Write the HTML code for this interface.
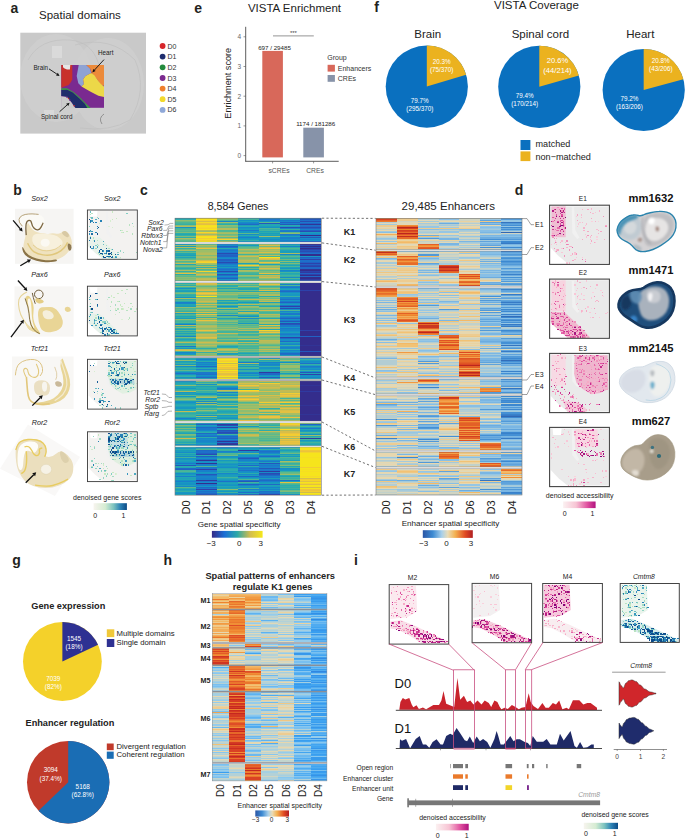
<!DOCTYPE html>
<html><head><meta charset="utf-8"><title>Figure</title>
<style>html,body{margin:0;padding:0;background:#fff;} svg{display:block;} text{font-family:"Liberation Sans",sans-serif;}</style>
</head><body>
<svg width="685" height="838" viewBox="0 0 685 838" font-family="Liberation Sans, sans-serif">
<defs><filter id="mb" x="-0.05" y="-0.05" width="1.1" height="1.1"><feGaussianBlur stdDeviation="0.3"/></filter></defs>
<rect width="685" height="838" fill="#fff"/>
<text x="10.5" y="12.8" font-size="14" font-weight="bold" fill="#231f20">a</text>
<text x="194.3" y="12.6" font-size="14" font-weight="bold" fill="#231f20">e</text>
<text x="374.3" y="12" font-size="14" font-weight="bold" fill="#231f20">f</text>
<text x="13.3" y="195.3" font-size="14" font-weight="bold" fill="#231f20">b</text>
<text x="39.5" y="201.0" font-size="7.2" font-style="italic" fill="#222" text-anchor="middle">Sox2</text>
<text x="112.2" y="201.0" font-size="7.2" font-style="italic" fill="#222" text-anchor="middle">Sox2</text>
<text x="39.5" y="277.2" font-size="7.2" font-style="italic" fill="#222" text-anchor="middle">Pax6</text>
<text x="112.2" y="277.2" font-size="7.2" font-style="italic" fill="#222" text-anchor="middle">Pax6</text>
<text x="39.5" y="351.0" font-size="7.2" font-style="italic" fill="#222" text-anchor="middle">Tcf21</text>
<text x="112.2" y="351.0" font-size="7.2" font-style="italic" fill="#222" text-anchor="middle">Tcf21</text>
<text x="39.5" y="425.09999999999997" font-size="7.2" font-style="italic" fill="#222" text-anchor="middle">Ror2</text>
<text x="112.2" y="425.09999999999997" font-size="7.2" font-style="italic" fill="#222" text-anchor="middle">Ror2</text>
<defs><filter id="ib" x="-0.1" y="-0.1" width="1.2" height="1.2"><feGaussianBlur stdDeviation="0.35"/></filter></defs>
<rect x="15" y="208.8" width="58.6" height="55" fill="#f6f5f3"/>
<rect x="14.5" y="286.4" width="59.1" height="50.2" fill="#f7f6f4"/>
<rect x="12" y="356.5" width="61.6" height="52.6" fill="#f8f7f5"/>
<polygon points="28.0,424.6 80.0,457.0 54.9,496.0 0.0,468.7" fill="#f9f8f7"/>
<g filter="url(#ib)"><path d="M18.8,219.2 Q19.4,217.0 22.1,215.5 Q24.9,214.1 28.5,213.7 Q32.1,213.3 35.3,213.7 Q38.4,214.1 41.1,215.5 Q43.9,217.0 44.5,221.0 Q45.2,225.1 43.2,227.9 Q41.1,230.7 38.4,231.2 Q35.7,231.6 33.5,230.4 Q31.2,229.2 28.9,228.7 Q26.7,228.3 24.4,227.6 Q22.1,226.9 20.1,224.2 Q18.1,221.5 18.8,219.2 Z" fill="#fbfaf6"/>
<path d="M26.4,230.5 Q26.2,233.2 25.2,237.3 Q24.1,241.4 23.6,244.6 Q23.0,247.7 24.4,250.9 Q25.8,254.1 28.9,256.3 Q32.1,258.6 36.6,260.0 Q41.1,261.5 45.7,261.6 Q50.2,261.7 54.7,260.3 Q59.2,258.9 62.9,256.7 Q66.5,254.4 68.8,251.2 Q71.2,247.9 71.7,244.6 Q72.3,241.4 70.9,237.8 Q69.6,234.1 67.2,232.2 Q64.9,230.2 63.0,231.4 Q61.1,232.7 59.2,233.4 Q57.4,234.1 55.2,233.6 Q52.9,233.1 50.7,233.6 Q48.4,234.1 45.7,233.7 Q43.0,233.2 40.2,232.9 Q37.5,232.5 35.0,231.2 Q32.6,229.8 31.2,227.7 Q29.8,225.6 28.7,223.7 Q27.6,221.9 27.0,224.9 Q26.5,227.8 26.4,230.5 Z" fill="#efe2bf"/>
<path d="M32.3,237.8 Q33.0,234.1 37.1,233.7 Q41.1,233.2 45.7,233.7 Q50.2,234.1 53.8,235.1 Q57.4,236.0 60.4,238.7 Q63.3,241.4 62.4,244.1 Q61.5,246.8 57.7,248.2 Q53.8,249.5 48.8,249.9 Q43.9,250.3 39.8,248.8 Q35.7,247.3 33.7,244.3 Q31.6,241.4 32.3,237.8 Z" fill="#f7f0dc"/>
<path d="M22.3,247.4 Q22.6,245.9 24.0,249.3 Q25.3,252.7 28.7,255.0 Q32.1,257.2 36.6,258.6 Q41.1,259.9 45.7,260.2 Q50.2,260.4 53.6,259.7 Q57.0,259.0 57.1,260.2 Q57.3,261.3 53.7,261.8 Q50.2,262.4 45.7,262.2 Q41.1,262.0 36.4,260.8 Q31.6,259.5 28.0,257.2 Q24.4,255.0 23.2,251.9 Q22.0,248.8 22.3,247.4 Z" fill="#8a7346"/>
<path d="M67.7,246.6 Q67.2,242.7 69.6,243.7 Q71.9,244.6 71.6,247.7 Q71.2,250.9 69.7,250.7 Q68.1,250.4 67.7,246.6 Z" fill="#8f7a52"/>
<path d="M26.2,235.1 Q25.6,227.8 26.1,224.2 Q26.7,220.6 28.9,220.3 Q31.2,220.1 31.6,223.1 Q32.1,226.0 33.9,228.0 Q35.7,230.1 37.8,229.9 Q39.8,229.6 40.9,227.4 Q42.1,225.1 42.6,224.0 L43.1,222.8" fill="none" stroke="#7d6842" stroke-width="1.3"/>
<path d="M22.3,226.2 Q18.3,221.9 19.0,219.4 Q19.6,216.8 22.3,215.5 Q25.0,214.2 28.6,214.0 Q32.1,213.7 35.4,214.1 L38.6,214.4" fill="none" stroke="#a58d5c" stroke-width="0.8"/>
<path d="M27.6,243.2 Q30.7,249.5 34.1,251.8 Q37.5,254.1 43.0,254.9 Q48.4,255.7 52.9,254.5 Q57.4,253.3 61.1,250.6 Q64.7,247.9 66.1,245.1 L67.6,242.3" fill="none" stroke="#e0c77c" stroke-width="1.4"/>
<path d="M33.0,245.0 Q37.5,249.5 42.1,250.4 Q46.6,251.3 51.1,250.4 Q55.6,249.5 58.3,247.3 L61.1,245.0" fill="none" stroke="#e6d092" stroke-width="1"/>
<ellipse cx="45.2" cy="242.7" rx="4.5" ry="4" fill="#fbf9f2"/>
<path d="M62.9,234.4 Q61.1,232.8 63.0,231.6 Q64.9,230.3 67.2,232.2 Q69.6,234.1 68.9,236.0 Q68.3,237.8 66.5,236.9 Q64.7,236.0 62.9,234.4 Z" fill="#d8c9a4"/>
<path d="M26.9,291.9 Q19.9,295.4 18.9,299.6 Q17.9,303.8 19.2,309.3 Q20.4,314.7 22.6,318.2 Q24.9,321.7 27.4,325.7 L29.8,329.6" fill="none" stroke="#e6d49a" stroke-width="1.1"/>
<path d="M25.9,324.7 Q24.9,321.7 27.9,324.7 Q30.8,327.7 34.3,329.6 Q37.8,331.6 35.3,331.9 Q32.8,332.1 29.8,329.9 Q26.9,327.7 25.9,324.7 Z" fill="#ecdca8"/>
<path d="M25.6,300.3 Q24.9,296.9 26.9,295.9 Q28.9,294.9 30.6,297.9 Q32.3,300.8 33.2,304.3 Q34.0,307.8 33.5,311.8 Q33.0,315.7 33.5,319.2 Q34.0,322.7 35.9,326.2 Q37.8,329.6 39.5,331.9 Q41.3,334.1 39.0,333.9 Q36.8,333.6 34.3,331.6 Q31.8,329.6 30.6,325.7 Q29.4,321.7 29.1,315.7 Q28.9,309.8 27.6,306.8 Q26.4,303.8 25.6,300.3 Z" fill="#e8d38c"/>
<path d="M27.6,301.3 Q27.4,298.9 28.6,298.4 Q29.8,297.9 30.6,300.8 Q31.3,303.8 31.5,308.8 Q31.6,313.7 32.0,317.7 Q32.3,321.7 33.6,325.2 Q34.8,328.6 33.8,328.1 Q32.8,327.7 31.6,324.2 Q30.3,320.7 29.8,315.2 Q29.4,309.8 28.6,306.8 Q27.9,303.8 27.6,301.3 Z" fill="#faf7ee"/>
<path d="M25.1,298.4 Q28.7,307.8 29.0,313.7 Q29.3,319.7 31.0,324.7 Q32.8,329.6 36.3,331.7 L39.8,333.8" fill="none" stroke="#7d6a44" stroke-width="0.9"/>
<path d="M38.0,315.2 Q37.8,307.8 41.8,307.3 Q45.7,306.8 50.2,306.9 Q54.7,307.0 58.1,311.4 Q61.6,315.7 62.6,320.2 Q63.6,324.7 60.6,328.1 Q57.7,331.6 50.2,332.2 Q42.8,332.8 40.5,327.8 Q38.3,322.7 38.0,315.2 Z" fill="#e9d596"/>
<path d="M42.8,314.7 Q41.8,310.8 45.7,310.3 Q49.7,309.8 52.2,312.8 Q54.7,315.7 53.2,317.7 Q51.7,319.7 47.7,319.2 Q43.7,318.7 42.8,314.7 Z" fill="#f5efdc"/>
<path d="M64.7,308.9 Q64.6,307.0 67.1,306.8 Q69.6,306.6 70.6,308.7 Q71.6,310.8 69.6,311.5 Q67.6,312.3 66.2,311.5 Q64.8,310.8 64.7,308.9 Z" fill="#e8d494"/>
<circle cx="38.8" cy="294.4" r="4.3" fill="none" stroke="#6e5c3a" stroke-width="1"/>
<path d="M32.3,292.9 Q33.3,297.9 34.3,300.8 L35.3,303.8" fill="none" stroke="#6e5c3a" stroke-width="1"/>
<path d="M35.3,300.3 Q34.8,297.9 37.8,298.4 Q40.8,298.9 42.8,300.3 Q44.7,301.8 42.8,302.8 Q40.8,303.8 38.3,303.3 Q35.8,302.8 35.3,300.3 Z" fill="#e4cd86"/>
<path d="M60.9,361.2 Q62.1,356.5 63.4,360.2 Q64.6,363.9 66.6,368.9 Q68.6,373.8 69.7,379.3 Q70.8,384.8 69.3,389.8 Q67.8,394.9 64.3,397.9 Q60.8,400.9 55.3,403.0 Q49.7,405.1 43.7,405.4 Q37.8,405.6 34.3,404.1 Q30.8,402.6 34.3,402.6 Q37.8,402.6 43.7,401.7 Q49.7,400.7 53.7,398.2 Q57.7,395.7 60.6,391.2 Q63.6,386.8 63.4,380.8 Q63.1,374.8 61.4,370.4 Q59.6,365.9 60.9,361.2 Z" fill="#e8d596"/>
<path d="M60.6,359.9 Q65.6,373.8 66.6,379.3 Q67.6,384.8 65.6,389.7 Q63.6,394.7 59.1,397.7 L54.7,400.7" fill="none" stroke="#f3ead0" stroke-width="1.2"/>
<path d="M15.4,375.3 Q16.1,366.9 19.0,364.0 Q21.9,361.1 26.4,360.1 Q30.8,359.1 34.3,359.6 Q37.8,360.1 39.9,362.5 Q42.0,364.9 42.5,368.4 Q43.0,371.9 41.5,373.9 L40.0,376.0" fill="none" stroke="#dcc384" stroke-width="1"/>
<path d="M25.9,376.8 Q22.9,370.9 23.9,369.4 Q24.9,367.9 26.4,368.6 Q27.9,369.4 28.1,372.1 Q28.4,374.8 31.1,376.4 Q33.8,378.0 36.1,376.9 Q38.3,375.8 38.6,372.9 Q39.0,369.9 37.6,366.9 L36.3,363.9" fill="none" stroke="#e2c97e" stroke-width="1.1"/>
<path d="M26.4,376.8 Q27.1,386.8 27.6,391.7 Q28.1,396.7 29.5,399.3 Q31.0,401.9 34.4,403.2 Q37.8,404.6 43.7,404.2 L49.7,403.8" fill="none" stroke="#e2c77a" stroke-width="1.6"/>
<path d="M34.0,386.0 Q34.0,380.3 41.9,380.3 Q49.7,380.3 50.0,388.0 Q50.2,395.7 44.0,395.7 Q37.8,395.7 35.9,393.7 Q34.0,391.7 34.0,386.0 Z" fill="#eadfc2"/>
<path d="M42.0,386.8 Q41.8,381.8 44.5,381.8 Q47.2,381.8 47.1,386.8 Q46.9,391.7 44.6,391.7 Q42.3,391.7 42.0,386.8 Z" fill="#f7f5ef"/>
<path d="M55.2,383.8 Q54.7,380.8 58.1,381.3 Q61.6,381.8 61.9,384.3 Q62.1,386.8 58.9,386.8 Q55.7,386.8 55.2,383.8 Z" fill="#c9b99a"/>
<path d="M54.7,366.9 Q57.7,373.8 56.7,376.8 L55.7,379.8" fill="none" stroke="#dccaa0" stroke-width="0.9"/>
<path d="M15.8,458.2 Q15.2,450.0 16.4,446.5 Q17.5,443.0 20.4,441.3 Q23.4,439.5 28.0,439.2 Q32.7,438.9 36.8,439.8 Q40.9,440.7 43.3,443.0 Q45.8,445.4 46.4,449.0 Q46.9,452.6 46.0,454.8 Q45.0,457.0 48.8,457.0 Q52.6,457.0 56.4,453.5 Q60.1,450.0 64.2,452.4 Q68.3,454.7 71.1,459.4 Q73.8,464.0 73.2,469.9 Q72.6,475.7 69.1,479.3 Q65.6,483.0 59.1,485.5 Q52.6,488.0 45.5,488.0 Q38.5,488.0 33.3,485.9 Q28.0,483.9 24.5,480.4 Q21.0,476.9 18.7,471.6 Q16.4,466.4 15.8,458.2 Z" fill="#ebdfbe"/>
<path d="M17.5,458.8 Q17.5,448.9 20.4,445.5 Q23.4,442.1 29.2,441.5 Q35.0,440.9 37.1,443.4 Q39.1,445.9 37.1,449.9 Q35.0,453.8 32.8,452.6 Q30.6,451.4 28.3,450.8 Q25.9,450.3 24.8,453.2 Q23.6,456.1 23.2,463.6 Q22.8,471.1 20.1,469.9 Q17.5,468.7 17.5,458.8 Z" fill="#fdfcf8"/>
<path d="M15.8,450.0 Q17.5,443.6 20.4,441.7 Q23.4,439.8 28.0,439.5 Q32.7,439.2 36.8,440.0 Q40.9,440.9 43.2,443.3 Q45.5,445.6 46.0,449.1 Q46.5,452.6 45.5,454.7 L44.6,456.8" fill="none" stroke="#e8cc60" stroke-width="1.3"/>
<path d="M24.5,446.8 Q28.3,445.6 30.0,447.9 Q31.8,450.3 32.9,452.6 Q34.1,454.9 35.9,455.5 Q37.6,456.1 38.8,454.4 Q39.9,452.6 39.4,450.8 Q38.8,449.1 40.5,448.5 L42.3,447.9" fill="none" stroke="#e8cc60" stroke-width="1.4"/>
<path d="M26.3,451.2 Q27.1,460.5 26.1,465.8 Q25.1,471.1 23.2,472.3 L21.3,473.6" fill="none" stroke="#e8cc60" stroke-width="1.4"/>
<path d="M35.0,485.1 Q46.7,486.9 52.6,485.5 Q58.4,484.1 63.2,481.7 L68.0,479.2" fill="none" stroke="#e8cc60" stroke-width="1.4"/>
<ellipse cx="46.1" cy="469.3" rx="5.5" ry="5" fill="#f6f2e6" stroke="#d8ccaa" stroke-width="0.4"/>
<path d="M60.1,454.7 Q59.6,450.0 62.5,451.8 Q65.4,453.5 67.7,457.0 Q70.1,460.5 67.7,462.3 Q65.4,464.0 63.1,461.7 Q60.7,459.4 60.1,454.7 Z" fill="#ddd0ac"/></g>
<line x1="13.1" y1="220.3" x2="20.3" y2="228.8" stroke="#111" stroke-width="1.3"/><polygon points="22.6,231.6 18.8,230.1 21.8,227.6" fill="#111"/>
<line x1="20.3" y1="265.8" x2="27.9" y2="261.3" stroke="#111" stroke-width="1.3"/><polygon points="31,259.5 28.9,263.0 26.9,259.6" fill="#111"/>
<line x1="17.9" y1="280.5" x2="25.0" y2="288.2" stroke="#111" stroke-width="1.3"/><polygon points="27.4,290.9 23.5,289.6 26.4,286.9" fill="#111"/>
<line x1="11" y1="337.1" x2="21.8" y2="322.6" stroke="#111" stroke-width="1.3"/><polygon points="23.9,319.7 23.4,323.8 20.1,321.4" fill="#111"/>
<line x1="32.3" y1="405.6" x2="40.2" y2="397.7" stroke="#111" stroke-width="1.3"/><polygon points="42.8,395.2 41.6,399.2 38.8,396.3" fill="#111"/>
<line x1="25.7" y1="482.7" x2="33.7" y2="474.7" stroke="#111" stroke-width="1.3"/><polygon points="36.2,472.2 35.1,476.2 32.2,473.3" fill="#111"/>
<rect x="87.4" y="210" width="49.9" height="49.3" fill="#fff"/>
<polygon points="88.4,211.0 136.3,211.0 136.3,258.3 102.4,258.3 94.9,252.4 88.4,245.5" fill="#f3f2f0"/>
<polygon points="89.9,211.0 97.4,211.0 96.9,216.4 90.4,216.4" fill="#fff"/>
<polygon points="105.9,211.5 107.9,211.5 108.9,230.7 112.4,237.1 110.4,238.1 106.4,233.2" fill="#f1f1f1"/>
<polygon points="88.4,237.1 99.9,237.6 109.9,247.0 117.3,254.4 121.3,258.8 102.4,258.8 94.9,252.4 88.4,246.5" fill="#e8f2ea"/>
<g filter="url(#mb)"><path d="M95.2 222.4h1.3m0 22h1.3m7.8 1.4h1.3m13-15.6h1.3m14.3 22h1.3" stroke="#a6dcc2" stroke-width="1.3" shape-rendering="crispEdges"/>
<path d="M99.1 223.6h1.3m7.8 30h1.3m3.9 3.8h1.3m6.5-27.2h1.3m-1.3 2.6h1.3m10.4-6.6h1.3" stroke="#cfecc9" stroke-width="1.3" shape-rendering="crispEdges"/>
<path d="M92.6 240.6h1.3m15.6-19.6h1.3m0 36.4h1.3m0-29.8h1.3" stroke="#d6eecf" stroke-width="1.3" shape-rendering="crispEdges"/>
<path d="M88.7 226.2h1.3m0-9h1.3m3.9 28.6h1.3m1.3 6.4h1.3m0 2.6h1.3m26-41.6h1.3" stroke="#81cec4" stroke-width="1.3" shape-rendering="crispEdges"/>
<path d="M100.4 254.8h1.3m0 0h1.3m2.6 0h1.3m5.2-42.8h1.3m-1.3 7.8h1.3m-1.3 35h1.3m2.6-36.4h1.3m2.6 39h1.3m5.2-26h1.3" stroke="#c8e9c2" stroke-width="1.3" shape-rendering="crispEdges"/>
<path d="M108.2 226.2h1.3" stroke="#ddf1d6" stroke-width="1.3" shape-rendering="crispEdges"/>
<path d="M90 214.6h1.3m-1.3 22h1.3m0-23.4h1.3m0 24.8h1.3m2.6 2.6h1.3m0 5.2h1.3m-1.3 7.8h1.3m2.6 2.6h1.3m5.2-7.8h1.3m-1.3 2.6h1.3m-1.3 6.4h1.3m1.3-7.8h1.3m10.4-16.8h1.3m5.2-7.8h1.3m1.3 9h1.3" stroke="#b9e3c1" stroke-width="1.3" shape-rendering="crispEdges"/>
<path d="M90 217.2h1.3m0 16.8h1.3m2.6 14.4h1.3m0-31.2h1.3m7.8 36.4h1.3m1.3 3.8h1.3m2.6-1.2h1.3m1.3 1.2h1.3m1.3-5.2h1.3m1.3-1.2h1.3m1.3 1.2h1.3m7.8-28.6h1.3" stroke="#93d5c3" stroke-width="1.3" shape-rendering="crispEdges"/>
<path d="M90 222.4h1.3m2.6 19.4h1.3m0-19.4h1.3m-1.3 10.4h1.3m0-6.6h1.3m-1.3 2.6h1.3m1.3 22.2h1.3m0-30h1.3m0 32.6h1.3m-1.3 1.2h1.3m3.9-3.8h1.3m0 3.8h1.3m2.6 2.6h1.3m2.6 0h1.3" stroke="#2782b6" stroke-width="1.3" shape-rendering="crispEdges"/>
<path d="M95.2 219.8h1.3m0 27.2h1.3m0-28.6h1.3m3.9 23.4h1.3m7.8 7.8h1.3m1.3 6.6h1.3m1.3-1.4h1.3" stroke="#50aac1" stroke-width="1.3" shape-rendering="crispEdges"/>
<path d="M88.7 219.8h1.3m-1.3 14.2h1.3m0 13h1.3m0-28.6h1.3m7.8 31.2h1.3m1.3 1.4h1.3m1.3-2.6h1.3m1.3 2.6h1.3m1.3 3.8h1.3m-1.3 2.6h1.3m0-1.2h1.3m1.3-1.4h1.3m-1.3 2.6h1.3" stroke="#155c98" stroke-width="1.3" shape-rendering="crispEdges"/>
<path d="M90 212h1.3m-1.3 19.4h1.3m0-14.2h1.3m-1.3 1.2h1.3m6.5 32.6h1.3m2.6-6.6h1.3m6.5 9.2h1.3m3.9 2.6h1.3" stroke="#6abec3" stroke-width="1.3" shape-rendering="crispEdges"/>
<path d="M88.7 234h1.3m0-3.8h1.3m0-9.2h1.3m-1.3 10.4h1.3m-1.3 17h1.3m0-1.4h1.3m-1.3 1.4h1.3m0-7.8h1.3m6.5 10.4h1.3m0 0h1.3m-1.3 5.2h1.3m0-2.6h1.3m-1.3 0h1.3m0-1.4h1.3m-1.3 4h1.3m3.9-1.4h1.3m2.6 2.6h1.3m0 0h1.3" stroke="#3896bf" stroke-width="1.3" shape-rendering="crispEdges"/>
<path d="M88.7 240.6h1.3m0-19.6h1.3m-1.3 17h1.3m0-4h1.3m0-11.6h1.3m5.2 29.8h1.3m1.3-1.2h1.3m-1.3 2.6h1.3m0 3.8h1.3m1.3-6.4h1.3m-1.3 2.6h1.3m0 2.6h1.3m0-1.4h1.3m-1.3 1.4h1.3m-1.3 0h1.3m0 0h1.3m1.3 0h1.3m-1.3 0h1.3m-1.3 1.2h1.3" stroke="#1e70a7" stroke-width="1.3" shape-rendering="crispEdges"/>
<path d="M88.7 219.8h1.3m-1.3 11.6h1.3m6.5 2.6h1.3m0-6.4h1.3m0 23.4h1.3m0 2.6h1.3m1.3 2.6h1.3m0 1.2h1.3m2.6-3.8h1.3m0 0h1.3m-1.3 2.6h1.3m0-4h1.3m-1.3 2.6h1.3" stroke="#0c4a89" stroke-width="1.3" shape-rendering="crispEdges"/></g>
<rect x="87.4" y="210" width="49.9" height="49.3" fill="none" stroke="#3a3a3a" stroke-width="0.9"/>
<rect x="87.4" y="286.2" width="49.9" height="49.7" fill="#fff"/>
<polygon points="88.4,287.2 136.3,287.2 136.3,334.9 102.4,334.9 94.9,328.9 88.4,322.0" fill="#f3f2f0"/>
<polygon points="89.9,287.2 97.4,287.2 96.9,292.7 90.4,292.7" fill="#fff"/>
<polygon points="105.9,287.7 107.9,287.7 108.9,307.1 112.4,313.5 110.4,314.5 106.4,309.6" fill="#f1f1f1"/>
<polygon points="88.4,313.5 99.9,314.0 109.9,323.5 117.3,330.9 121.3,335.4 102.4,335.4 94.9,328.9 88.4,323.0" fill="#e6f1ea"/>
<g filter="url(#mb)"><path d="M96.5 323.2h1.3m5.2-5.2h1.3m9.1-20.8h1.3m2.6-3.9h1.3m-1.3 7.9h1.3m1.3 3.8h1.3m0-14.3h1.3m-1.3 18.3h1.3m-1.3 0h1.3m1.3-5.3h1.3m2.6 3.9h1.3m-1.3 11.7h1.3m2.6-13h1.3" stroke="#c8e9c2" stroke-width="1.3" shape-rendering="crispEdges"/>
<path d="M88.7 318h1.3m2.6 5.2h1.3m1.3 1.3h1.3m10.4-24.7h1.3m-1.3 28.6h1.3m2.6-32.4h1.3m2.6 13h1.3m-1.3 5.2h1.3m5.2-7.9h1.3m13 2.7h1.3" stroke="#cfecc9" stroke-width="1.3" shape-rendering="crispEdges"/>
<path d="M95.2 315.4h1.3m26-6.4h1.3" stroke="#d6eecf" stroke-width="1.3" shape-rendering="crispEdges"/>
<path d="M90 299.8h1.3m3.9 18.2h1.3m1.3-3.8h1.3m0 3.8h1.3m-1.3 10.4h1.3m5.2-7.8h1.3m-1.3 2.6h1.3m-1.3 7.8h1.3m0-6.5h1.3m0-1.3h1.3m0-16.9h1.3m0-5.1h1.3m-1.3 1.2h1.3m2.6 7.8h1.3m0 20.8h1.3m0-22h1.3m0 3.8h1.3m5.2-19.5h1.3m0-3.9h1.3m-1.3 20.8h1.3m1.3 7.8h1.3m0-14.3h1.3m2.6 7.8h1.3" stroke="#b9e3c1" stroke-width="1.3" shape-rendering="crispEdges"/>
<path d="M90 309h1.3m9.1 23.3h1.3m0-10.3h1.3m-1.3 0h1.3m5.2-24.8h1.3m0 13h1.3m3.9-5.2h1.3m2.6-3.8h1.3m10.4 7.8h1.3" stroke="#a6dcc2" stroke-width="1.3" shape-rendering="crispEdges"/>
<path d="M108.2 325.8h1.3m11.7-6.5h1.3" stroke="#ddf1d6" stroke-width="1.3" shape-rendering="crispEdges"/>
<path d="M88.7 306.3h1.3m0-2.6h1.3m-1.3 9.1h1.3m-1.3 2.6h1.3m6.5 3.9h1.3m3.9 2.7h1.3m2.6 0h1.3m7.8-11.8h1.3" stroke="#93d5c3" stroke-width="1.3" shape-rendering="crispEdges"/>
<path d="M88.7 297.2h1.3m0 18.2h1.3m0-2.6h1.3m1.3 9.2h1.3m0-22.2h1.3m-1.3 20.8h1.3m0-27.3h1.3m-1.3 20.9h1.3m3.9 15.5h1.3m2.6-2.5h1.3m1.3 2.5h1.3m3.9 1.3h1.3m0-1.3h1.3m0 2.6h1.3" stroke="#6abec3" stroke-width="1.3" shape-rendering="crispEdges"/>
<path d="M88.7 320.6h1.3m0-24.6h1.3m-1.3 10.3h1.3m0 2.7h1.3m2.6-15.7h1.3m2.6 28.7h1.3m1.3 6.4h1.3m-1.3 1.3h1.3m-1.3 3.9h1.3m1.3-5.2h1.3m1.3 1.3h1.3m-1.3 5.3h1.3m0-7.8h1.3m-1.3 3.8h1.3m1.3 0h1.3m1.3 1.3h1.3m1.3 0h1.3" stroke="#0c4a89" stroke-width="1.3" shape-rendering="crispEdges"/>
<path d="M88.7 299.8h1.3m3.9 19.5h1.3m-1.3 3.9h1.3m0 2.6h1.3m2.6 1.4h1.3m1.3 2.5h1.3m3.9 3.9h1.3m0-2.6h1.3m3.9 2.6h1.3m1.3-1.3h1.3m-1.3 1.3h1.3" stroke="#50aac1" stroke-width="1.3" shape-rendering="crispEdges"/>
<path d="M96.5 299.8h1.3m-1.3 6.5h1.3m0 10.4h1.3m-1.3 1.3h1.3m1.3 0h1.3m0 13h1.3m0 0h1.3m3.9 4h1.3m0-7.8h1.3m-1.3 5.1h1.3m0-2.6h1.3m-1.3 1.3h1.3m-1.3 2.6h1.3m3.9 0h1.3" stroke="#1e70a7" stroke-width="1.3" shape-rendering="crispEdges"/>
<path d="M96.5 305h1.3m2.6 20.8h1.3m-1.3 2.6h1.3m0 1.3h1.3m0 1.3h1.3m-1.3 2.6h1.3m0-5.2h1.3m1.3 5.2h1.3m1.3-3.9h1.3m0 0h1.3m0 1.3h1.3m0-1.3h1.3" stroke="#155c98" stroke-width="1.3" shape-rendering="crispEdges"/>
<path d="M88.7 316.7h1.3m0-2.5h1.3m0 11.6h1.3m1.3-5.2h1.3m-1.3 2.6h1.3m1.3-16.9h1.3m2.6 14.3h1.3m0 6.6h1.3m-1.3 5.1h1.3m1.3-9.1h1.3m0 4h1.3m-1.3 1.2h1.3m0 6.6h1.3m2.6-6.6h1.3" stroke="#3896bf" stroke-width="1.3" shape-rendering="crispEdges"/>
<path d="M99.1 319.3h1.3m1.3 5.2h1.3m0-6.5h1.3m0 4h1.3m2.6 13h1.3m0-7.8h1.3" stroke="#81cec4" stroke-width="1.3" shape-rendering="crispEdges"/>
<path d="M96.5 323.2h1.3m0-6.5h1.3m0 10.5h1.3m0-2.7h1.3m-1.3 3.9h1.3m0 0h1.3m1.3 1.3h1.3m-1.3 5.3h1.3m2.6-7.8h1.3m0 1.2h1.3m1.3 5.2h1.3m1.3 0h1.3m1.3 0h1.3" stroke="#2782b6" stroke-width="1.3" shape-rendering="crispEdges"/></g>
<rect x="87.4" y="286.2" width="49.9" height="49.7" fill="none" stroke="#3a3a3a" stroke-width="0.9"/>
<rect x="87.5" y="359.3" width="49.8" height="49.8" fill="#fff"/>
<polygon points="88.5,360.3 136.3,360.3 136.3,408.1 102.4,408.1 95.0,402.1 88.5,395.2" fill="#f3f2f0"/>
<polygon points="90.0,360.3 97.5,360.3 97.0,365.8 90.5,365.8" fill="#fff"/>
<polygon points="105.9,360.8 107.9,360.8 108.9,380.2 112.4,386.7 110.4,387.7 106.4,382.7" fill="#f1f1f1"/>
<polygon points="108.4,360.8 135.8,360.8 136.3,389.2 129.8,392.7 122.4,393.7 114.9,389.2 109.9,384.2 107.9,376.7" fill="#e2f0e2"/>
<polygon points="108.9,378.7 133.8,378.7 134.8,384.2 112.4,384.2" fill="#b6d6dc"/>
<g filter="url(#mb)"><path d="M109.6 376.8h1.3m2.6-14.2h1.3m-1.3 7.7h1.3m0 13h1.3m6.5 5.3h1.3m6.5-10.4h1.3m2.6-17h1.3m-1.3 26h1.3" stroke="#c8e9c2" stroke-width="1.3" shape-rendering="crispEdges"/>
<path d="M112.2 367.8h1.3m1.3 20.8h1.3m9.1-22.2h1.3" stroke="#ddf1d6" stroke-width="1.3" shape-rendering="crispEdges"/>
<path d="M100.5 395h1.3m-1.3 9.2h1.3m5.2-28.6h1.3m2.6-7.8h1.3m-1.3 2.5h1.3m2.6 7.9h1.3m-1.3 7.8h1.3m-1.3 2.6h1.3m0-23.4h1.3m-1.3 9h1.3m2.6 33.8h1.3m0-31.2h1.3m1.3-15.6h1.3m-1.3 14.4h1.3m0-14.4h1.3m-1.3 2.6h1.3m3.9 24.8h1.3m0-24.8h1.3m0 20.8h1.3" stroke="#93d5c3" stroke-width="1.3" shape-rendering="crispEdges"/>
<path d="M92.7 391.2h1.3m14.3-15.6h1.3m-1.3 1.2h1.3m1.3 6.5h1.3m1.3 1.3h1.3m1.3-14.3h1.3m-1.3 19.5h1.3m0-5.2h1.3m1.3 5.2h1.3m0-10.4h1.3m0-11.6h1.3m-1.3 0h1.3m-1.3 1.2h1.3m-1.3 1.3h1.3m0 0h1.3m-1.3 2.7h1.3m0-4h1.3m0 22.2h1.3m0-1.4h1.3m1.3-13h1.3m2.6-5.2h1.3" stroke="#b9e3c1" stroke-width="1.3" shape-rendering="crispEdges"/>
<path d="M95.3 388.6h1.3m0 2.6h1.3m1.3 14.2h1.3m1.3-15.6h1.3m-1.3 4h1.3m0 0h1.3m-1.3 9h1.3m-1.3 2.6h1.3m0-7.8h1.3m1.3 7.8h1.3m-1.3 1.4h1.3m0-33.8h1.3m3.9-10.4h1.3m-1.3 6.4h1.3m0 39h1.3m0-32.4h1.3m0-5.3h1.3m0 10.5h1.3m-1.3 6.4h1.3m0-26h1.3m-1.3 4h1.3m-1.3 1.2h1.3m0 19.6h1.3m1.3-11.8h1.3m-1.3 11.8h1.3m1.3-17h1.3m2.6 13h1.3m-1.3 5.2h1.3m2.6-13h1.3" stroke="#6abec3" stroke-width="1.3" shape-rendering="crispEdges"/>
<path d="M96.6 393.8h1.3m10.4-23.5h1.3m0 11.7h1.3m2.6-1.2h1.3m6.5-7.8h1.3" stroke="#cfecc9" stroke-width="1.3" shape-rendering="crispEdges"/>
<path d="M94 371.6h1.3m5.2 20.8h1.3m10.4-20.8h1.3m2.6 14.4h1.3m6.5-17h1.3m7.8 0h1.3m0 18.2h1.3m0-3.9h1.3" stroke="#d6eecf" stroke-width="1.3" shape-rendering="crispEdges"/>
<path d="M94 363.8h1.3m3.9 35.2h1.3m-1.3 6.4h1.3m0-1.2h1.3m0-9.2h1.3m5.2-33.8h1.3m1.3 17h1.3m-1.3 6.4h1.3m0-22h1.3m3.9 13h1.3m-1.3 1.2h1.3m1.3 2.6h1.3m0-10.4h1.3m-1.3 4h1.3m2.6 7.8h1.3m3.9-13h1.3m-1.3 15.5h1.3m0-18.1h1.3" stroke="#a6dcc2" stroke-width="1.3" shape-rendering="crispEdges"/>
<path d="M101.8 408h1.3m5.2-35h1.3m0 2.6h1.3m0-4h1.3m0-7.8h1.3m0 7.8h1.3m0-1.3h1.3m-1.3 13h1.3m0-15.5h1.3m0 15.5h1.3m-1.3 5.3h1.3m0-14.4h1.3m0-7.8h1.3m1.3-5.2h1.3m0 6.6h1.3m0 20.8h1.3m1.3 2.6h1.3m1.3-4h1.3m0-22h1.3" stroke="#81cec4" stroke-width="1.3" shape-rendering="crispEdges"/>
<path d="M97.9 401.6h1.3m3.9-1.4h1.3m0 1.4h1.3m2.6-36.4h1.3m-1.3 1.2h1.3m-1.3 7.8h1.3m0-11.6h1.3m0 7.7h1.3m-1.3 35.1h1.3m0-26h1.3m1.3-3.8h1.3m-1.3 5.2h1.3m0-7.8h1.3m1.3 0h1.3m1.3-4h1.3m0-1.2h1.3m-1.3 1.2h1.3m0-5.2h1.3m-1.3 6.5h1.3m-1.3 3.9h1.3m0 4h1.3m0-7.9h1.3m5.2 16.9h1.3" stroke="#50aac1" stroke-width="1.3" shape-rendering="crispEdges"/>
<path d="M94 399h1.3m2.6-10.4h1.3m0 11.6h1.3m0 0h1.3m0-2.6h1.3m6.5-31.2h1.3m0 1.4h1.3m-1.3 5.2h1.3m0-10.4h1.3m-1.3 10.4h1.3m0 11.6h1.3m0-5.2h1.3m0-7.8h1.3m1.3-7.8h1.3m-1.3 15.6h1.3m1.3-11.6h1.3m-1.3 1.2h1.3m5.2 5.2h1.3m2.6 5.2h1.3" stroke="#3896bf" stroke-width="1.3" shape-rendering="crispEdges"/>
<path d="M92.7 365.2h1.3m9.1 36.4h1.3m6.5-19.6h1.3m0 1.3h1.3m1.3-1.3h1.3m-1.3 1.3h1.3m0-2.5h1.3m-1.3 2.5h1.3m0-22.1h1.3m-1.3 23.4h1.3m0-15.6h1.3m-1.3 10.4h1.3m1.3 0h1.3m-1.3 0h1.3m3.9 1.4h1.3m0-1.4h1.3m1.3 1.4h1.3m0-6.6h1.3m0 5.2h1.3" stroke="#2782b6" stroke-width="1.3" shape-rendering="crispEdges"/>
<path d="M88.8 371.6h1.3m2.6-6.4h1.3m0 27.2h1.3m6.5 7.8h1.3m5.2-36.4h1.3m-1.3 37.8h1.3m0-22.2h1.3m1.3 0h1.3m-1.3 1.4h1.3m1.3 0h1.3m-1.3 1.2h1.3m0-6.4h1.3m0 6.4h1.3m-1.3 1.3h1.3m5.2-2.5h1.3m-1.3 1.2h1.3m-1.3 2.6h1.3m0-6.4h1.3m0 1.2h1.3m-1.3 2.6h1.3m-1.3 1.3h1.3m1.3 0h1.3" stroke="#1e70a7" stroke-width="1.3" shape-rendering="crispEdges"/>
<path d="M99.2 402.8h1.3m1.3 1.4h1.3m2.6 2.6h1.3m0-2.6h1.3m7.8-41.6h1.3m0 1.2h1.3m-1.3 19.5h1.3m1.3-1.3h1.3m1.3-19.4h1.3m0 1.2h1.3m0-1.2h1.3m-1.3 0h1.3m-1.3 16.8h1.3m-1.3 5.2h1.3m1.3-5.2h1.3m-1.3 2.6h1.3m0 0h1.3m0-1.2h1.3m1.3-1.4h1.3" stroke="#0c4a89" stroke-width="1.3" shape-rendering="crispEdges"/>
<path d="M90.1 365.2h1.3m5.2 16.8h1.3m1.3 19.6h1.3m9.1-31.3h1.3m0 5.3h1.3m1.3-6.6h1.3m-1.3 13h1.3m0-20.8h1.3m0 2.6h1.3m0 10.4h1.3m-1.3 1.4h1.3m1.3 3.8h1.3m2.6-11.6h1.3m0 15.5h1.3m-1.3 0h1.3" stroke="#155c98" stroke-width="1.3" shape-rendering="crispEdges"/></g>
<rect x="87.5" y="359.3" width="49.8" height="49.8" fill="none" stroke="#3a3a3a" stroke-width="0.9"/>
<rect x="87.5" y="431.8" width="49.8" height="49.8" fill="#fff"/>
<polygon points="88.5,432.8 136.3,432.8 136.3,480.6 102.4,480.6 95.0,474.6 88.5,467.7" fill="#f3f2f0"/>
<polygon points="90.0,432.8 97.5,432.8 97.0,438.3 90.5,438.3" fill="#fff"/>
<polygon points="105.9,433.3 107.9,433.3 108.9,452.7 112.4,459.2 110.4,460.2 106.4,455.2" fill="#f1f1f1"/>
<polygon points="108.4,433.3 135.8,433.3 136.3,461.7 129.8,465.2 122.4,466.2 114.9,461.7 109.9,456.7 107.9,449.2" fill="#e0efe0"/>
<polygon points="108.4,433.3 127.3,433.3 128.3,447.7 108.9,448.7" fill="#c4dfe2"/>
<polygon points="108.9,451.2 133.8,451.2 134.8,456.7 112.4,456.7" fill="#b0d2dc"/>
<g filter="url(#mb)"><path d="M110.9 455.8h1.3m2.6 18.2h1.3m0-27.2h1.3m1.3-6.6h1.3m-1.3 7.8h1.3m2.6-11.6h1.3m-1.3 19.4h1.3m1.3-18.2h1.3m9.1 10.4h1.3" stroke="#d6eecf" stroke-width="1.3" shape-rendering="crispEdges"/>
<path d="M114.8 441.6h1.3" stroke="#e4f4dd" stroke-width="1.3" shape-rendering="crispEdges"/>
<path d="M91.4 466.2h1.3m1.3-19.4h1.3m2.6 16.8h1.3m3.9 0h1.3m5.2-26h1.3m1.3 17h1.3m1.3 5.2h1.3m1.3-4h1.3m2.6 5.2h1.3m0-27.2h1.3m3.9 20.8h1.3m0-9.2h1.3m0-3.8h1.3m0 19.4h1.3m2.6-9h1.3" stroke="#b9e3c1" stroke-width="1.3" shape-rendering="crispEdges"/>
<path d="M97.9 471.4h1.3m9.1-35h1.3m-1.3 6.4h1.3m0-6.4h1.3m0 5.2h1.3m0 6.4h1.3m0-10.4h1.3m0-3.8h1.3m-1.3 11.6h1.3m0-7.8h1.3m-1.3 1.4h1.3m-1.3 9h1.3m-1.3 7.8h1.3m0-22h1.3m-1.3 11.6h1.3m-1.3 5.2h1.3m0-10.4h1.3m-1.3 18.2h1.3m0-19.4h1.3m-1.3 6.4h1.3m-1.3 11.8h1.3m0-17h1.3m-1.3 1.4h1.3m-1.3 1.2h1.3m0-3.8h1.3m0 0h1.3m-1.3 16.8h1.3m0 5.2h1.3m0-26h1.3m-1.3 13h1.3m-1.3 26h1.3m0-9h1.3" stroke="#3896bf" stroke-width="1.3" shape-rendering="crispEdges"/>
<path d="M91.4 467.6h1.3m11.7 2.6h1.3m5.2-30h1.3m-1.3 0h1.3m-1.3 4h1.3m-1.3 29.8h1.3m2.6-32.4h1.3m-1.3 5.2h1.3m-1.3 6.4h1.3m0-11.6h1.3m0 10.4h1.3m1.3 5.2h1.3m0-20.8h1.3m0-2.6h1.3m-1.3 9h1.3m0-1.2h1.3m3.9 10.4h1.3m0-18.2h1.3m-1.3 10.4h1.3m0-2.6h1.3m1.3-4h1.3m-1.3 7.8h1.3" stroke="#6abec3" stroke-width="1.3" shape-rendering="crispEdges"/>
<path d="M100.5 470.2h1.3m3.9 6.4h1.3m1.3-27.2h1.3m0 2.6h1.3m0 22h1.3m0-26h1.3m0-10.4h1.3m-1.3 4h1.3m0-5.2h1.3m1.3 11.6h1.3m-1.3 1.4h1.3m2.6-4h1.3m-1.3 5.2h1.3m1.3 9.2h1.3m2.6-22.2h1.3m2.6 13h1.3m0-11.6h1.3m1.3 7.8h1.3" stroke="#81cec4" stroke-width="1.3" shape-rendering="crispEdges"/>
<path d="M91.4 449.4h1.3m5.2 20.8h1.3m3.9-5.2h1.3m5.2 10.4h1.3m9.1-24.8h1.3m5.2-14.2h1.3m-1.3 15.6h1.3m-1.3 3.8h1.3m1.3 2.6h1.3m1.3-6.4h1.3m1.3-5.2h1.3m-1.3 0h1.3" stroke="#cfecc9" stroke-width="1.3" shape-rendering="crispEdges"/>
<path d="M90.1 446.8h1.3m0 14.2h1.3m0-24.6h1.3m0 11.6h1.3m-1.3 10.4h1.3m0 10.4h1.3m0-2.6h1.3m-1.3 0h1.3m1.3 13h1.3m0-7.8h1.3m1.3 6.6h1.3m1.3-11.8h1.3m1.3-28.6h1.3m0 7.8h1.3m1.3 14.4h1.3m-1.3 20.8h1.3m1.3-26h1.3m-1.3 1.2h1.3m1.3-10.4h1.3m0-7.8h1.3m2.6 0h1.3m-1.3 10.4h1.3m0-11.6h1.3m-1.3 18.2h1.3m-1.3 9h1.3m0-14.2h1.3m1.3-11.8h1.3m1.3-1.2h1.3m1.3 16.8h1.3m-1.3 7.8h1.3m0-26h1.3" stroke="#93d5c3" stroke-width="1.3" shape-rendering="crispEdges"/>
<path d="M92.7 465h1.3m3.9-23.4h1.3m10.4-1.4h1.3m-1.3 11.8h1.3m-1.3 0h1.3m2.6-11.8h1.3m-1.3 5.2h1.3m-1.3 7.8h1.3m2.6-15.6h1.3m-1.3 4h1.3m-1.3 10.4h1.3m1.3-17h1.3m-1.3 1.4h1.3m0-1.4h1.3m-1.3 1.4h1.3m0 3.8h1.3m-1.3 13h1.3m-1.3 11.8h1.3m0-31.2h1.3m-1.3 2.6h1.3m-1.3 7.8h1.3m-1.3 10.4h1.3m0-20.8h1.3m6.5 22h1.3" stroke="#2782b6" stroke-width="1.3" shape-rendering="crispEdges"/>
<path d="M95.3 463.6h1.3m2.6-24.6h1.3m0 24.6h1.3m2.6 7.8h1.3m0 4h1.3m0-1.4h1.3m0-27.2h1.3m1.3 33.8h1.3m0-4h1.3m0-42.8h1.3m1.3 3.8h1.3m-1.3 1.4h1.3m-1.3 2.6h1.3m-1.3 5.2h1.3m2.6-7.8h1.3m0 2.6h1.3m-1.3 6.4h1.3m0 10.4h1.3m1.3-23.4h1.3m1.3 18.2h1.3m0-9h1.3m0 31.2h1.3m1.3-31.2h1.3m0 0h1.3" stroke="#a6dcc2" stroke-width="1.3" shape-rendering="crispEdges"/>
<path d="M99.2 468.8h1.3m7.8-24.6h1.3m0 2.6h1.3m-1.3 9h1.3m0-22h1.3m-1.3 11.6h1.3m3.9-6.4h1.3m-1.3 7.8h1.3m0-1.4h1.3m0 2.6h1.3m-1.3 7.8h1.3m0-9h1.3m-1.3 15.6h1.3m5.2-22.2h1.3m-1.3 2.6h1.3m6.5 15.6h1.3m-1.3 2.6h1.3m-1.3 13h1.3" stroke="#50aac1" stroke-width="1.3" shape-rendering="crispEdges"/>
<path d="M108.3 441.6h1.3m1.3 7.8h1.3m-1.3 1.2h1.3m-1.3 2.6h1.3m1.3-1.2h1.3m0-14.4h1.3m-1.3 14.4h1.3m-1.3 1.2h1.3m0 1.4h1.3m0-13h1.3m-1.3 3.8h1.3m0 9.2h1.3m0-10.4h1.3m-1.3 7.8h1.3m-1.3 1.2h1.3m0 2.6h1.3m-1.3 0h1.3m1.3-9h1.3m-1.3 6.4h1.3m0-16.8h1.3m-1.3 28.6h1.3m1.3-19.6h1.3m-1.3 6.6h1.3m1.3 0h1.3m1.3 2.6h1.3m-1.3 2.6h1.3" stroke="#155c98" stroke-width="1.3" shape-rendering="crispEdges"/>
<path d="M97.9 435h1.3m3.9 33.8h1.3m0 5.2h1.3m0-3.8h1.3m0-1.4h1.3m2.6-23.4h1.3m0 27.4h1.3m0-13h1.3m6.5 3.8h1.3m-1.3 1.4h1.3m3.9-24.8h1.3m2.6 35.2h1.3m0-26h1.3m1.3 10.4h1.3" stroke="#c8e9c2" stroke-width="1.3" shape-rendering="crispEdges"/>
<path d="M114.8 436.4h1.3m0 37.6h1.3m1.3-20.8h1.3m3.9-19.4h1.3" stroke="#ddf1d6" stroke-width="1.3" shape-rendering="crispEdges"/>
<path d="M108.3 437.6h1.3m0-2.6h1.3m-1.3 5.2h1.3m0-5.2h1.3m0 5.2h1.3m0 1.4h1.3m-1.3 10.4h1.3m0-13h1.3m-1.3 13h1.3m0-17h1.3m0 1.4h1.3m0 10.4h1.3m0-5.2h1.3m0-4h1.3m0 18.2h1.3m1.3-3.8h1.3m2.6 1.2h1.3m-1.3 2.6h1.3m2.6-3.8h1.3" stroke="#1e70a7" stroke-width="1.3" shape-rendering="crispEdges"/>
<path d="M108.3 433.8h1.3m-1.3 5.2h1.3m-1.3 1.2h1.3m-1.3 0h1.3m-1.3 4h1.3m0-4h1.3m-1.3 11.8h1.3m0-10.4h1.3m0 6.4h1.3m-1.3 0h1.3m-1.3 4h1.3m-1.3 3.8h1.3m0-9h1.3m-1.3 6.4h1.3m0-1.2h1.3m-1.3 1.2h1.3m0-1.2h1.3m0-13h1.3m0-2.6h1.3m-1.3 1.2h1.3m2.6 9.2h1.3m-1.3 5.2h1.3m-1.3 0h1.3m-1.3 5.2h1.3m0-23.4h1.3m-1.3 9h1.3m2.6 10.4h1.3m2.6 2.6h1.3m-1.3 0h1.3m0-3.8h1.3" stroke="#0c4a89" stroke-width="1.3" shape-rendering="crispEdges"/></g>
<rect x="87.5" y="431.8" width="49.8" height="49.8" fill="none" stroke="#3a3a3a" stroke-width="0.9"/>
<text x="73" y="500.3" font-size="7" fill="#222">denoised gene scores</text>
<defs><linearGradient id="gGnBu" x1="0" x2="1" y1="0" y2="0"><stop offset="0" stop-color="#f7f4ee"/><stop offset="0.35" stop-color="#d5ecd2"/><stop offset="0.6" stop-color="#7cc3bf"/><stop offset="0.8" stop-color="#2d83b6"/><stop offset="1" stop-color="#0b4a86"/></linearGradient><linearGradient id="gRdPu" x1="0" x2="1" y1="0" y2="0"><stop offset="0" stop-color="#fbf1f1"/><stop offset="0.4" stop-color="#f7c4d4"/><stop offset="0.75" stop-color="#e0509f"/><stop offset="1" stop-color="#b0127e"/></linearGradient></defs>
<rect x="93.6" y="503.2" width="33.3" height="6.8" fill="url(#gGnBu)"/>
<text x="95.2" y="518" font-size="7" fill="#222" text-anchor="middle">0</text>
<text x="123.5" y="518" font-size="7" fill="#222" text-anchor="middle">1</text>
<rect x="20.3" y="32.7" width="125.7" height="100.9" fill="#c9c9c9"/>
<ellipse cx="56" cy="78" rx="36" ry="44" fill="#d0d0d0" opacity="0.8"/>
<ellipse cx="108" cy="84" rx="36" ry="46" fill="#cfcfcf" opacity="0.8"/>
<path d="M28,60 Q40,38 70,40 Q95,42 100,70" fill="none" stroke="#bdbdbd" stroke-width="0.6"/>
<path d="M75,45 Q110,35 135,60 Q148,90 130,120 Q110,132 80,128" fill="none" stroke="#bebebe" stroke-width="0.6"/>
<path d="M102,124 Q98,118 104,114" fill="none" stroke="#555" stroke-width="0.5"/>
<rect x="52" y="46" width="10" height="12" fill="#dadada"/>
<rect x="44" y="110" width="10" height="8" fill="#d9d9d9"/>
<rect x="61.3" y="65" width="42.7" height="42.8" fill="#7a2a90"/>
<polygon points="61.3,65.0 72.3,65.0 72.3,79.3 71.1,81.7 68.7,84.9 64.6,86.5 61.3,87.7" fill="#c8312b"/>
<polygon points="63.0,65.0 70.3,65.0 69.9,69.6 67.0,69.5 64.6,68.4 63.0,67.2" fill="#e6e6e6"/>
<polygon points="78.7,65.0 86.3,65.0 90.3,68.8 91.1,72.9 85.5,76.1 83.1,79.3 83.9,84.1 81.5,86.5 78.3,83.3 76.7,76.1 77.9,69.6" fill="#8fa3d4"/>
<polygon points="86.3,65.0 104.0,65.0 104.0,85.7 100.8,84.9 97.6,80.1 94.4,76.1 91.9,73.7 90.3,68.8" fill="#ec8a3a"/>
<polygon points="91.1,72.9 94.4,75.3 97.6,80.1 100.8,84.1 104.0,86.5 104.0,96.9 98.4,95.7 91.1,92.1 87.1,89.7 81.5,86.5 83.9,84.1 83.1,79.3 85.5,76.1" fill="#ecd848"/>
<polygon points="61.3,88.3 67.0,88.3 73.6,92.0 80.1,97.6 85.7,103.2 90.7,107.9 87.1,107.9 84.7,103.8 79.1,98.2 72.7,92.5 67.0,89.9 61.3,90.0" fill="#3a9a45"/>
<polygon points="61.3,89.9 67.0,89.7 72.7,92.5 79.1,98.2 84.7,103.8 87.3,107.9 75.5,107.9 71.1,101.8 67.0,96.9 61.3,96.1" fill="#1f2d6b"/>
<polygon points="61.1,96.3 67.0,97.1 71.1,101.9 75.3,108.0 61.1,108.0" fill="#cbcbcb"/>
<rect x="67.9" y="97.8" width="1.3" height="1.3" fill="#c8312b"/>
<rect x="69.1" y="99.4" width="1.3" height="1.3" fill="#7a2a90"/>
<rect x="73.5" y="105.0" width="1.3" height="1.3" fill="#c8312b"/>
<rect x="66.2" y="96.5" width="1.3" height="1.3" fill="#7a2a90"/>
<line x1="49" y1="68.9" x2="56.9" y2="74.1" stroke="#111" stroke-width="0.9"/><polygon points="59.6,75.9 56.0,75.5 57.8,72.8" fill="#111"/>
<line x1="104" y1="59.6" x2="94.5" y2="70.0" stroke="#111" stroke-width="0.9"/><polygon points="92.3,72.4 93.3,69.0 95.6,71.1" fill="#111"/>
<line x1="59.6" y1="111.7" x2="67.2" y2="104.9" stroke="#111" stroke-width="0.9"/><polygon points="69.6,102.8 68.3,106.1 66.1,103.7" fill="#111"/>
<text x="33.4" y="69.5" font-size="6.3" fill="#222">Brain</text>
<text x="98" y="54.8" font-size="6.3" fill="#222">Heart</text>
<text x="40.9" y="119" font-size="6.3" fill="#222">Spinal cord</text>
<text x="39" y="19.3" font-size="11.5" fill="#222">Spatial domains</text>
<circle cx="162.6" cy="46.0" r="2.9" fill="#d7262b"/>
<text x="167.5" y="48.5" font-size="7" fill="#333">D0</text>
<circle cx="162.6" cy="56.6" r="2.9" fill="#1f2d6e"/>
<text x="167.5" y="59.1" font-size="7" fill="#333">D1</text>
<circle cx="162.6" cy="67.3" r="2.9" fill="#238b3d"/>
<text x="167.5" y="69.8" font-size="7" fill="#333">D2</text>
<circle cx="162.6" cy="78.0" r="2.9" fill="#7b2a8f"/>
<text x="167.5" y="80.5" font-size="7" fill="#333">D3</text>
<circle cx="162.6" cy="88.6" r="2.9" fill="#ef7f2d"/>
<text x="167.5" y="91.1" font-size="7" fill="#333">D4</text>
<circle cx="162.6" cy="99.2" r="2.9" fill="#f2d92c"/>
<text x="167.5" y="101.8" font-size="7" fill="#333">D5</text>
<circle cx="162.6" cy="109.9" r="2.9" fill="#8fa8d8"/>
<text x="167.5" y="112.4" font-size="7" fill="#333">D6</text>
<text x="247.9" y="12.4" font-size="11.5" fill="#222">VISTA Enrichment</text>
<text transform="translate(231.3,83.3) rotate(-90)" text-anchor="middle" font-size="9.1" fill="#222">Enrichment score</text>
<line x1="245.7" y1="26.8" x2="245.7" y2="161.5" stroke="#333" stroke-width="0.8"/>
<line x1="245.3" y1="161.3" x2="338.7" y2="161.3" stroke="#333" stroke-width="0.8"/>
<line x1="243.5" y1="155.6" x2="245.7" y2="155.6" stroke="#555" stroke-width="0.6"/>
<text x="241" y="157.9" font-size="6.5" fill="#666" text-anchor="end">0</text>
<line x1="243.5" y1="125.9" x2="245.7" y2="125.9" stroke="#555" stroke-width="0.6"/>
<text x="241" y="128.2" font-size="6.5" fill="#666" text-anchor="end">1</text>
<line x1="243.5" y1="96.2" x2="245.7" y2="96.2" stroke="#555" stroke-width="0.6"/>
<text x="241" y="98.5" font-size="6.5" fill="#666" text-anchor="end">2</text>
<line x1="243.5" y1="66.5" x2="245.7" y2="66.5" stroke="#555" stroke-width="0.6"/>
<text x="241" y="68.8" font-size="6.5" fill="#666" text-anchor="end">3</text>
<line x1="243.5" y1="36.8" x2="245.7" y2="36.8" stroke="#555" stroke-width="0.6"/>
<text x="241" y="39.1" font-size="6.5" fill="#666" text-anchor="end">4</text>
<line x1="272.6" y1="161.3" x2="272.6" y2="163.4" stroke="#555" stroke-width="0.6"/>
<line x1="313.6" y1="161.3" x2="313.6" y2="163.4" stroke="#555" stroke-width="0.6"/>
<rect x="262.3" y="50.9" width="20.6" height="106.5" fill="#d8685a"/>
<rect x="303.3" y="127.7" width="20.6" height="29.7" fill="#8793a9"/>
<line x1="273" y1="35.9" x2="313.8" y2="35.9" stroke="#888" stroke-width="0.9"/>
<text x="293.4" y="35" font-size="6" fill="#444" text-anchor="middle">***</text>
<text x="274.5" y="49.6" font-size="6.2" fill="#222" text-anchor="middle">697 / 29485</text>
<text x="315.7" y="125.8" font-size="6.2" fill="#222" text-anchor="middle">1174 / 181286</text>
<text x="279" y="172.5" font-size="6.8" fill="#555" text-anchor="middle">sCREs</text>
<text x="315" y="172.5" font-size="6.8" fill="#555" text-anchor="middle">CREs</text>
<text x="327.3" y="60.2" font-size="7" fill="#333">Group</text>
<rect x="327.6" y="64.8" width="7.3" height="6.8" fill="#d8685a"/>
<rect x="327.6" y="75" width="7.3" height="6.8" fill="#8793a9"/>
<text x="337.8" y="70.7" font-size="7" fill="#333">Enhancers</text>
<text x="337.8" y="81" font-size="7" fill="#333">CREs</text>
<text x="494" y="9" font-size="11.5" fill="#222">VISTA Coverage</text>
<circle cx="426.8" cy="86.6" r="41.1" fill="#0a70bf"/><path d="M426.8,86.6 L426.80,45.50 A41.1,41.1 0 0 1 466.12,74.64 Z" fill="#ebb21f"/>
<text x="427.7" y="37.9" font-size="11.5" fill="#222" text-anchor="middle">Brain</text>
<text x="441.7" y="64.1" font-size="6.3" fill="#fff" text-anchor="middle">20.3%</text>
<text x="441.7" y="71.8" font-size="6.3" fill="#fff" text-anchor="middle">(75/370)</text>
<text x="419.8" y="103.3" font-size="6.3" fill="#fff" text-anchor="middle">79.7%</text>
<text x="419.8" y="111.10000000000001" font-size="6.3" fill="#fff" text-anchor="middle">(295/370)</text>
<circle cx="539.3" cy="86.8" r="41.1" fill="#0a70bf"/><path d="M539.3,86.8 L539.30,45.70 A41.1,41.1 0 0 1 578.84,75.58 Z" fill="#ebb21f"/>
<text x="540.4" y="37.9" font-size="11.5" fill="#222" text-anchor="middle">Spinal cord</text>
<text x="557.5" y="63.400000000000006" font-size="7.6" fill="#fff" text-anchor="middle">20.6%</text>
<text x="557.5" y="72.8" font-size="7.6" fill="#fff" text-anchor="middle">(44/214)</text>
<text x="524.7" y="98.4" font-size="6.3" fill="#fff" text-anchor="middle">79.4%</text>
<text x="524.7" y="106.10000000000001" font-size="6.3" fill="#fff" text-anchor="middle">(170/214)</text>
<circle cx="643.7" cy="90" r="41.1" fill="#0a70bf"/><path d="M643.7,90 L643.70,48.90 A41.1,41.1 0 0 1 683.38,79.28 Z" fill="#ebb21f"/>
<text x="640.3" y="37.9" font-size="11.5" fill="#222" text-anchor="middle">Heart</text>
<text x="660.8" y="62.800000000000004" font-size="6.3" fill="#fff" text-anchor="middle">20.8%</text>
<text x="660.8" y="71.4" font-size="6.3" fill="#fff" text-anchor="middle">(43/206)</text>
<text x="629.5" y="101.0" font-size="6.3" fill="#fff" text-anchor="middle">79.2%</text>
<text x="629.5" y="109.2" font-size="6.3" fill="#fff" text-anchor="middle">(163/206)</text>
<rect x="520.5" y="140" width="9.9" height="10" fill="#0a70bf"/>
<rect x="520.5" y="151.4" width="9.9" height="9.7" fill="#ebb21f"/>
<text x="535.5" y="147" font-size="9.1" fill="#222">matched</text>
<text x="535.5" y="159.8" font-size="9.1" fill="#222">non−matched</text>
<text x="140" y="195.3" font-size="14" font-weight="bold" fill="#231f20">c</text>
<text x="207.7" y="209.6" font-size="10.6" fill="#222">8,584 Genes</text>
<text x="401.6" y="209.6" font-size="11.5" fill="#222">29,485 Enhancers</text>
<path d="M175 218.5h21m-21 39h21m-21 33h21m-21 15h21m-21 18h21m-21 6h21m-21 4h21m-21 6h21m-21 20h21m-21 23h21m-21 11h21m-21 13h21m-21 4h21m-21 7h21m-21 7h21m-21 9h21m-21 14h21m-21 13h21m-21 15h21m-21 3h21m-21 7h21m-21 9h21m0-116h21m-21 8h21m-21 13h21m-21 32h21m0-143h21m-21 12h21m-21 3h21m-21 15h21m-21 28h21m-21 8h21m-21 43h21m-21 4h21m-21 1h21m-21 9h21m-21 18h21m-21 42h21m-21 12h21m-21 5h21m0-267h21m-21 4h21m-21 38h21m-21 90h21m-21 21h21m-21 75h21m-21 29h21m-21 5h21m-21 7h21m-21 3h21m0-262h21m-21 33h21m-21 38h21m-21 67h21m-21 2h21m-21 7h21m-21 84h21m-21 23h21m0-266h20m-20 17h20m-20 14h20m-20 15h20m-20 2h20m-20 12h20m-20 10h20m-20 53h20m-20 118h20m-20 16h20m-20 5h20m0-116h21m-21 8h21m-21 56h21" stroke="#1fa2b8" stroke-width="1" shape-rendering="crispEdges"/>
<path d="M196 218.5h21m-21 4h21m-21 5h21m-21 5h21m0 126h21m-21 6h21m-21 2h21m0 24h21m21 39h20m0 47h21" stroke="#f6da27" stroke-width="1" shape-rendering="crispEdges"/>
<path d="M175 238.5h21m-21 12h21m-21 10h21m-21 10h21m-21 28h21m0-53h21m-21 2h21m-21 5h21m-21 4h21m-21 7h21m-21 3h21m-21 9h21m-21 23h21m-21 1h21m-21 1h21m-21 2h21m-21 8h21m-21 11h21m-21 4h21m-21 2h21m-21 4h21m-21 12h21m-21 12h21m-21 42h21m0-179h21m-21 15h21m-21 75h21m-21 42h21m0-97h21m-21 9h21m-21 8h21m-21 58h21m-21 35h21m-21 18h21m-21 1h21m-21 10h21m-21 12h21m-21 8h21m-21 1h21m-21 18h21m-21 5h21m-21 7h21m0-177h21m-21 10h21m-21 18h21m-21 28h21m-21 1h21m-21 12h21m-21 24h21m-21 37h21m-21 2h21m-21 1h21m-21 1h21m-21 20h21m-21 24h21m0-191h20m-20 107h20m-20 10h20m-20 12h20m-20 2h20m-20 13h20m-20 2h20m-20 14h20m-20 1h20m-20 6h20m-20 25h20m-20 16h20" stroke="#a9bd62" stroke-width="1" shape-rendering="crispEdges"/>
<path d="M175 234.5h21m-21 19h21m-21 1h21m-21 10h21m-21 40h21m-21 12h21m-21 15h21m-21 27h21m-21 4h21m-21 7h21m-21 2h21m-21 7h21m-21 5h21m-21 3h21m-21 1h21m-21 17h21m-21 38h21m-21 13h21m-21 12h21m-21 10h21m-21 2h21m-21 11h21m0-101h21m-21 17h21m-21 7h21m0-111h21m-21 7h21m-21 97h21m-21 6h21m-21 4h21m-21 45h21m-21 7h21m-21 10h21m-21 8h21m-21 4h21m0-272h21m-21 70h21m-21 1h21m-21 2h21m-21 6h21m-21 14h21m-21 4h21m-21 63h21m-21 69h21m-21 7h21m-21 8h21m0-238h21m-21 1h21m-21 9h21m-21 72h21m-21 12h21m-21 11h21m-21 31h21m-21 94h21m0-181h20m-20 42h20m-20 62h20m-20 89h20m0-30h21m-21 5h21m-21 3h21m-21 1h21" stroke="#23a7b2" stroke-width="1" shape-rendering="crispEdges"/>
<path d="M175 303.5h21m-21 33h21m-21 16h21m-21 134h21m0-122h21m-21 5h21m-21 7h21m-21 54h21m-21 8h21m-21 2h21m-21 1h21m-21 6h21m-21 10h21m-21 8h21m-21 11h21m-21 1h21m-21 13h21m0-269h21m-21 28h21m-21 2h21m-21 6h21m-21 58h21m-21 74h21m-21 50h21m-21 34h21m-21 21h21m0-31h21m-21 4h21m-21 2h21m-21 16h21m0-267h21m-21 146h21m-21 84h21m-21 7h21m-21 9h21m-21 3h21m-21 9h21m-21 11h21m-21 2h21m0-268h20m-20 14h20m-20 6h20m-20 13h20m-20 16h20m-20 16h20m-20 11h20m-20 1h20m-20 9h20m-20 4h20m-20 18h20m-20 1h20m-20 3h20m-20 11h20m-20 4h20m-20 2h20m-20 2h20m0-118h21m-21 2h21m-21 122h21m-21 9h21" stroke="#1885c9" stroke-width="1" shape-rendering="crispEdges"/>
<path d="M175 244.5h21m-21 104h21m-21 16h21m-21 24h21m-21 4h21m-21 4h21m-21 5h21m-21 6h21m-21 1h21m-21 11h21m-21 29h21m-21 11h21m-21 5h21m-21 10h21m-21 8h21m-21 10h21m0-134h21m-21 2h21m-21 5h21m-21 2h21m-21 26h21m-21 1h21m-21 25h21m-21 4h21m-21 49h21m-21 14h21m0-213h21m-21 109h21m-21 33h21m-21 8h21m-21 25h21m-21 9h21m-21 3h21m-21 6h21m-21 8h21m-21 10h21m-21 7h21m0-263h21m-21 3h21m-21 1h21m-21 4h21m-21 2h21m-21 7h21m-21 57h21m-21 21h21m-21 43h21m-21 60h21m-21 22h21m-21 7h21m-21 1h21m-21 8h21m-21 27h21m0-251h21m-21 207h21m-21 35h21m-21 6h21m0-270h20m-20 50h20m-20 20h20m-20 6h20m-20 1h20m-20 32h20m-20 24h20m-20 105h20m-20 14h20m0-214h21m-21 112h21m-21 57h21m-21 15h21" stroke="#1798c2" stroke-width="1" shape-rendering="crispEdges"/>
<path d="M175 469.5h21m0-45h21m-21 29h21m-21 3h21m0-210h21m-21 9h21m-21 1h21m-21 3h21m-21 1h21m-21 18h21m-21 153h21m-21 7h21m0 46h21m-21 10h21m0-117h21m0-155h20m-20 80h20m-20 16h20m0-100h21m-21 5h21m-21 5h21m-21 2h21m-21 11h21m-21 11h21m-21 5h21m-21 5h21m-21 2h21m-21 9h21m-21 63h21m-21 88h21" stroke="#2161c4" stroke-width="1" shape-rendering="crispEdges"/>
<path d="M175 219.5h21m-21 14h21m-21 4h21m-21 31h21m-21 6h21m-21 9h21m-21 2h21m-21 10h21m-21 6h21m-21 16h21m-21 18h21m-21 5h21m-21 7h21m-21 20h21m-21 8h21m-21 9h21m-21 5h21m-21 16h21m-21 4h21m-21 4h21m-21 14h21m-21 5h21m-21 13h21m-21 4h21m-21 4h21m-21 13h21m-21 6h21m-21 16h21m0-140h21m-21 13h21m-21 7h21m-21 2h21m-21 12h21m-21 5h21m-21 1h21m-21 19h21m-21 5h21m-21 20h21m-21 5h21m-21 11h21m-21 7h21m0-231h21m-21 24h21m-21 37h21m-21 1h21m-21 5h21m-21 22h21m-21 34h21m-21 57h21m-21 3h21m-21 3h21m-21 48h21m-21 4h21m-21 7h21m-21 1h21m-21 2h21m0-246h21m-21 9h21m-21 32h21m-21 2h21m-21 36h21m-21 36h21m-21 20h21m-21 105h21m-21 7h21m0-241h21m-21 59h21m-21 5h21m-21 28h21m-21 46h21m-21 38h21m-21 17h21m-21 2h21m-21 3h21m-21 29h21m0-234h20m-20 20h20m-20 2h20m-20 11h20m-20 2h20m-20 2h20m-20 12h20m-20 75h20m-20 100h20m-20 2h20m-20 4h20m-20 20h20m-20 10h20m-20 2h20m-20 2h20m0-46h21" stroke="#2bacac" stroke-width="1" shape-rendering="crispEdges"/>
<path d="M196 219.5h21m-21 7h21m-21 3h21m-21 8h21m-21 4h21m-21 55h21m0 63h21m-21 3h21m-21 8h21m-21 6h21m-21 2h21m21-121h21m20 190h21m-21 1h21m-21 1h21m-21 4h21m-21 1h21m-21 1h21m-21 1h21m-21 2h21m-21 1h21m-21 1h21m-21 1h21m-21 1h21m-21 1h21m-21 1h21m-21 1h21m-21 1h21m-21 2h21m-21 2h21m-21 2h21m-21 1h21m-21 1h21m-21 1h21m-21 2h21m-21 5h21m-21 3h21m-21 1h21m-21 2h21m-21 5h21m-21 1h21" stroke="#f6e41c" stroke-width="1" shape-rendering="crispEdges"/>
<path d="M175 232.5h21m-21 4h21m-21 3h21m-21 27h21m-21 6h21m-21 6h21m-21 15h21m-21 44h21m-21 18h21m-21 10h21m-21 55h21m-21 5h21m-21 3h21m-21 2h21m-21 4h21m0-188h21m-21 3h21m-21 6h21m-21 17h21m-21 5h21m-21 38h21m-21 4h21m-21 20h21m-21 1h21m-21 14h21m-21 42h21m0-177h21m-21 7h21m-21 9h21m-21 58h21m-21 11h21m-21 6h21m-21 10h21m-21 3h21m-21 13h21m-21 3h21m-21 5h21m-21 11h21m-21 36h21m0-140h21m-21 13h21m-21 12h21m-21 3h21m-21 5h21m-21 9h21m-21 1h21m-21 39h21m-21 3h21m-21 1h21m-21 12h21m-21 2h21m-21 67h21m-21 7h21m-21 5h21m-21 9h21m-21 1h21m-21 1h21m-21 1h21m0-177h21m-21 6h21m-21 1h21m-21 21h21m-21 10h21m-21 18h21m-21 12h21m-21 3h21m-21 2h21m-21 1h21m-21 15h21m-21 72h21m-21 2h21m-21 1h21m-21 3h21m-21 3h21m-21 8h21m0-180h20m-20 106h20m-20 35h20m-20 2h20m-20 9h20m-20 1h20m-20 49h20m-20 26h20m0-68h21" stroke="#7dbc7a" stroke-width="1" shape-rendering="crispEdges"/>
<path d="M175 223.5h21m-21 5h21m-21 28h21m-21 2h21m-21 9h21m-21 48h21m-21 6h21m-21 11h21m-21 2h21m-21 9h21m-21 47h21m-21 7h21m-21 15h21m-21 3h21m-21 1h21m-21 21h21m-21 3h21m-21 3h21m-21 14h21m-21 13h21m0-75h21m-21 10h21m-21 13h21m0-195h21m-21 60h21m-21 36h21m-21 5h21m-21 7h21m-21 1h21m-21 6h21m-21 3h21m-21 4h21m-21 38h21m-21 51h21m-21 15h21m-21 28h21m-21 15h21m0-273h21m-21 27h21m-21 8h21m-21 19h21m-21 4h21m-21 8h21m-21 2h21m-21 8h21m-21 8h21m-21 17h21m-21 2h21m-21 10h21m-21 3h21m-21 3h21m-21 2h21m-21 3h21m-21 3h21m-21 2h21m-21 6h21m-21 4h21m-21 1h21m-21 6h21m-21 2h21m-21 1h21m-21 77h21m-21 37h21m0-252h21m-21 26h21m-21 18h21m-21 31h21m-21 7h21m-21 40h21m-21 72h21m-21 16h21m0-168h20m-20 3h20m-20 8h20m-20 78h20m-20 13h20m-20 24h20m-20 54h20m-20 12h20m-20 13h20m-20 7h20m-20 4h20m-20 5h20m0-67h21m-21 11h21m-21 2h21m-21 3h21" stroke="#43b39c" stroke-width="1" shape-rendering="crispEdges"/>
<path d="M175 346.5h21m-21 117h21m0-91h21m-21 1h21m-21 55h21m-21 1h21m-21 38h21m-21 1h21m-21 13h21m-21 3h21m-21 4h21m-21 4h21m0-245h21m-21 3h21m-21 2h21m-21 20h21m-21 5h21m-21 111h21m-21 59h21m0-217h21m-21 132h21m-21 106h21m0-249h21m-21 233h21m-21 9h21m-21 4h21m-21 4h21m-21 1h21m-21 7h21m-21 2h21m-21 13h21m0-272h20m-20 11h20m-20 3h20m-20 53h20m-20 3h20m-20 11h20m-20 12h20m-20 1h20m-20 3h20m-20 3h20m-20 5h20m-20 1h20m-20 2h20m-20 6h20m0-112h21m-21 144h21m-21 62h21" stroke="#1b78cb" stroke-width="1" shape-rendering="crispEdges"/>
<path d="M175 465.5h21m0 9h21m-21 20h21m0-220h21m-21 156h21m-21 3h21m0 25h21m-21 23h21m0-258h21m-21 240h21m-21 5h21m-21 6h21m0-250h20m-20 97h20m-20 3h20m0-105h21m-21 18h21m-21 13h21m-21 101h21m-21 21h21" stroke="#2457bc" stroke-width="1" shape-rendering="crispEdges"/>
<path d="M175 220.5h21m-21 5h21m-21 52h21m-21 2h21m-21 7h21m-21 21h21m-21 12h21m-21 8h21m-21 33h21m-21 25h21m-21 14h21m0-141h21m-21 1h21m-21 26h21m-21 2h21m-21 20h21m-21 15h21m-21 1h21m-21 5h21m-21 5h21m-21 11h21m-21 2h21m-21 7h21m-21 28h21m-21 21h21m-21 8h21m0-185h21m-21 59h21m-21 8h21m-21 6h21m-21 23h21m-21 6h21m-21 21h21m-21 60h21m-21 12h21m-21 69h21m0-239h21m-21 7h21m-21 1h21m-21 8h21m-21 41h21m-21 37h21m-21 50h21m-21 11h21m-21 3h21m-21 2h21m-21 1h21m-21 17h21m0-184h21m-21 9h21m-21 14h21m-21 11h21m-21 7h21m-21 12h21m-21 3h21m-21 4h21m-21 3h21m-21 1h21m-21 7h21m-21 31h21m-21 4h21m-21 40h21m-21 2h21m-21 2h21m-21 9h21m-21 39h21m0-209h20m-20 28h20m-20 102h20m-20 12h20m-20 1h20m-20 2h20m-20 10h20m-20 1h20m-20 38h20" stroke="#8dbd71" stroke-width="1" shape-rendering="crispEdges"/>
<path d="M196 220.5h21m-21 8h21m-21 34h21m-21 9h21m0-32h21m-21 121h21m-21 12h21m21-42h21m20 122h21m-21 28h21m-21 3h21" stroke="#f5d42c" stroke-width="1" shape-rendering="crispEdges"/>
<path d="M175 222.5h21m-21 7h21m-21 2h21m-21 10h21m-21 20h21m-21 8h21m-21 31h21m-21 8h21m-21 2h21m-21 4h21m-21 6h21m-21 2h21m-21 23h21m-21 6h21m-21 49h21m-21 26h21m-21 5h21m-21 8h21m-21 32h21m0-206h21m-21 4h21m-21 39h21m-21 5h21m-21 72h21m-21 15h21m-21 11h21m-21 3h21m-21 35h21m-21 17h21m0-246h21m-21 10h21m-21 1h21m-21 70h21m-21 21h21m-21 18h21m-21 58h21m-21 11h21m-21 44h21m-21 1h21m-21 5h21m0-187h21m-21 28h21m-21 14h21m-21 5h21m-21 6h21m-21 20h21m-21 2h21m-21 13h21m-21 42h21m-21 12h21m-21 10h21m-21 3h21m-21 5h21m-21 12h21m-21 35h21m-21 9h21m0-260h21m-21 85h21m-21 21h21m-21 11h21m-21 8h21m-21 61h21m-21 24h21m-21 7h21m0-197h20m-20 18h20m-20 12h20m-20 7h20m-20 25h20m-20 61h20m-20 32h20m-20 54h20m-20 10h20m-20 12h20m0-47h21" stroke="#4fb694" stroke-width="1" shape-rendering="crispEdges"/>
<path d="M175 227.5h21m-21 61h21m-21 9h21m-21 56h21m-21 21h21m-21 3h21m-21 25h21m-21 42h21m-21 14h21m-21 4h21m-21 18h21m-21 3h21m-21 1h21m-21 9h21m0-130h21m-21 12h21m-21 9h21m-21 31h21m-21 11h21m-21 32h21m-21 4h21m-21 11h21m0-228h21m-21 20h21m-21 11h21m-21 3h21m-21 27h21m-21 89h21m-21 23h21m-21 8h21m-21 2h21m-21 28h21m-21 8h21m-21 16h21m-21 5h21m-21 8h21m0-273h21m-21 21h21m-21 75h21m-21 53h21m-21 6h21m-21 2h21m-21 74h21m-21 10h21m-21 11h21m-21 5h21m-21 10h21m0-266h21m-21 6h21m-21 131h21m-21 5h21m-21 4h21m-21 1h21m-21 7h21m0-131h20m-20 27h20m-20 29h20m-20 22h20m-20 9h20m-20 5h20m-20 7h20m-20 3h20m-20 123h20m-20 25h20m0-261h21m-21 7h21m-21 122h21m-21 9h21m-21 4h21m-21 1h21m-21 54h21m-21 4h21" stroke="#1692c5" stroke-width="1" shape-rendering="crispEdges"/>
<path d="M175 302.5h21m-21 22h21m-21 94h21m-21 58h21m-21 5h21m0-122h21m-21 3h21m-21 73h21m-21 10h21m-21 19h21m-21 6h21m-21 1h21m-21 7h21m-21 1h21m-21 6h21m0-241h21m-21 20h21m-21 2h21m-21 2h21m-21 2h21m-21 122h21m-21 53h21m-21 6h21m0-228h21m-21 14h21m-21 136h21m-21 86h21m-21 1h21m-21 29h21m0-269h21m-21 142h21m-21 88h21m-21 16h21m-21 15h21m0-258h20m-20 5h20m-20 2h20m-20 7h20m-20 1h20m-20 2h20m-20 6h20m-20 38h20m-20 63h20m0-118h21m-21 10h21m-21 138h21" stroke="#197fcb" stroke-width="1" shape-rendering="crispEdges"/>
<path d="M175 373.5h21m0 1h21m-21 62h21m-21 15h21m-21 1h21m-21 7h21m-21 16h21m-21 16h21m0-230h21m-21 8h21m-21 6h21m-21 5h21m-21 157h21m-21 5h21m-21 39h21m0-24h21m-21 13h21m-21 10h21m-21 12h21m0-41h21m-21 40h21m-21 2h21m0-194h20m-20 6h20m-20 49h20m-20 126h20m0-260h21m-21 5h21m-21 28h21m-21 5h21m-21 2h21m-21 1h21m-21 102h21" stroke="#1d70c9" stroke-width="1" shape-rendering="crispEdges"/>
<path d="M175 221.5h21m-21 28h21m-21 13h21m-21 3h21m-21 10h21m-21 123h21m-21 37h21m0-165h21m-21 21h21m-21 6h21m-21 8h21m-21 6h21m-21 13h21m-21 23h21m-21 2h21m0-122h21m-21 7h21m-21 61h21m-21 19h21m-21 11h21m-21 1h21m-21 2h21m-21 2h21m-21 4h21m-21 3h21m-21 59h21m-21 4h21m-21 14h21m-21 41h21m0-207h21m-21 20h21m-21 22h21m-21 27h21m-21 7h21m-21 2h21m-21 3h21m-21 74h21m-21 16h21m-21 14h21m-21 4h21m-21 1h21m-21 15h21m0-207h21m-21 15h21m-21 18h21m-21 19h21m-21 46h21m-21 4h21m-21 7h21m-21 27h21m-21 27h21m-21 10h21m-21 14h21m-21 4h21m-21 4h21m0-182h20m-20 99h20m-20 10h20m-20 50h20m-20 35h20m-20 9h20m-20 11h20m-20 17h20" stroke="#6dba82" stroke-width="1" shape-rendering="crispEdges"/>
<path d="M175 350.5h21m0-129h21m-21 12h21m-21 2h21m-21 48h21m-21 7h21m-21 2h21m-21 2h21m-21 18h21m0 57h21m-21 8h21m0 6h21m-21 15h21m0-153h21m-21 7h21m-21 16h21m-21 22h21m-21 101h21m-21 4h21m-21 9h21m-21 6h21m-21 3h21m0-19h20m-20 16h20m-20 15h20m-20 6h20m-20 1h20m0 46h21m-21 9h21" stroke="#d8be48" stroke-width="1" shape-rendering="crispEdges"/>
<path d="M196 454.5h21m0-201h21m-21 9h21m-21 9h21m-21 154h21m-21 7h21m21 41h21m0-246h20m-20 81h20m-20 15h20m0-102h21m-21 6h21m-21 4h21m-21 14h21m-21 2h21m-21 4h21m-21 14h21m-21 15h21" stroke="#284cb3" stroke-width="1" shape-rendering="crispEdges"/>
<path d="M175 245.5h21m0-14h21m-21 3h21m-21 16h21m-21 1h21m-21 13h21m-21 9h21m-21 15h21m-21 7h21m-21 14h21m-21 7h21m-21 13h21m-21 12h21m-21 9h21m-21 54h21m-21 12h21m0-194h21m-21 10h21m-21 9h21m-21 53h21m-21 5h21m-21 30h21m-21 14h21m-21 9h21m-21 32h21m-21 15h21m-21 6h21m0-150h21m-21 4h21m-21 12h21m-21 4h21m-21 5h21m-21 6h21m-21 6h21m-21 14h21m-21 4h21m-21 3h21m-21 74h21m-21 6h21m-21 4h21m-21 4h21m-21 5h21m-21 1h21m-21 8h21m-21 8h21m0-187h21m-21 13h21m-21 2h21m-21 12h21m-21 6h21m-21 14h21m-21 5h21m-21 4h21m-21 24h21m-21 4h21m-21 23h21m-21 4h21m-21 42h21m-21 4h21m-21 13h21m0-41h20m-20 1h20m-20 1h20m-20 61h20m-20 10h20m-20 36h20m0-39h21" stroke="#9cbe69" stroke-width="1" shape-rendering="crispEdges"/>
<path d="M175 366.5h21m-21 6h21m-21 9h21m-21 71h21m-21 4h21m-21 17h21m0-72h21m-21 2h21m-21 31h21m-21 5h21m-21 3h21m-21 2h21m-21 17h21m-21 21h21m0-224h21m-21 129h21m-21 48h21m-21 17h21m-21 15h21m0-245h21m-21 5h21m-21 7h21m-21 84h21m-21 54h21m-21 80h21m-21 19h21m-21 3h21m0-235h21m-21 126h21m-21 88h21m-21 7h21m-21 12h21m0-233h20m-20 38h20m-20 15h20m-20 11h20m-20 6h20m-20 7h20m-20 3h20m-20 16h20m-20 4h20m-20 1h20m-20 22h20m-20 106h20m0-230h21m-21 123h21m-21 8h21" stroke="#178cc7" stroke-width="1" shape-rendering="crispEdges"/>
<path d="M175 230.5h21m-21 10h21m-21 12h21m-21 7h21m-21 17h21m-21 4h21m-21 4h21m-21 8h21m-21 17h21m-21 21h21m-21 11h21m-21 29h21m-21 25h21m-21 28h21m-21 64h21m0-243h21m-21 32h21m-21 10h21m-21 17h21m-21 29h21m-21 51h21m-21 7h21m-21 18h21m-21 12h21m0-183h21m-21 3h21m-21 47h21m-21 2h21m-21 1h21m-21 6h21m-21 1h21m-21 14h21m-21 1h21m-21 4h21m-21 1h21m-21 18h21m-21 16h21m-21 34h21m-21 18h21m0-170h21m-21 14h21m-21 31h21m-21 18h21m-21 2h21m-21 10h21m-21 1h21m-21 18h21m-21 23h21m0-128h21m-21 32h21m-21 6h21m-21 10h21m-21 17h21m-21 2h21m-21 20h21m-21 2h21m-21 6h21m-21 9h21m-21 11h21m-21 75h21m-21 11h21m-21 11h21m-21 2h21m-21 3h21m0-207h20m-20 24h20m-20 103h20m-20 5h20m-20 8h20m-20 28h20m-20 19h20m-20 29h20m-20 24h20m-20 11h20" stroke="#5db98c" stroke-width="1" shape-rendering="crispEdges"/>
<path d="M196 223.5h21m-21 25h21m-21 72h21m-21 10h21m0 37h21m0 24h21m-21 29h21m0-172h21m-21 14h21m-21 70h21m-21 84h21m-21 1h21m0-22h20m-20 10h20m-20 12h20m-20 16h20m-20 6h20m-20 2h20m-20 2h20m0 8h21m-21 39h21" stroke="#ebc33d" stroke-width="1" shape-rendering="crispEdges"/>
<path d="M175 224.5h21m-21 11h21m-21 13h21m-21 3h21m-21 20h21m-21 16h21m-21 2h21m-21 5h21m-21 2h21m-21 3h21m-21 12h21m-21 15h21m-21 2h21m-21 10h21m-21 6h21m-21 19h21m-21 5h21m-21 8h21m-21 38h21m-21 15h21m-21 7h21m-21 5h21m-21 50h21m0-224h21m-21 50h21m-21 35h21m-21 19h21m-21 20h21m-21 1h21m-21 17h21m0-104h21m-21 2h21m-21 74h21m-21 12h21m-21 20h21m-21 6h21m-21 31h21m0-210h21m-21 4h21m-21 30h21m-21 9h21m-21 18h21m-21 20h21m-21 10h21m-21 3h21m-21 18h21m-21 3h21m-21 15h21m-21 1h21m-21 5h21m-21 13h21m0-160h21m-21 57h21m-21 75h21m-21 5h21m-21 83h21m-21 9h21m0-229h20m-20 20h20m-20 6h20m-20 2h20m-20 7h20m-20 5h20m-20 7h20m-20 4h20m-20 16h20m-20 49h20m-20 113h20m-20 1h20m-20 4h20m-20 8h20m-20 7h20m-20 8h20m-20 6h20m0-133h21m-21 5h21m-21 6h21m-21 63h21" stroke="#37afa4" stroke-width="1" shape-rendering="crispEdges"/>
<path d="M175 273.5h21m0-49h21m-21 90h21m-21 23h21m0 36h21m-21 1h21m21-116h21m-21 15h21m-21 11h21m-21 41h21m0 60h20m-20 11h20m-20 12h20m-20 3h20m-20 1h20m-20 30h20m-20 40h20m0-1h21m-21 3h21" stroke="#e2c142" stroke-width="1" shape-rendering="crispEdges"/>
<path d="M175 468.5h21m0-102h21m-21 11h21m-21 50h21m-21 6h21m-21 17h21m-21 37h21m-21 6h21m0-239h21m-21 9h21m-21 173h21m-21 4h21m0-216h21m-21 241h21m-21 11h21m0-103h21m-21 1h21m-21 82h21m-21 19h21m-21 5h21m-21 4h21m0-193h20m-20 47h20m-20 3h20m-20 12h20m0-127h21m-21 41h21m-21 1h21m-21 8h21" stroke="#1f69c6" stroke-width="1" shape-rendering="crispEdges"/>
<path d="M196 460.5h21m-21 3h21m0-22h21m-21 3h21m62-220h21m-21 45h21m-21 76h21m-21 40h21m-21 20h21m-21 9h21" stroke="#313496" stroke-width="1" shape-rendering="crispEdges"/>
<path d="M196 225.5h21m-21 11h21m-21 3h21m63 184h20m0 34h21m-21 12h21m-21 2h21" stroke="#f6de22" stroke-width="1" shape-rendering="crispEdges"/>
<path d="M175 226.5h21m-21 21h21m-21 65h21m-21 13h21m-21 17h21m-21 7h21m-21 42h21m0-161h21m-21 23h21m-21 1h21m-21 3h21m-21 11h21m-21 10h21m-21 28h21m-21 12h21m-21 8h21m-21 9h21m-21 1h21m-21 9h21m0-117h21m-21 1h21m-21 7h21m-21 2h21m0 11h21m-21 12h21m-21 43h21m-21 8h21m-21 18h21m-21 12h21m-21 42h21m-21 4h21m-21 28h21m0-166h21m-21 30h21m-21 15h21m-21 19h21m-21 5h21m-21 8h21m-21 1h21m-21 3h21m-21 10h21m-21 1h21m-21 9h21m-21 35h21m-21 15h21m-21 4h21m-21 10h21m-21 3h21m0-31h20m-20 5h20m-20 9h20m-20 8h20m-20 17h20m-20 4h20" stroke="#b6bc5a" stroke-width="1" shape-rendering="crispEdges"/>
<path d="M175 246.5h21m-21 9h21m-21 36h21m-21 15h21m-21 7h21m-21 5h21m-21 36h21m-21 7h21m-21 33h21m-21 9h21m-21 47h21m-21 1h21m-21 3h21m-21 7h21m-21 28h21m0-91h21m-21 19h21m-21 8h21m-21 18h21m0-176h21m-21 86h21m-21 33h21m-21 8h21m-21 23h21m-21 46h21m-21 2h21m-21 10h21m-21 1h21m-21 3h21m-21 3h21m-21 5h21m0-258h21m-21 10h21m-21 125h21m-21 111h21m-21 11h21m0-260h21m-21 7h21m-21 2h21m-21 2h21m-21 1h21m-21 3h21m-21 135h21m-21 81h21m-21 21h21m-21 5h21m-21 3h21m-21 4h21m0-264h20m-20 25h20m-20 1h20m-20 41h20m-20 11h20m-20 8h20m-20 20h20m-20 23h20m-20 18h20m-20 74h20m-20 3h20m-20 4h20m0-222h21m-21 128h21m-21 18h21m-21 49h21m-21 4h21" stroke="#1b9dbc" stroke-width="1" shape-rendering="crispEdges"/>
<path d="M196 483.5h21m83-248h21m-21 9h21m-21 2h21m-21 2h21m-21 6h21m-21 1h21m-21 15h21m-21 5h21m-21 2h21m-21 1h21m-21 5h21m-21 1h21m-21 1h21m-21 1h21m-21 1h21m-21 1h21m-21 1h21m-21 2h21m-21 1h21m-21 1h21m-21 1h21m-21 1h21m-21 1h21m-21 1h21m-21 1h21m-21 1h21m-21 1h21m-21 1h21m-21 1h21m-21 1h21m-21 1h21m-21 1h21m-21 1h21m-21 1h21m-21 1h21m-21 1h21m-21 1h21m-21 1h21m-21 1h21m-21 1h21m-21 1h21m-21 1h21m-21 1h21m-21 1h21m-21 1h21m-21 1h21m-21 1h21m-21 1h21m-21 1h21m-21 1h21m-21 1h21m-21 1h21m-21 1h21m-21 1h21m-21 1h21m-21 1h21m-21 2h21m-21 1h21m-21 1h21m-21 1h21m-21 1h21m-21 2h21m-21 1h21m-21 1h21m-21 1h21m-21 1h21m-21 1h21m-21 1h21m-21 1h21m-21 2h21m-21 1h21m-21 1h21m-21 1h21m-21 1h21m-21 2h21m-21 1h21m-21 1h21m-21 1h21m-21 26h21m-21 1h21m-21 1h21m-21 1h21m-21 2h21m-21 1h21m-21 1h21m-21 1h21m-21 1h21m-21 2h21m-21 1h21m-21 1h21m-21 1h21m-21 1h21m-21 1h21m-21 1h21m-21 1h21m-21 1h21m-21 1h21m-21 1h21m-21 1h21m-21 1h21m-21 2h21m-21 1h21m-21 1h21m-21 1h21m-21 1h21m-21 1h21m-21 1h21m-21 1h21m-21 2h21m-21 1h21m-21 1h21m-21 1h21m-21 1h21m-21 1h21" stroke="#342d8c" stroke-width="1" shape-rendering="crispEdges"/>
<path d="M196 238.5h21m-21 2h21m-21 21h21m0 100h21m0-96h21m-21 134h21m0-16h21m-21 19h21m0-9h20m-20 9h20m-20 22h20m-20 10h20m-20 1h20m0 32h21m-21 12h21m-21 12h21" stroke="#f3cd32" stroke-width="1" shape-rendering="crispEdges"/>
<path d="M175 438.5h21m0-178h21m-21 14h21m-21 10h21m-21 17h21m-21 3h21m-21 34h21m-21 4h21m0 0h21m-21 7h21m0-93h21m-21 130h21m-21 14h21m-21 17h21m-21 18h21m0-188h21m-21 12h21m-21 18h21m-21 33h21m-21 71h21m-21 6h21m0-1h20m-20 54h20m-20 4h20m0 48h21" stroke="#cfbc4d" stroke-width="1" shape-rendering="crispEdges"/>
<path d="M196 469.5h21m-21 20h21m0-62h21m21 67h21m0-188h20m-20 31h20m0-88h21m-21 10h21m-21 4h21m-21 3h21m-21 5h21m-21 3h21m-21 16h21m-21 40h21m-21 44h21" stroke="#2c42ab" stroke-width="1" shape-rendering="crispEdges"/>
<path d="M175 263.5h21m-21 148h21m0-132h21m-21 1h21m-21 9h21m-21 45h21m-21 17h21m0-18h21m-21 30h21m-21 27h21m0-138h21m-21 8h21m-21 39h21m-21 40h21m-21 56h21m-21 14h21m-21 20h21m-21 5h21m0-179h21m-21 20h21m-21 24h21m-21 2h21m-21 39h21m-21 9h21m-21 35h21m-21 1h21m-21 3h21m-21 9h21m-21 10h21m-21 4h21m-21 20h21m0-50h20m-20 2h20m-20 7h20m-20 1h20m-20 16h20m-20 29h20" stroke="#c3bb53" stroke-width="1" shape-rendering="crispEdges"/>
<path d="M196 480.5h21m0-56h21m-21 19h21m0 7h21m0-78h21m-21 99h21m20-199h21m-21 7h21m-21 112h21m-21 47h21" stroke="#2f3aa1" stroke-width="1" shape-rendering="crispEdges"/>
<path d="M196 293.5h21m0 72h21m-21 3h21m-21 3h21m-21 4h21m0 10h21m-21 11h21m21 41h20m0 13h21m-21 39h21" stroke="#f1c737" stroke-width="1" shape-rendering="crispEdges"/>
<rect x="175" y="242.4" width="146.4" height="1.2" fill="#f2f2f2"/>
<line x1="175" y1="242.2" x2="321.4" y2="242.2" stroke="#8a8a8a" stroke-width="0.4"/>
<line x1="175" y1="243.8" x2="321.4" y2="243.8" stroke="#8a8a8a" stroke-width="0.4"/>
<rect x="175" y="281.1" width="146.4" height="1.2" fill="#f2f2f2"/>
<line x1="175" y1="280.9" x2="321.4" y2="280.9" stroke="#8a8a8a" stroke-width="0.4"/>
<line x1="175" y1="282.5" x2="321.4" y2="282.5" stroke="#8a8a8a" stroke-width="0.4"/>
<rect x="175" y="356.5" width="146.4" height="1.2" fill="#9a9a9a"/>
<line x1="175" y1="356.3" x2="321.4" y2="356.3" stroke="#8a8a8a" stroke-width="0.4"/>
<line x1="175" y1="357.9" x2="321.4" y2="357.9" stroke="#8a8a8a" stroke-width="0.4"/>
<rect x="175" y="379.5" width="146.4" height="1.2" fill="#9a9a9a"/>
<line x1="175" y1="379.3" x2="321.4" y2="379.3" stroke="#8a8a8a" stroke-width="0.4"/>
<line x1="175" y1="380.9" x2="321.4" y2="380.9" stroke="#8a8a8a" stroke-width="0.4"/>
<rect x="175" y="421.5" width="146.4" height="1.2" fill="#f2f2f2"/>
<line x1="175" y1="421.3" x2="321.4" y2="421.3" stroke="#8a8a8a" stroke-width="0.4"/>
<line x1="175" y1="422.9" x2="321.4" y2="422.9" stroke="#8a8a8a" stroke-width="0.4"/>
<rect x="175" y="445.8" width="146.4" height="1.2" fill="#f2f2f2"/>
<line x1="175" y1="445.6" x2="321.4" y2="445.6" stroke="#8a8a8a" stroke-width="0.4"/>
<line x1="175" y1="447.2" x2="321.4" y2="447.2" stroke="#8a8a8a" stroke-width="0.4"/>
<rect x="175" y="218.2" width="146.4" height="277" fill="none" stroke="#777" stroke-width="0.6"/>
<path d="M376 218.5h21m-21 73h21m-21 2h21m0-67h21m-21 6h21m-21 5h21m-21 1h21m-21 25h21m-21 1h21m-21 55h21m-21 2h21m0 3h21m-21 9h21m0-61h20m-20 131h20m-20 3h20m-20 46h20m-20 2h20m-20 3h20m0-176h21m-21 79h21m-21 1h21m-21 8h21m-21 2h21m-21 46h21m-21 2h21m-21 3h21m0 24h21m-21 1h21m0 23h21" stroke="#e76c29" stroke-width="1" shape-rendering="crispEdges"/>
<path d="M376 257.5h21m-21 15h21m-21 8h21m-21 49h21m-21 17h21m-21 26h21m-21 51h21m-21 9h21m-21 37h21m-21 12h21m-21 6h21m0-269h21m-21 21h21m-21 7h21m-21 8h21m-21 16h21m-21 2h21m-21 3h21m-21 14h21m-21 2h21m-21 2h21m-21 44h21m-21 21h21m-21 63h21m-21 35h21m-21 3h21m-21 13h21m0-169h21m-21 33h21m-21 46h21m-21 91h21m0-245h20m-20 63h20m-20 137h20m-20 42h20m0-218h21m-21 8h21m-21 38h21m-21 5h21m-21 33h21m-21 56h21m-21 60h21m-21 1h21m-21 23h21m-21 3h21m0-258h21m-21 165h21" stroke="#efc783" stroke-width="1" shape-rendering="crispEdges"/>
<path d="M376 229.5h21m-21 8h21m-21 11h21m-21 29h21m-21 20h21m-21 2h21m-21 15h21m-21 2h21m-21 21h21m-21 8h21m-21 6h21m-21 5h21m-21 20h21m-21 5h21m-21 11h21m-21 1h21m-21 5h21m-21 13h21m-21 7h21m-21 16h21m-21 18h21m-21 6h21m-21 3h21m-21 31h21m-21 2h21m0-218h21m-21 60h21m-21 2h21m-21 51h21m-21 7h21m-21 5h21m-21 16h21m-21 36h21m-21 21h21m-21 8h21m-21 4h21m-21 1h21m-21 6h21m0-275h21m-21 6h21m-21 1h21m-21 5h21m-21 3h21m-21 8h21m-21 12h21m-21 8h21m-21 22h21m-21 8h21m-21 3h21m-21 7h21m-21 5h21m-21 8h21m-21 1h21m-21 23h21m-21 8h21m-21 1h21m-21 5h21m-21 12h21m-21 5h21m-21 2h21m-21 18h21m-21 11h21m-21 10h21m-21 3h21m-21 21h21m-21 3h21m-21 7h21m-21 16h21m-21 18h21m-21 10h21m-21 2h21m0-260h20m-20 6h20m-20 5h20m-20 13h20m-20 4h20m-20 3h20m-20 1h20m-20 11h20m-20 17h20m-20 9h20m-20 1h20m-20 11h20m-20 3h20m-20 1h20m-20 7h20m-20 4h20m-20 31h20m-20 6h20m-20 1h20m-20 4h20m-20 17h20m-20 4h20m-20 3h20m-20 27h20m-20 5h20m-20 9h20m-20 2h20m-20 3h20m-20 2h20m-20 32h20m-20 9h20m-20 1h20m-20 3h20m-20 9h20m0-269h21m-21 12h21m-21 24h21m-21 3h21m-21 31h21m-21 24h21m-21 4h21m-21 1h21m-21 6h21m-21 17h21m-21 32h21m-21 6h21m-21 6h21m-21 7h21m-21 10h21m-21 50h21m-21 1h21m-21 5h21m-21 1h21m-21 9h21m-21 3h21m-21 3h21m0-246h21m-21 23h21m-21 11h21m-21 10h21m-21 16h21m-21 9h21m-21 2h21m-21 1h21m-21 59h21m-21 1h21m-21 6h21m-21 60h21m-21 45h21m-21 6h21m-21 2h21m-21 3h21m-21 4h21m0-210h21m-21 54h21" stroke="#c1d1ca" stroke-width="1" shape-rendering="crispEdges"/>
<path d="M376 222.5h21m-21 22h21m-21 21h21m-21 3h21m-21 8h21m-21 22h21m-21 19h21m-21 16h21m-21 5h21m-21 10h21m-21 1h21m-21 11h21m-21 1h21m-21 1h21m-21 1h21m-21 1h21m-21 10h21m-21 15h21m-21 1h21m-21 11h21m-21 14h21m-21 1h21m-21 1h21m-21 10h21m-21 6h21m-21 6h21m-21 6h21m-21 15h21m-21 6h21m-21 8h21m-21 8h21m-21 2h21m-21 1h21m0-207h21m-21 18h21m-21 70h21m-21 5h21m-21 8h21m-21 20h21m-21 32h21m-21 3h21m-21 7h21m-21 17h21m-21 5h21m-21 12h21m-21 16h21m0-272h21m-21 12h21m-21 29h21m-21 5h21m-21 2h21m-21 2h21m-21 2h21m-21 8h21m-21 2h21m-21 14h21m-21 14h21m-21 10h21m-21 1h21m-21 1h21m-21 21h21m-21 3h21m-21 4h21m-21 9h21m-21 8h21m-21 6h21m-21 14h21m-21 36h21m-21 18h21m-21 21h21m-21 3h21m-21 2h21m-21 18h21m-21 2h21m0-268h20m-20 6h20m-20 13h20m-20 20h20m-20 46h20m-20 22h20m-20 3h20m-20 5h20m-20 18h20m-20 3h20m-20 1h20m-20 4h20m-20 10h20m-20 5h20m-20 6h20m-20 35h20m-20 28h20m-20 2h20m-20 35h20m-20 9h20m-20 2h20m0-268h21m-21 8h21m-21 2h21m-21 10h21m-21 57h21m-21 110h21m-21 1h21m-21 2h21m-21 34h21m-21 9h21m-21 22h21m-21 10h21m0-270h21m-21 42h21m-21 9h21m-21 23h21m-21 22h21m-21 2h21m-21 15h21m-21 4h21m-21 15h21m-21 13h21m-21 6h21m-21 10h21m-21 19h21m-21 5h21m-21 8h21m-21 4h21m-21 56h21m-21 5h21m-21 10h21m-21 4h21m-21 4h21m0-263h21m-21 96h21m-21 1h21m-21 9h21m-21 50h21m-21 16h21m-21 71h21" stroke="#b3cdd3" stroke-width="1" shape-rendering="crispEdges"/>
<path d="M376 236.5h21m-21 10h21m-21 10h21m-21 10h21m-21 5h21m-21 12h21m-21 1h21m-21 17h21m-21 2h21m-21 1h21m-21 2h21m-21 2h21m-21 11h21m-21 8h21m-21 5h21m-21 4h21m-21 18h21m-21 5h21m-21 6h21m-21 3h21m-21 7h21m-21 4h21m-21 3h21m-21 26h21m-21 6h21m-21 15h21m-21 11h21m-21 2h21m-21 33h21m-21 1h21m-21 7h21m-21 7h21m-21 1h21m-21 2h21m0-272h21m-21 107h21m-21 22h21m-21 12h21m-21 12h21m-21 7h21m-21 3h21m-21 3h21m-21 10h21m-21 6h21m-21 5h21m-21 2h21m-21 5h21m-21 8h21m-21 19h21m-21 4h21m-21 20h21m-21 3h21m0-230h21m-21 3h21m-21 1h21m-21 9h21m-21 14h21m-21 10h21m-21 2h21m-21 7h21m-21 23h21m-21 3h21m-21 2h21m-21 30h21m-21 12h21m-21 36h21m-21 1h21m-21 5h21m-21 5h21m-21 3h21m-21 6h21m-21 3h21m-21 4h21m-21 2h21m-21 16h21m-21 6h21m-21 15h21m-21 37h21m0-274h20m-20 6h20m-20 20h20m-20 1h20m-20 2h20m-20 4h20m-20 2h20m-20 1h20m-20 33h20m-20 24h20m-20 6h20m-20 8h20m-20 31h20m-20 12h20m-20 11h20m-20 36h20m-20 9h20m-20 5h20m-20 1h20m-20 9h20m-20 1h20m-20 21h20m-20 1h20m-20 5h20m-20 4h20m-20 13h20m-20 6h20m-20 1h20m0-275h21m-21 1h21m-21 1h21m-21 2h21m-21 13h21m-21 3h21m-21 2h21m-21 6h21m-21 2h21m-21 8h21m-21 7h21m-21 5h21m-21 20h21m-21 2h21m-21 6h21m-21 3h21m-21 6h21m-21 1h21m-21 1h21m-21 4h21m-21 3h21m-21 1h21m-21 3h21m-21 3h21m-21 4h21m-21 2h21m-21 11h21m-21 1h21m-21 42h21m-21 5h21m-21 4h21m-21 12h21m-21 2h21m-21 8h21m-21 2h21m-21 72h21m-21 3h21m0-243h21m-21 2h21m-21 10h21m-21 4h21m-21 17h21m-21 18h21m-21 50h21m-21 2h21m-21 36h21m-21 31h21m-21 7h21m-21 64h21m0-254h21m-21 60h21m-21 173h21" stroke="#d0d4c2" stroke-width="1" shape-rendering="crispEdges"/>
<path d="M376 404.5h21m21-141h21m-21 121h21m-21 14h21m-21 3h21m-21 6h21m-21 8h21m-21 6h21m-21 3h21m0-1h20m-20 48h20m-20 7h20m-20 9h20m21-267h21m-21 2h21m-21 19h21m-21 4h21m-21 39h21m-21 14h21m-21 10h21m-21 7h21m-21 4h21m-21 2h21m-21 41h21m-21 2h21m-21 73h21m-21 24h21m-21 17h21m0-260h21m-21 6h21m-21 28h21m-21 3h21m-21 5h21m-21 3h21m-21 9h21m-21 7h21m-21 4h21m-21 7h21m-21 1h21m-21 4h21m-21 3h21m-21 2h21m-21 3h21m-21 7h21m-21 31h21m-21 9h21m-21 4h21m-21 8h21m-21 27h21m-21 10h21m-21 30h21m-21 23h21m-21 3h21m-21 5h21m-21 4h21m-21 18h21m-21 1h21m-21 4h21" stroke="#5fa3dc" stroke-width="1" shape-rendering="crispEdges"/>
<path d="M376 219.5h21m0 9h21m-21 2h21m-21 71h21m21 97h20m0-25h21m-21 45h21m-21 18h21" stroke="#d34021" stroke-width="1" shape-rendering="crispEdges"/>
<path d="M376 225.5h21m-21 1h21m-21 108h21m-21 18h21m-21 58h21m-21 2h21m-21 31h21m-21 1h21m0-225h21m-21 1h21m-21 23h21m-21 4h21m-21 1h21m-21 7h21m-21 13h21m-21 1h21m-21 11h21m-21 1h21m-21 29h21m-21 14h21m-21 3h21m-21 4h21m-21 9h21m-21 13h21m-21 1h21m-21 22h21m-21 67h21m-21 22h21m-21 5h21m-21 13h21m0-255h21m-21 120h21m-21 19h21m-21 114h21m0-150h20m-20 35h20m-20 9h20m-20 45h20m-20 2h20m-20 17h20m-20 22h20m0-233h21m-21 38h21m-21 5h21m-21 20h21m-21 6h21m-21 13h21m-21 3h21m-21 16h21m-21 5h21m-21 1h21m-21 6h21m-21 55h21m-21 7h21m-21 69h21m-21 10h21m0-202h21m-21 65h21m-21 136h21" stroke="#edcc91" stroke-width="1" shape-rendering="crispEdges"/>
<path d="M376 232.5h21m-21 68h21m-21 11h21m-21 7h21m-21 2h21m-21 22h21m-21 28h21m-21 29h21m-21 10h21m0-17h21m-21 17h21m-21 3h21m-21 7h21m-21 19h21m0-209h21m-21 46h21m-21 7h21m-21 17h21m-21 3h21m-21 37h21m-21 2h21m-21 9h21m-21 18h21m-21 5h21m-21 3h21m-21 9h21m-21 19h21m-21 2h21m-21 42h21m-21 27h21m-21 12h21m-21 4h21m0-272h20m-20 73h20m-20 3h20m-20 81h20m-20 3h20m-20 69h20m-20 11h20m-20 1h20m-20 16h20m-20 7h20m0-254h21m-21 120h21m-21 48h21m-21 8h21m-21 1h21m-21 42h21m-21 9h21m-21 30h21m0-264h21m-21 4h21m-21 3h21m-21 1h21m-21 5h21m-21 13h21m-21 2h21m-21 1h21m-21 1h21m-21 12h21m-21 9h21m-21 1h21m-21 1h21m-21 19h21m-21 6h21m-21 16h21m-21 3h21m-21 18h21m-21 18h21m-21 17h21m-21 2h21m-21 26h21m-21 4h21m-21 14h21m-21 10h21m-21 27h21m-21 13h21m-21 10h21m0-245h21m-21 2h21m-21 4h21m-21 6h21m-21 2h21m-21 18h21m-21 12h21m-21 2h21m-21 8h21m-21 4h21m-21 14h21m-21 2h21m-21 4h21m-21 6h21m-21 11h21m-21 26h21m-21 15h21m-21 2h21m-21 18h21m-21 16h21m-21 16h21m-21 3h21m-21 3h21m-21 2h21m-21 9h21m-21 2h21m-21 2h21m-21 4h21m-21 41h21" stroke="#87bfe6" stroke-width="1" shape-rendering="crispEdges"/>
<path d="M376 238.5h21m-21 3h21m-21 18h21m-21 66h21m-21 15h21m-21 31h21m-21 9h21m-21 26h21m-21 16h21m-21 19h21m-21 7h21m-21 9h21m-21 14h21m0-220h21m-21 43h21m-21 29h21m-21 91h21m-21 2h21m-21 11h21m-21 5h21m-21 15h21m-21 42h21m0-263h21m-21 1h21m-21 10h21m-21 20h21m-21 2h21m-21 25h21m-21 9h21m-21 11h21m-21 6h21m-21 2h21m-21 4h21m-21 1h21m-21 18h21m-21 5h21m-21 11h21m-21 6h21m-21 2h21m-21 1h21m-21 36h21m-21 12h21m-21 9h21m-21 12h21m-21 3h21m-21 11h21m-21 4h21m-21 11h21m-21 13h21m-21 5h21m-21 4h21m0-251h20m-20 2h20m-20 1h20m-20 3h20m-20 10h20m-20 6h20m-20 33h20m-20 1h20m-20 17h20m-20 28h20m-20 4h20m-20 31h20m-20 19h20m-20 3h20m0-151h21m-21 17h21m-21 4h21m-21 32h21m-21 15h21m-21 5h21m-21 92h21m-21 42h21m-21 2h21m-21 39h21m-21 1h21m-21 6h21m0-272h21m-21 7h21m-21 2h21m-21 14h21m-21 13h21m-21 11h21m-21 1h21m-21 4h21m-21 19h21m-21 17h21m-21 15h21m-21 10h21m-21 5h21m-21 6h21m-21 3h21m-21 22h21m-21 6h21m-21 6h21m-21 3h21m-21 1h21m-21 22h21m-21 1h21m-21 1h21m-21 2h21m-21 2h21m-21 6h21m-21 6h21m-21 9h21m-21 8h21m-21 14h21m-21 19h21m0-254h21m-21 1h21m-21 5h21m-21 19h21m-21 11h21m-21 11h21m-21 3h21m-21 6h21m-21 9h21m-21 28h21m-21 10h21m-21 23h21m-21 21h21m-21 2h21m-21 41h21" stroke="#95c6e4" stroke-width="1" shape-rendering="crispEdges"/>
<path d="M376 425.5h21m21-187h21m-21 16h21m-21 1h21m-21 50h21m-21 56h21m-21 2h21m-21 53h21m-21 12h21m-21 13h21m-21 21h21m0-153h20m21-9h21m-21 10h21m-21 2h21m-21 18h21m-21 62h21m-21 17h21m-21 49h21m0-239h21m-21 4h21m-21 16h21m-21 15h21m-21 3h21m-21 5h21m-21 2h21m-21 4h21m-21 3h21m-21 10h21m-21 3h21m-21 17h21m-21 6h21m-21 12h21m-21 6h21m-21 6h21m-21 3h21m-21 4h21m-21 10h21m-21 8h21m-21 1h21m-21 2h21m-21 22h21m-21 5h21m-21 21h21m-21 14h21m-21 60h21m-21 8h21" stroke="#5199d8" stroke-width="1" shape-rendering="crispEdges"/>
<path d="M376 220.5h21m-21 34h21m-21 36h21m0-34h21m-21 3h21m-21 39h21m-21 1h21m-21 7h21m-21 7h21m0-69h21m-21 3h21m-21 81h21m0-57h20m-20 64h20m-20 1h20m-20 8h20m-20 63h20m-20 6h20m0-135h21m-21 4h21m-21 72h21m-21 5h21m-21 3h21m-21 4h21m-21 1h21m-21 7h21m-21 49h21m-21 1h21m-21 1h21m-21 3h21m-21 9h21m-21 1h21m0 6h21m-21 21h21m-21 1h21" stroke="#e36026" stroke-width="1" shape-rendering="crispEdges"/>
<path d="M376 223.5h21m-21 4h21m-21 15h21m-21 3h21m-21 15h21m-21 4h21m-21 9h21m-21 12h21m-21 39h21m-21 4h21m-21 3h21m-21 10h21m-21 14h21m-21 11h21m-21 3h21m-21 4h21m-21 12h21m-21 6h21m-21 6h21m-21 3h21m-21 28h21m-21 3h21m-21 16h21m-21 9h21m-21 3h21m-21 4h21m-21 2h21m-21 8h21m0-251h21m-21 1h21m-21 1h21m-21 20h21m-21 5h21m-21 3h21m-21 21h21m-21 1h21m-21 9h21m-21 39h21m-21 4h21m-21 8h21m-21 8h21m-21 9h21m-21 4h21m-21 2h21m-21 3h21m-21 3h21m-21 1h21m-21 4h21m-21 5h21m-21 2h21m-21 10h21m-21 1h21m-21 2h21m-21 3h21m-21 7h21m-21 15h21m-21 36h21m-21 6h21m-21 18h21m-21 5h21m-21 10h21m-21 4h21m0-272h21m-21 53h21m-21 4h21m-21 21h21m-21 39h21m-21 7h21m-21 46h21m-21 33h21m-21 10h21m-21 20h21m-21 1h21m-21 23h21m-21 2h21m-21 10h21m0-256h20m-20 1h20m-20 8h20m-20 34h20m-20 1h20m-20 2h20m-20 1h20m-20 3h20m-20 10h20m-20 3h20m-20 2h20m-20 18h20m-20 45h20m-20 22h20m-20 8h20m-20 2h20m-20 25h20m-20 7h20m-20 9h20m-20 3h20m-20 7h20m0-220h21m-21 8h21m-21 2h21m-21 10h21m-21 11h21m-21 4h21m-21 6h21m-21 5h21m-21 2h21m-21 29h21m-21 1h21m-21 10h21m-21 5h21m-21 20h21m-21 9h21m-21 38h21m-21 62h21m-21 25h21m-21 2h21m-21 20h21m0-212h21m-21 4h21m-21 8h21m-21 18h21m-21 40h21m-21 53h21m-21 9h21m-21 4h21m-21 3h21m-21 10h21m-21 12h21m-21 42h21m0-135h21m-21 130h21" stroke="#dfd8b9" stroke-width="1" shape-rendering="crispEdges"/>
<path d="M376 221.5h21m-21 30h21m-21 2h21m-21 41h21m0-59h21m-21 25h21m-21 2h21m-21 41h21m-21 2h21m0 76h21m0 23h20m-20 51h20m0-99h21m0 35h21m-21 52h21" stroke="#eb772b" stroke-width="1" shape-rendering="crispEdges"/>
<path d="M376 224.5h21m-21 7h21m-21 8h21m-21 23h21m-21 1h21m-21 16h21m-21 26h21m-21 5h21m-21 12h21m-21 4h21m-21 31h21m-21 26h21m-21 5h21m-21 19h21m-21 6h21m-21 8h21m-21 5h21m-21 20h21m-21 24h21m-21 9h21m-21 10h21m0-223h21m-21 29h21m-21 44h21m-21 9h21m-21 11h21m-21 10h21m-21 21h21m-21 3h21m-21 13h21m-21 1h21m-21 26h21m-21 2h21m-21 13h21m-21 13h21m-21 3h21m-21 12h21m-21 5h21m-21 9h21m0-269h21m-21 2h21m-21 9h21m-21 17h21m-21 25h21m-21 15h21m-21 1h21m-21 7h21m-21 3h21m-21 7h21m-21 81h21m-21 15h21m-21 28h21m-21 4h21m-21 10h21m-21 10h21m-21 10h21m-21 4h21m-21 3h21m-21 10h21m0-260h20m-20 3h20m-20 2h20m-20 21h20m-20 11h20m-20 4h20m-20 1h20m-20 10h20m-20 1h20m-20 3h20m-20 10h20m-20 9h20m-20 8h20m-20 5h20m-20 7h20m-20 45h20m-20 9h20m-20 2h20m-20 48h20m-20 41h20m-20 13h20m0-245h21m-21 9h21m-21 3h21m-21 3h21m-21 2h21m-21 2h21m-21 2h21m-21 7h21m-21 11h21m-21 120h21m-21 4h21m-21 14h21m-21 2h21m-21 32h21m-21 34h21m0-246h21m-21 4h21m-21 7h21m-21 16h21m-21 8h21m-21 9h21m-21 18h21m-21 8h21m-21 14h21m-21 16h21m-21 15h21m-21 8h21m-21 2h21m-21 3h21m-21 10h21m-21 3h21m-21 1h21m-21 11h21m-21 14h21m-21 18h21m-21 7h21m-21 7h21m-21 3h21m-21 21h21m-21 5h21m-21 5h21m-21 13h21m0-179h21m-21 3h21m-21 54h21m-21 13h21m-21 9h21m-21 18h21m-21 4h21m-21 14h21m-21 13h21m-21 16h21m-21 6h21m-21 13h21m-21 21h21m-21 5h21m-21 1h21" stroke="#a4cadb" stroke-width="1" shape-rendering="crispEdges"/>
<path d="M376 230.5h21m-21 3h21m-21 7h21m-21 21h21m-21 14h21m-21 3h21m-21 4h21m-21 30h21m-21 9h21m-21 23h21m-21 3h21m-21 3h21m-21 3h21m-21 31h21m-21 2h21m-21 44h21m-21 19h21m-21 4h21m-21 1h21m-21 1h21m-21 7h21m-21 2h21m-21 8h21m-21 5h21m-21 1h21m-21 10h21m0-243h21m-21 8h21m-21 12h21m-21 12h21m-21 5h21m-21 6h21m-21 2h21m-21 40h21m-21 17h21m-21 2h21m-21 7h21m-21 44h21m-21 18h21m-21 2h21m-21 2h21m-21 2h21m-21 2h21m-21 13h21m-21 13h21m-21 8h21m-21 2h21m-21 22h21m-21 1h21m-21 9h21m0-272h21m-21 12h21m-21 34h21m-21 28h21m-21 57h21m-21 12h21m-21 5h21m-21 79h21m-21 14h21m-21 7h21m-21 4h21m-21 18h21m-21 1h21m0-272h20m-20 31h20m-20 8h20m-20 44h20m-20 4h20m-20 21h20m-20 3h20m-20 18h20m-20 2h20m-20 15h20m-20 63h20m-20 16h20m-20 19h20m-20 1h20m-20 11h20m-20 7h20m-20 4h20m0-262h21m-21 1h21m-21 27h21m-21 8h21m-21 5h21m-21 6h21m-21 21h21m-21 32h21m-21 2h21m-21 3h21m-21 1h21m-21 1h21m-21 9h21m-21 2h21m-21 4h21m-21 32h21m-21 3h21m-21 5h21m-21 11h21m-21 1h21m-21 15h21m-21 29h21m-21 10h21m-21 6h21m-21 3h21m-21 7h21m-21 11h21m-21 2h21m0-258h21m0 251h21m-21 2h21" stroke="#e7d7ae" stroke-width="1" shape-rendering="crispEdges"/>
<path d="M376 228.5h21m-21 7h21m-21 12h21m-21 2h21m-21 18h21m-21 2h21m-21 1h21m-21 4h21m-21 39h21m-21 17h21m-21 13h21m-21 44h21m-21 9h21m-21 24h21m-21 4h21m-21 12h21m-21 1h21m0-197h21m-21 27h21m-21 4h21m-21 8h21m-21 46h21m-21 8h21m-21 2h21m-21 6h21m-21 20h21m-21 4h21m-21 2h21m-21 3h21m-21 10h21m-21 3h21m-21 22h21m-21 23h21m-21 2h21m-21 6h21m-21 1h21m-21 7h21m-21 33h21m-21 2h21m0-239h21m-21 22h21m-21 30h21m-21 70h21m-21 12h21m-21 9h21m-21 47h21m-21 22h21m0-212h20m-20 41h20m-20 13h20m-20 12h20m-20 1h20m-20 5h20m-20 6h20m-20 5h20m-20 1h20m-20 36h20m-20 12h20m-20 10h20m-20 4h20m-20 2h20m-20 26h20m-20 13h20m-20 47h20m-20 16h20m0-269h21m-21 87h21m-21 14h21m-21 21h21m-21 2h21m-21 37h21m-21 60h21m-21 7h21m-21 13h21m-21 4h21m-21 3h21m-21 25h21m0-168h21m-21 10h21m-21 134h21m-21 23h21m0-158h21m-21 118h21" stroke="#ead29f" stroke-width="1" shape-rendering="crispEdges"/>
<path d="M480 480.5h21m0-258h21m-21 123h21m-21 43h21" stroke="#3574bf" stroke-width="1" shape-rendering="crispEdges"/>
<path d="M376 309.5h21m-21 30h21m-21 96h21m0-33h21m-21 78h21m0-245h21m-21 83h21m-21 128h21m-21 10h21m-21 29h21m0-262h20m0 267h21m0-266h21m-21 13h21m-21 1h21m-21 23h21m-21 16h21m-21 5h21m-21 20h21m-21 2h21m-21 23h21m-21 14h21m-21 7h21m-21 12h21m-21 16h21m-21 11h21m-21 6h21m-21 4h21m-21 28h21m-21 9h21m-21 2h21m-21 2h21m-21 21h21m0-231h21m-21 9h21m-21 1h21m-21 15h21m-21 6h21m-21 6h21m-21 8h21m-21 2h21m-21 22h21m-21 24h21m-21 11h21m-21 15h21m-21 18h21m-21 11h21m-21 9h21m-21 35h21m-21 3h21m-21 14h21m-21 5h21m-21 6h21m-21 1h21m-21 5h21m-21 2h21m-21 2h21m-21 5h21m-21 2h21m-21 19h21" stroke="#6cacdf" stroke-width="1" shape-rendering="crispEdges"/>
<path d="M376 292.5h21m0-67h21m-21 72h21m-21 7h21m-21 10h21m0-69h21m0 93h20m-20 10h20m-20 54h20m0-127h21m-21 2h21m-21 78h21m-21 21h21m-21 45h21m0-33h21m-21 76h21m0 13h21" stroke="#f08e35" stroke-width="1" shape-rendering="crispEdges"/>
<path d="M376 419.5h21m21 8h21m0 9h20m21-197h21m-21 8h21m-21 49h21m-21 139h21m-21 4h21m-21 50h21m0-264h21m-21 4h21m-21 29h21m-21 19h21m-21 45h21m-21 20h21m-21 1h21m-21 18h21m-21 12h21m-21 6h21m-21 13h21m-21 6h21m-21 3h21m-21 11h21m-21 1h21m-21 21h21m-21 1h21" stroke="#4490d5" stroke-width="1" shape-rendering="crispEdges"/>
<path d="M397 227.5h21m-21 6h21m0 90h21m-21 9h21m0-65h20m0 98h21m-21 7h21m-21 3h21" stroke="#bc251f" stroke-width="1" shape-rendering="crispEdges"/>
<path d="M397 457.5h21m0-18h21m62-212h21m-21 14h21m-21 1h21m-21 5h21m-21 14h21m-21 48h21m-21 2h21m-21 6h21m-21 3h21m-21 10h21m-21 28h21m-21 5h21m-21 33h21m-21 4h21m-21 2h21m-21 2h21m-21 1h21m-21 4h21m-21 8h21m-21 15h21m-21 29h21m-21 32h21" stroke="#3c88d0" stroke-width="1" shape-rendering="crispEdges"/>
<path d="M397 229.5h21m-21 71h21m-21 15h21m0 7h21m-21 12h21m0 7h20m-20 5h20m-20 1h20m-20 52h20m-20 9h20m-20 3h20m-20 47h20m0-32h21m-21 7h21m0-44h21m-21 60h21m0 20h21" stroke="#ee832e" stroke-width="1" shape-rendering="crispEdges"/>
<path d="M376 258.5h21m-21 44h21m-21 5h21m-21 8h21m-21 43h21m-21 44h21m-21 3h21m-21 75h21m0-76h21m-21 21h21m-21 4h21m-21 11h21m-21 5h21m-21 9h21m0-203h21m-21 7h21m-21 6h21m-21 6h21m-21 2h21m-21 16h21m-21 68h21m-21 43h21m-21 10h21m-21 3h21m-21 7h21m-21 6h21m-21 1h21m-21 12h21m-21 21h21m0-221h20m-20 1h20m-20 4h20m-20 1h20m-20 57h20m-20 19h20m-20 36h20m-20 34h20m-20 26h20m-20 31h20m-20 32h20m0-238h21m-21 175h21m0-184h21m-21 3h21m-21 8h21m-21 1h21m-21 10h21m-21 5h21m-21 4h21m-21 7h21m-21 2h21m-21 11h21m-21 5h21m-21 1h21m-21 20h21m-21 9h21m-21 5h21m-21 1h21m-21 1h21m-21 3h21m-21 5h21m-21 1h21m-21 5h21m-21 1h21m-21 2h21m-21 11h21m-21 2h21m-21 3h21m-21 1h21m-21 2h21m-21 20h21m-21 18h21m-21 1h21m-21 2h21m-21 20h21m-21 4h21m-21 1h21m-21 13h21m-21 14h21m-21 6h21m-21 12h21m-21 1h21m-21 9h21m-21 9h21m0-261h21m-21 5h21m-21 9h21m-21 5h21m-21 20h21m-21 36h21m-21 10h21m-21 18h21m-21 6h21m-21 1h21m-21 4h21m-21 8h21m-21 12h21m-21 4h21m-21 6h21m-21 6h21m-21 2h21m-21 1h21m-21 1h21m-21 7h21m-21 17h21m-21 10h21m-21 1h21m-21 7h21m-21 1h21m-21 4h21m-21 5h21m-21 8h21m-21 1h21m-21 12h21m-21 5h21m-21 28h21m-21 1h21m-21 3h21" stroke="#7ab6e3" stroke-width="1" shape-rendering="crispEdges"/>
<path d="M397 231.5h21m0 100h21m-21 49h21m0-112h20m-20 1h20m-20 68h20m-20 8h20m-20 4h20m0-73h21m-21 9h21m-21 67h21m-21 12h21m-21 56h21m-21 7h21" stroke="#db4922" stroke-width="1" shape-rendering="crispEdges"/>
<path d="M501 232.5h21m-21 184h21" stroke="#3167b3" stroke-width="1" shape-rendering="crispEdges"/>
<path d="M376 234.5h21m-21 21h21m0 56h21m-21 5h21m-21 2h21m-21 93h21m0-81h21m0 66h20m-20 16h20m0-62h21m-21 3h21m-21 86h21" stroke="#f2ae5b" stroke-width="1" shape-rendering="crispEdges"/>
<path d="M376 288.5h21m-21 1h21m0-55h21m-21 86h21m0-72h21m0 17h20m-20 75h20m-20 2h20m-20 114h20m0-182h21m-21 84h21m-21 5h21m-21 67h21m-21 2h21m-21 2h21m-21 6h21m0 5h21m-21 18h21" stroke="#e05424" stroke-width="1" shape-rendering="crispEdges"/>
<path d="M376 252.5h21m0-16h21m21 30h20m-20 4h20" stroke="#c42e20" stroke-width="1" shape-rendering="crispEdges"/>
<path d="M376 323.5h21m-21 12h21m-21 32h21m-21 36h21m-21 83h21m0-245h21m-21 51h21m-21 15h21m-21 22h21m-21 3h21m-21 12h21m-21 1h21m-21 1h21m-21 26h21m-21 99h21m0-235h21m-21 44h21m-21 74h21m-21 39h21m0-111h20m-20 39h20m-20 84h20m-20 44h20m0-156h21m-21 23h21m-21 24h21m-21 115h21m-21 6h21" stroke="#f2c274" stroke-width="1" shape-rendering="crispEdges"/>
<path d="M376 243.5h21m-21 38h21m0-39h21m-21 42h21m-21 1h21m-21 24h21m-21 34h21m0-87h21m-21 119h21m-21 108h21m0-144h20m-20 14h20m-20 56h20m-20 20h20m0-150h21m-21 1h21m-21 12h21m-21 28h21m-21 50h21m-21 17h21m-21 105h21m0-39h21m0 18h21m-21 1h21m-21 3h21" stroke="#f3b967" stroke-width="1" shape-rendering="crispEdges"/>
<path d="M501 243.5h21m-21 8h21m-21 43h21m-21 8h21m-21 22h21m-21 2h21m-21 25h21m-21 64h21m-21 23h21" stroke="#377ac5" stroke-width="1" shape-rendering="crispEdges"/>
<path d="M376 295.5h21m0-38h21m-21 4h21m-21 41h21m-21 6h21m-21 9h21m-21 35h21m-21 30h21m0-136h21m-21 133h21m0 21h20m-20 10h20m0-126h21m-21 151h21m0-45h21" stroke="#f19942" stroke-width="1" shape-rendering="crispEdges"/>
<path d="M376 296.5h21m0-38h21m-21 54h21m0 17h21m0 14h20m-20 58h20m-20 52h20m0-170h21m-21 68h21m-21 6h21m-21 11h21m-21 61h21m-21 2h21m0 17h21m0 25h21" stroke="#f1a34e" stroke-width="1" shape-rendering="crispEdges"/>
<path d="M376 438.5h21m21-51h21m62-113h21m-21 15h21m-21 15h21m-21 10h21m-21 57h21m-21 43h21m-21 19h21m-21 59h21" stroke="#3a81ca" stroke-width="1" shape-rendering="crispEdges"/>
<path d="M501 316.5h21m-21 44h21" stroke="#336db9" stroke-width="1" shape-rendering="crispEdges"/>
<path d="M418 325.5h21m-21 1h21m-21 1h21m0 70h20" stroke="#cb3721" stroke-width="1" shape-rendering="crispEdges"/>
<rect x="376" y="249.7" width="146" height="1.2" fill="#f2f2f2"/>
<line x1="376" y1="249.5" x2="522" y2="249.5" stroke="#777" stroke-width="0.45"/>
<line x1="376" y1="251.1" x2="522" y2="251.1" stroke="#777" stroke-width="0.45"/>
<rect x="376" y="286.5" width="146" height="1.2" fill="#f2f2f2"/>
<line x1="376" y1="286.3" x2="522" y2="286.3" stroke="#777" stroke-width="0.45"/>
<line x1="376" y1="287.9" x2="522" y2="287.9" stroke="#777" stroke-width="0.45"/>
<rect x="376" y="377.5" width="146" height="1.2" fill="#f2f2f2"/>
<line x1="376" y1="377.3" x2="522" y2="377.3" stroke="#777" stroke-width="0.45"/>
<line x1="376" y1="378.9" x2="522" y2="378.9" stroke="#777" stroke-width="0.45"/>
<rect x="376" y="394.2" width="146" height="1.2" fill="#f2f2f2"/>
<line x1="376" y1="394.0" x2="522" y2="394.0" stroke="#777" stroke-width="0.45"/>
<line x1="376" y1="395.6" x2="522" y2="395.6" stroke="#777" stroke-width="0.45"/>
<rect x="376" y="450.5" width="146" height="1.2" fill="#f2f2f2"/>
<line x1="376" y1="450.3" x2="522" y2="450.3" stroke="#777" stroke-width="0.45"/>
<line x1="376" y1="451.9" x2="522" y2="451.9" stroke="#777" stroke-width="0.45"/>
<rect x="376" y="467.1" width="146" height="1.2" fill="#f2f2f2"/>
<line x1="376" y1="466.9" x2="522" y2="466.9" stroke="#777" stroke-width="0.45"/>
<line x1="376" y1="468.5" x2="522" y2="468.5" stroke="#777" stroke-width="0.45"/>
<rect x="376" y="218.4" width="146" height="276.6" fill="none" stroke="#777" stroke-width="0.6"/>
<line x1="322" y1="218.2" x2="375.6" y2="218.4" stroke="#333" stroke-width="0.7" stroke-dasharray="2.2,2.2"/>
<line x1="322" y1="242.9" x2="375.6" y2="250.2" stroke="#333" stroke-width="0.7" stroke-dasharray="2.2,2.2"/>
<line x1="322" y1="281.6" x2="375.6" y2="287.0" stroke="#333" stroke-width="0.7" stroke-dasharray="2.2,2.2"/>
<line x1="322" y1="357.0" x2="375.6" y2="378.0" stroke="#333" stroke-width="0.7" stroke-dasharray="2.2,2.2"/>
<line x1="322" y1="380.0" x2="375.6" y2="394.7" stroke="#333" stroke-width="0.7" stroke-dasharray="2.2,2.2"/>
<line x1="322" y1="422.0" x2="375.6" y2="451.0" stroke="#333" stroke-width="0.7" stroke-dasharray="2.2,2.2"/>
<line x1="322" y1="446.3" x2="375.6" y2="467.6" stroke="#333" stroke-width="0.7" stroke-dasharray="2.2,2.2"/>
<line x1="322" y1="495.2" x2="375.6" y2="495.0" stroke="#333" stroke-width="0.7" stroke-dasharray="2.2,2.2"/>
<text x="349.5" y="235.0" font-size="9" font-weight="bold" fill="#222" text-anchor="middle">K1</text>
<text x="349.5" y="263.0" font-size="9" font-weight="bold" fill="#222" text-anchor="middle">K2</text>
<text x="349.5" y="322.8" font-size="9" font-weight="bold" fill="#222" text-anchor="middle">K3</text>
<text x="349.5" y="380.5" font-size="9" font-weight="bold" fill="#222" text-anchor="middle">K4</text>
<text x="349.5" y="415.1" font-size="9" font-weight="bold" fill="#222" text-anchor="middle">K5</text>
<text x="349.5" y="450.3" font-size="9" font-weight="bold" fill="#222" text-anchor="middle">K6</text>
<text x="349.5" y="477.2" font-size="9" font-weight="bold" fill="#222" text-anchor="middle">K7</text>
<text x="148.3" y="224.8" font-size="6.8" font-style="italic" fill="#222">Sox2</text>
<text x="147" y="231.4" font-size="6.8" font-style="italic" fill="#222">Pax6</text>
<text x="141.3" y="237.9" font-size="6.8" font-style="italic" fill="#222">Rbfox3</text>
<text x="140" y="245.4" font-size="6.8" font-style="italic" fill="#222">Notch1</text>
<text x="143.1" y="252.0" font-size="6.8" font-style="italic" fill="#222">Nova2</text>
<polyline points="164.5,225.1 168,224.7 170.2,223.4 173.3,223.4" fill="none" stroke="#555" stroke-width="0.45"/>
<polyline points="163.2,230.4 166.7,230.4 168.9,226 173.3,226" fill="none" stroke="#555" stroke-width="0.45"/>
<polyline points="163.2,235.5 166.7,235.5 168.9,228.2 173.3,228.2" fill="none" stroke="#555" stroke-width="0.45"/>
<polyline points="163.2,241.6 166.7,241.6 168.5,230.8 173.3,230.8" fill="none" stroke="#555" stroke-width="0.45"/>
<polyline points="163.2,247.9 166.7,247.9 168,233.4 173.3,233.4" fill="none" stroke="#555" stroke-width="0.45"/>
<text x="143.5" y="395.0" font-size="6.8" font-style="italic" fill="#222">Tcf21</text>
<text x="145.3" y="401.7" font-size="6.8" font-style="italic" fill="#222">Ror2</text>
<text x="144.4" y="409.0" font-size="6.8" font-style="italic" fill="#222">Sptb</text>
<text x="144.2" y="416.0" font-size="6.8" font-style="italic" fill="#222">Rarg</text>
<polyline points="161.9,394 165.8,394.4 168.9,397.5 172,397.5" fill="none" stroke="#555" stroke-width="0.45"/>
<polyline points="161.9,400.6 166.3,401 168.9,402.3 172,402.3" fill="none" stroke="#555" stroke-width="0.45"/>
<polyline points="161.9,407.6 166.3,407.1 168.9,406.3 172,406.3" fill="none" stroke="#555" stroke-width="0.45"/>
<polyline points="161.9,415.5 164.5,415 168,411.3 172,411.1" fill="none" stroke="#555" stroke-width="0.45"/>
<text transform="translate(189.5,500.5) rotate(-90)" font-size="11" fill="#222" text-anchor="end" dy="0">D0</text>
<text transform="translate(390.4,500.5) rotate(-90)" font-size="11" fill="#222" text-anchor="end" dy="0">D0</text>
<text transform="translate(210.4,500.5) rotate(-90)" font-size="11" fill="#222" text-anchor="end" dy="0">D1</text>
<text transform="translate(411.3,500.5) rotate(-90)" font-size="11" fill="#222" text-anchor="end" dy="0">D1</text>
<text transform="translate(231.3,500.5) rotate(-90)" font-size="11" fill="#222" text-anchor="end" dy="0">D2</text>
<text transform="translate(432.1,500.5) rotate(-90)" font-size="11" fill="#222" text-anchor="end" dy="0">D2</text>
<text transform="translate(252.2,500.5) rotate(-90)" font-size="11" fill="#222" text-anchor="end" dy="0">D5</text>
<text transform="translate(453.0,500.5) rotate(-90)" font-size="11" fill="#222" text-anchor="end" dy="0">D5</text>
<text transform="translate(273.1,500.5) rotate(-90)" font-size="11" fill="#222" text-anchor="end" dy="0">D6</text>
<text transform="translate(473.9,500.5) rotate(-90)" font-size="11" fill="#222" text-anchor="end" dy="0">D6</text>
<text transform="translate(294.0,500.5) rotate(-90)" font-size="11" fill="#222" text-anchor="end" dy="0">D3</text>
<text transform="translate(494.7,500.5) rotate(-90)" font-size="11" fill="#222" text-anchor="end" dy="0">D3</text>
<text transform="translate(314.9,500.5) rotate(-90)" font-size="11" fill="#222" text-anchor="end" dy="0">D4</text>
<text transform="translate(515.6,500.5) rotate(-90)" font-size="11" fill="#222" text-anchor="end" dy="0">D4</text>
<text x="239.2" y="527.4" font-size="8.1" fill="#222" text-anchor="middle">Gene spatial specificity</text>
<text x="450.5" y="526.4" font-size="8.1" fill="#222" text-anchor="middle">Enhancer spatial specificity</text>
<defs><linearGradient id="gPar" x1="0" x2="1"><stop offset="0" stop-color="#352a87"/><stop offset="0.25" stop-color="#1a6fd6"/><stop offset="0.5" stop-color="#2aa8a8"/><stop offset="0.75" stop-color="#d2bc4e"/><stop offset="1" stop-color="#f6e81a"/></linearGradient><linearGradient id="gRd" x1="0" x2="1"><stop offset="0" stop-color="#2b56a5"/><stop offset="0.2" stop-color="#3d8bd3"/><stop offset="0.38" stop-color="#a9d0ea"/><stop offset="0.5" stop-color="#eadcb6"/><stop offset="0.65" stop-color="#f3b050"/><stop offset="0.85" stop-color="#e04a22"/><stop offset="1" stop-color="#b01e22"/></linearGradient></defs>
<rect x="211.9" y="530.9" width="50.7" height="6.8" fill="url(#gPar)"/>
<rect x="422.8" y="530.2" width="50" height="7.7" fill="url(#gRd)"/>
<text x="211.2" y="546" font-size="8" fill="#222" text-anchor="middle">−3</text>
<text x="239.3" y="546" font-size="8" fill="#222" text-anchor="middle">0</text>
<text x="260.8" y="546" font-size="8" fill="#222" text-anchor="middle">3</text>
<text x="423.7" y="545.6" font-size="8" fill="#222" text-anchor="middle">−3</text>
<text x="446.4" y="545.6" font-size="8" fill="#222" text-anchor="middle">0</text>
<text x="470.9" y="545.6" font-size="8" fill="#222" text-anchor="middle">3</text>
<text x="514.8" y="194.5" font-size="14" font-weight="bold" fill="#231f20">d</text>
<polyline points="522,218.6 527,218.6 531,224.7 534,224.7" fill="none" stroke="#444" stroke-width="0.5"/>
<text x="535" y="227.2" font-size="7" fill="#222">E1</text>
<polyline points="522,254.5 527,254.5 531,247.7 534,247.7" fill="none" stroke="#444" stroke-width="0.5"/>
<text x="535" y="250.2" font-size="7" fill="#222">E2</text>
<polyline points="522,380 527,380 531,374.5 534,374.5" fill="none" stroke="#444" stroke-width="0.5"/>
<text x="535" y="377.0" font-size="7" fill="#222">E3</text>
<polyline points="522,394.5 527,394.5 531,386 534,386" fill="none" stroke="#444" stroke-width="0.5"/>
<text x="535" y="388.5" font-size="7" fill="#222">E4</text>
<text x="582.8" y="200.8" font-size="6.6" fill="#222" text-anchor="middle">E1</text>
<rect x="549.6" y="205.2" width="59.8" height="59.2" fill="#fff"/>
<polygon points="550.8,206.4 608.2,206.4 608.2,263.2 567.5,263.2 558.6,256.1 550.8,247.8" fill="#eaeaea"/>
<polygon points="552.6,206.4 561.6,206.4 561.0,212.9 553.2,212.9" fill="#fff"/>
<polygon points="571.7,207.0 574.1,207.0 575.3,230.1 579.5,237.8 577.1,238.9 572.3,233.0" fill="#f1f1f1"/>
<polygon points="551.4,206.4 565.7,206.4 565.7,237.2 551.4,237.2" fill="#efbdd2"/>
<g filter="url(#mb)"><path d="M552.2 233.2h1.3m0-15.6h1.3m1.3 20.8h1.3m0-10.4h1.3m-1.3 22h1.3m3.9-29.8h1.3m0 5.2h1.3m5.2 20.8h1.3m0 7.8h1.3m-1.3 6.4h1.3m0 0h1.3m2.6-45.4h1.3m-1.3 5.2h1.3m3.9 19.4h1.3m3.9-29.8h1.3m-1.3 22h1.3m1.3-19.4h1.3m0 6.4h1.3m-1.3 17h1.3m-1.3 5.2h1.3m1.3 1.2h1.3m5.2-10.4h1.3m3.9-6.4h1.3" stroke="#f6a9c5" stroke-width="1.3" shape-rendering="crispEdges"/>
<path d="M553.5 243.6h1.3m0-36.4h1.3m-1.3 23.4h1.3m-1.3 2.6h1.3m-1.3 18.2h1.3m0-6.6h1.3m-1.3 5.2h1.3m3.9-9h1.3m2.6 1.2h1.3m2.6 20.8h1.3m3.9-10.4h1.3m-1.3 6.6h1.3m5.2-44.2h1.3m-1.3 2.6h1.3m0-7.8h1.3m-1.3 13h1.3m2.6 1.2h1.3m-1.3 13h1.3m2.6 0h1.3m-1.3 2.6h1.3m-1.3 4h1.3m0-33.8h1.3m0 3.8h1.3m2.6 15.6h1.3" stroke="#f8bdd1" stroke-width="1.3" shape-rendering="crispEdges"/>
<path d="M563.9 256.5h1.3m26-35.1h1.3m3.9 15.6h1.3m-1.3 2.6h1.3m0-18.2h1.3" stroke="#fad1dd" stroke-width="1.3" shape-rendering="crispEdges"/>
<path d="M550.9 244.8h1.3m1.3-33.8h1.3m0 30h1.3m5.2-30h1.3m-1.3 37.8h1.3m-1.3 3.8h1.3m0-22h1.3m2.6 32.4h1.3m2.6-7.8h1.3m2.6-1.2h1.3m0-37.8h1.3m-1.3 41.6h1.3m0-31.2h1.3m0-2.6h1.3m0-1.2h1.3m1.3 35h1.3m1.3-32.4h1.3m-1.3 9h1.3m9.1-22h1.3m-1.3 29.8h1.3" stroke="#f9c7d7" stroke-width="1.3" shape-rendering="crispEdges"/>
<path d="M550.9 235.8h1.3m0 1.2h1.3m0 1.4h1.3m-1.3 10.4h1.3m1.3-33.8h1.3m-1.3 36.4h1.3m0-44.2h1.3m1.3 27.2h1.3m0-23.4h1.3m-1.3 18.2h1.3m1.3-1.2h1.3m-1.3 27.2h1.3m-1.3 1.3h1.3m1.3-15.5h1.3m0 3.8h1.3m0 5.2h1.3m5.2 4h1.3m10.4-18.2h1.3m14.3-19.6h1.3m1.3 10.4h1.3" stroke="#f194bc" stroke-width="1.3" shape-rendering="crispEdges"/>
<path d="M552.2 226.6h1.3m0-15.6h1.3m1.3 31.2h1.3m2.6 0h1.3m0-20.8h1.3m0 14.4h1.3m0-19.6h1.3m-1.3 15.6h1.3m1.3 15.6h1.3m1.3-1.2h1.3m0 0h1.3m10.4 13h1.3m0-31.2h1.3m-1.3 2.6h1.3m0 28.6h1.3m5.2-50.8h1.3m2.6 13h1.3m1.3 9.2h1.3m-1.3 2.6h1.3m0-22.2h1.3m3.9 28.6h1.3" stroke="#f7b3cb" stroke-width="1.3" shape-rendering="crispEdges"/>
<path d="M552.2 217.6h1.3m-1.3 3.8h1.3m1.3 7.8h1.3m-1.3 13h1.3m0-11.6h1.3m0 3.8h1.3m0-24.6h1.3m0 20.8h1.3m1.3-18.2h1.3m-1.3 18.2h1.3m-1.3 3.8h1.3m-1.3 14.4h1.3m2.6-4h1.3m14.3 14.4h1.3" stroke="#eb7eb3" stroke-width="1.3" shape-rendering="crispEdges"/>
<path d="M553.5 235.8h1.3m1.3-19.6h1.3m-1.3 19.6h1.3m0-7.8h1.3m-1.3 2.6h1.3m0-14.4h1.3m-1.3 11.8h1.3m0-7.8h1.3m-1.3 11.6h1.3m1.3-9h1.3m-1.3 3.8h1.3m-1.3 5.2h1.3m0-23.4h1.3m6.5 39h1.3m11.7 14.3h1.3" stroke="#e567aa" stroke-width="1.3" shape-rendering="crispEdges"/>
<path d="M560 244.8h1.3" stroke="#fbdbe3" stroke-width="1.3" shape-rendering="crispEdges"/>
<path d="M552.2 217.6h1.3m-1.3 18.2h1.3m0-15.6h1.3m0-10.4h1.3m0 5.2h1.3m0 6.4h1.3m1.3 0h1.3m-1.3 2.6h1.3m-1.3 2.6h1.3m-1.3 4h1.3m0-15.6h1.3m-1.3 1.2h1.3m0 5.2h1.3m-1.3 2.6h1.3m0-14.2h1.3" stroke="#df51a1" stroke-width="1.3" shape-rendering="crispEdges"/>
<path d="M550.9 221.4h1.3m0-10.4h1.3m1.3-1.2h1.3m1.3 13h1.3m0-6.6h1.3m0 9.2h1.3m1.3-14.4h1.3m-1.3 23.4h1.3m1.3-6.4h1.3" stroke="#b41d83" stroke-width="1.3" shape-rendering="crispEdges"/>
<path d="M550.9 225.4h1.3m0 3.8h1.3m0-19.4h1.3m0 9h1.3m3.9-5.2h1.3m0-5.2h1.3m-1.3 7.8h1.3m-1.3 0h1.3m-1.3 4h1.3m0-1.4h1.3m-1.3 6.6h1.3" stroke="#d14097" stroke-width="1.3" shape-rendering="crispEdges"/>
<path d="M552.2 226.6h1.3m0 9.2h1.3m1.3-19.6h1.3m3.9 9.2h1.3m2.6-7.8h1.3" stroke="#820578" stroke-width="1.3" shape-rendering="crispEdges"/>
<path d="M553.5 235.8h1.3m3.9-9.2h1.3m-1.3 6.6h1.3m0 0h1.3" stroke="#930c7b" stroke-width="1.3" shape-rendering="crispEdges"/>
<path d="M560 211h1.3m-1.3 15.6h1.3m0-14.2h1.3m-1.3 10.4h1.3m-1.3 6.4h1.3m-1.3 0h1.3" stroke="#a4137e" stroke-width="1.3" shape-rendering="crispEdges"/>
<path d="M554.8 212.4h1.3m3.9 6.4h1.3m0-2.6h1.3m0 9.2h1.3m-1.3 6.4h1.3m0-19.4h1.3" stroke="#c32e8d" stroke-width="1.3" shape-rendering="crispEdges"/></g>
<rect x="549.6" y="205.2" width="59.8" height="59.2" fill="none" stroke="#444" stroke-width="1.1"/>
<text x="582.8" y="274.9" font-size="6.6" fill="#222" text-anchor="middle">E2</text>
<rect x="549.6" y="279.1" width="59.8" height="59.2" fill="#fff"/>
<polygon points="550.8,280.3 608.2,280.3 608.2,337.1 567.5,337.1 558.6,330.0 550.8,321.7" fill="#eaeaea"/>
<polygon points="552.6,280.3 561.6,280.3 561.0,286.8 553.2,286.8" fill="#fff"/>
<polygon points="571.7,280.9 574.1,280.9 575.3,304.0 579.5,311.7 577.1,312.8 572.3,306.9" fill="#f1f1f1"/>
<polygon points="551.4,280.3 565.7,280.3 565.7,311.1 551.4,311.1" fill="#f6d4e0"/>
<polygon points="550.8,311.7 564.6,312.3 576.5,323.5 585.5,332.4 590.3,337.7 567.5,337.7 558.6,330.0 550.8,322.9" fill="#f0b8ce"/>
<g filter="url(#mb)"><path d="M550.9 304.4h1.3m1.3-20.8h1.3m0-2.6h1.3m-1.3 11.8h1.3m0 16.8h1.3m-1.3 0h1.3m1.3-5.2h1.3m3.9 15.6h1.3m0-15.6h1.3m1.3 22.2h1.3m-1.3 0h1.3m3.9 2.6h1.3m2.6-26h1.3m-1.3 29.8h1.3m1.3-50.6h1.3m0 28.6h1.3m2.6-2.6h1.3m1.3-1.4h1.3m-1.3 30h1.3m1.3-50.8h1.3m1.3 31.2h1.3m1.3-15.6h1.3m-1.3 11.8h1.3m0-28.6h1.3m-1.3 15.6h1.3m3.9-7.8h1.3m-1.3 2.6h1.3" stroke="#f7b3cb" stroke-width="1.3" shape-rendering="crispEdges"/>
<path d="M554.8 317.4h1.3m6.5-27.2h1.3m-1.3 16.8h1.3m0-3.8h1.3m-1.3 22h1.3m2.6 5.2h1.3m6.5-26h1.3m0-15.6h1.3m0 20.8h1.3m-1.3 23.4h1.3m-1.3 1.4h1.3m1.3-22.2h1.3m0-1.2h1.3m0-11.8h1.3m22.1 13h1.3" stroke="#f8bdd1" stroke-width="1.3" shape-rendering="crispEdges"/>
<path d="M550.9 303.2h1.3m3.9-17h1.3m-1.3 39h1.3m1.3-37.6h1.3m-1.3 3.8h1.3m3.9 2.6h1.3m9.1-9h1.3m-1.3 9h1.3m0-3.8h1.3m1.3 5.2h1.3m-1.3 14.2h1.3m0-10.4h1.3m0-10.4h1.3m-1.3 5.2h1.3m-1.3 18.2h1.3m3.9-31.2h1.3m-1.3 30h1.3m0-4h1.3m0 5.2h1.3m-1.3 0h1.3m0 0h1.3m-1.3 5.2h1.3m0-19.4h1.3m2.6-9.2h1.3m2.6 28.6h1.3m5.2-3.8h1.3" stroke="#f9c7d7" stroke-width="1.3" shape-rendering="crispEdges"/>
<path d="M550.9 309.6h1.3m-1.3 6.6h1.3m-1.3 1.2h1.3m0 2.6h1.3m0 5.2h1.3m0-42.8h1.3m-1.3 44.2h1.3m0-39h1.3m-1.3 14.2h1.3m-1.3 6.6h1.3m0-23.4h1.3m-1.3 1.2h1.3m1.3 33.8h1.3m-1.3 1.4h1.3m0-32.6h1.3m-1.3 10.4h1.3m0-14.2h1.3m-1.3 26h1.3m-1.3 9h1.3m-1.3 2.6h1.3m1.3-27.2h1.3m0 20.8h1.3m-1.3 7.8h1.3m-1.3 10.4h1.3m1.3 1.2h1.3m-1.3 0h1.3m0-5.2h1.3m0 1.4h1.3m1.3-1.4h1.3m1.3-49.4h1.3m-1.3 15.6h1.3m0 33.8h1.3m0 5.2h1.3m0 0h1.3m1.3-48h1.3m1.3 23.4h1.3m-1.3 24.6h1.3m10.4-33.8h1.3" stroke="#f6a9c5" stroke-width="1.3" shape-rendering="crispEdges"/>
<path d="M552.2 316.2h1.3m9.1-33.8h1.3m10.4 39h1.3m1.3-23.4h1.3m2.6-9.2h1.3m1.3 6.6h1.3m6.5 13h1.3m0-15.6h1.3m6.5-2.6h1.3m1.3 6.4h1.3" stroke="#fad1dd" stroke-width="1.3" shape-rendering="crispEdges"/>
<path d="M552.2 292.8h1.3m-1.3 23.4h1.3m-1.3 6.4h1.3m0-37.6h1.3m1.3 39h1.3m1.3-10.4h1.3m0-23.4h1.3m-1.3 23.4h1.3m-1.3 15.6h1.3m1.3-32.6h1.3m-1.3 17h1.3m-1.3 10.4h1.3m-1.3 0h1.3m-1.3 6.4h1.3m0-24.6h1.3m-1.3 20.8h1.3m1.3 6.4h1.3m0-13h1.3m1.3 13h1.3m0-6.4h1.3m-1.3 2.6h1.3m-1.3 0h1.3m0 7.8h1.3m0-15.6h1.3m-1.3 1.2h1.3m-1.3 13h1.3m0 0h1.3m1.3-6.4h1.3m3.9 5.2h1.3m-1.3 2.6h1.3m0 0h1.3m0-48.2h1.3m6.5 7.8h1.3m-1.3 11.8h1.3" stroke="#f194bc" stroke-width="1.3" shape-rendering="crispEdges"/>
<path d="M552.2 321.4h1.3m0-18.2h1.3m-1.3 10.4h1.3m0-11.8h1.3m-1.3 2.6h1.3m-1.3 10.4h1.3m0 4h1.3m-1.3 0h1.3m1.3-23.4h1.3m0 18.2h1.3m-1.3 1.2h1.3m0 1.4h1.3m-1.3 9h1.3m-1.3 5.2h1.3m0 0h1.3m-1.3 1.4h1.3m-1.3 1.2h1.3m0-20.8h1.3m-1.3 1.4h1.3m0 14.2h1.3m0-6.4h1.3m1.3 14.2h1.3m0-10.4h1.3m0-3.8h1.3m-1.3 0h1.3m0 7.8h1.3m0 0h1.3m-1.3 3.8h1.3m0-3.8h1.3m0 6.4h1.3m0-1.2h1.3m-1.3 2.6h1.3m0-10.4h1.3m1.3 10.4h1.3m0-1.4h1.3" stroke="#df51a1" stroke-width="1.3" shape-rendering="crispEdges"/>
<path d="M550.9 321.4h1.3m0-39h1.3m-1.3 31.2h1.3m1.3-19.6h1.3m-1.3 19.6h1.3m0 2.6h1.3m0-14.4h1.3m-1.3 22.2h1.3m0-18.2h1.3m-1.3 1.2h1.3m-1.3 17h1.3m0-32.6h1.3m-1.3 33.8h1.3m1.3-9h1.3m-1.3 6.4h1.3m-1.3 0h1.3m-1.3 5.2h1.3m0 1.4h1.3m3.9 2.6h1.3m-1.3 2.6h1.3m0 2.6h1.3m0-9.2h1.3m-1.3 9.2h1.3m0-7.8h1.3m0 5.2h1.3m0-2.6h1.3m0 0h1.3m5.2 5.2h1.3m1.3-2.6h1.3" stroke="#eb7eb3" stroke-width="1.3" shape-rendering="crispEdges"/>
<path d="M550.9 312.2h1.3m-1.3 5.2h1.3m0 6.6h1.3m0-40.4h1.3m0 24.8h1.3m-1.3 3.8h1.3m1.3-27.2h1.3m-1.3 0h1.3m-1.3 7.8h1.3m-1.3 20.8h1.3m1.3-24.8h1.3m-1.3 27.4h1.3m-1.3 13h1.3m-1.3 1.2h1.3m0 2.6h1.3m0-15.6h1.3m-1.3 6.6h1.3m-1.3 3.8h1.3m-1.3 2.6h1.3m0 2.6h1.3m0-14.2h1.3m-1.3 3.8h1.3m0 2.6h1.3m-1.3 2.6h1.3m0 2.6h1.3m-1.3 1.4h1.3m-1.3 3.8h1.3m0-15.6h1.3m0 17h1.3m0-9.2h1.3m-1.3 9.2h1.3m0-7.8h1.3m-1.3 2.6h1.3m0-5.2h1.3m-1.3 10.4h1.3m0-5.2h1.3m2.6-4h1.3m-1.3 2.6h1.3m-1.3 4h1.3m1.3 0h1.3m-1.3 1.2h1.3m-1.3 0h1.3m0-5.2h1.3" stroke="#e567aa" stroke-width="1.3" shape-rendering="crispEdges"/>
<path d="M552.2 324h1.3m2.6-9.2h1.3m-1.3 1.4h1.3m0-33.8h1.3m-1.3 35h1.3m-1.3 7.8h1.3m0-3.8h1.3m0 3.8h1.3m2.6-5.2h1.3m0 9.2h1.3m-1.3 6.4h1.3m0-18.2h1.3m-1.3 18.2h1.3m0-2.6h1.3m-1.3 2.6h1.3m-1.3 0h1.3m0-1.2h1.3m0-4h1.3m0 4h1.3m0-5.2h1.3m-1.3 7.8h1.3m-1.3 0h1.3m-1.3 0h1.3m2.6 0h1.3m-1.3 0h1.3m0-9.2h1.3m0 1.4h1.3m-1.3 3.8h1.3m-1.3 1.4h1.3m5.2 1.2h1.3" stroke="#d14097" stroke-width="1.3" shape-rendering="crispEdges"/>
<path d="M550.9 318.8h1.3m0 0h1.3m2.6 0h1.3m0 0h1.3m3.9-14.4h1.3m0 10.4h1.3m-1.3 17h1.3m1.3 0h1.3m7.8 3.8h1.3m0-5.2h1.3" stroke="#c32e8d" stroke-width="1.3" shape-rendering="crispEdges"/>
<path d="M574.3 327.8h1.3" stroke="#930c7b" stroke-width="1.3" shape-rendering="crispEdges"/>
<path d="M554.8 314.8h1.3m1.3 14.4h1.3m10.4-5.2h1.3m3.9 10.4h1.3m3.9-6.6h1.3m-1.3 2.6h1.3m-1.3 6.6h1.3" stroke="#b41d83" stroke-width="1.3" shape-rendering="crispEdges"/>
<path d="M571.7 331.8h1.3m1.3 1.2h1.3m5.2 0h1.3" stroke="#a4137e" stroke-width="1.3" shape-rendering="crispEdges"/></g>
<rect x="549.6" y="279.1" width="59.8" height="59.2" fill="none" stroke="#444" stroke-width="1.1"/>
<text x="582.8" y="350.79999999999995" font-size="6.6" fill="#222" text-anchor="middle">E3</text>
<rect x="549.6" y="353.4" width="59.8" height="59.2" fill="#fff"/>
<polygon points="550.8,354.6 608.2,354.6 608.2,411.4 567.5,411.4 558.6,404.3 550.8,396.0" fill="#eaeaea"/>
<polygon points="552.6,354.6 561.6,354.6 561.0,361.1 553.2,361.1" fill="#fff"/>
<polygon points="571.7,355.2 574.1,355.2 575.3,378.3 579.5,386.0 577.1,387.1 572.3,381.2" fill="#f1f1f1"/>
<polygon points="574.7,355.2 607.6,355.2 608.2,388.9 600.4,393.1 591.5,394.2 582.5,388.9 576.5,383.0 574.1,374.1" fill="#efb6ce"/>
<polygon points="551.4,354.6 565.7,354.6 565.7,385.4 551.4,385.4" fill="#f7dae4"/>
<polygon points="562.8,400.8 576.5,401.9 585.5,407.9 586.7,412.0 567.5,412.0" fill="#f4c8d8"/>
<g filter="url(#mb)"><path d="M554.8 361.8h1.3m-1.3 20.8h1.3m-1.3 3.9h1.3m-1.3 6.5h1.3m-1.3 1.3h1.3m0-31.1h1.3m-1.3 0h1.3m-1.3 22h1.3m0-23.4h1.3m0 33.8h1.3m0-20.8h1.3m-1.3 6.5h1.3m-1.3 24.7h1.3m0-48.1h1.3m0 41.6h1.3m0-2.6h1.3m5.2 10.4h1.3m2.6-44.1h1.3m0 0h1.3m-1.3 7.7h1.3m-1.3 27.3h1.3m0 5.2h1.3m-1.3 3.9h1.3m0-29.9h1.3m-1.3 0h1.3m-1.3 26h1.3m2.6 5.2h1.3m0-23.4h1.3m0-26h1.3m0 24.7h1.3m0-20.7h1.3m-1.3 18.1h1.3m-1.3 1.3h1.3m-1.3 6.6h1.3m-1.3 0h1.3m0-31.3h1.3m0 7.8h1.3m0 1.3h1.3m-1.3 2.6h1.3m-1.3 2.6h1.3m-1.3 14.3h1.3m0-31.2h1.3m-1.3 23.4h1.3m0-14.3h1.3m-1.3 27.3h1.3m0-13h1.3m0 2.6h1.3m0-23.4h1.3m-1.3 31.3h1.3m1.3-10.5h1.3m0-13h1.3m2.6 16.9h1.3m-1.3 2.6h1.3m-1.3 4h1.3m0-24.8h1.3m-1.3 24.8h1.3" stroke="#f6a9c5" stroke-width="1.3" shape-rendering="crispEdges"/>
<path d="M550.9 386.5h1.3m10.4 14.3h1.3m2.6 3.9h1.3m1.3 3.9h1.3m1.3-2.6h1.3m1.3-3.8h1.3m0-23.5h1.3m-1.3 32.5h1.3m5.2-2.6h1.3m5.2-20.8h1.3m-1.3 2.6h1.3m0-6.5h1.3m5.2-28.6h1.3m2.6 11.7h1.3m0-1.3h1.3m-1.3 9.1h1.3m0-11.6h1.3m2.6-1.4h1.3" stroke="#c32e8d" stroke-width="1.3" shape-rendering="crispEdges"/>
<path d="M558.7 406h1.3m0-52h1.3m0 40.3h1.3m0 6.5h1.3m0-31.2h1.3m-1.3 9.1h1.3m6.5 18.2h1.3m-1.3 13h1.3m2.6-44.2h1.3m-1.3 13h1.3m0-20.8h1.3m-1.3 16.9h1.3m0 9.1h1.3m-1.3 18.3h1.3m-1.3 3.8h1.3m0 1.3h1.3m-1.3 1.3h1.3m0-45.4h1.3m-1.3 1.2h1.3m-1.3 7.8h1.3m-1.3 13h1.3m0-23.4h1.3m-1.3 14.4h1.3m-1.3 29.8h1.3m0 5.2h1.3m0-6.5h1.3m0-31.2h1.3m0 11.7h1.3m-1.3 6.5h1.3m0-28.5h1.3m-1.3 13h1.3m0 6.4h1.3m-1.3 5.2h1.3m0-10.4h1.3m0-19.5h1.3m0-1.3h1.3m-1.3 7.8h1.3m-1.3 1.3h1.3m-1.3 7.8h1.3m-1.3 19.5h1.3m0-24.7h1.3m-1.3 6.5h1.3m-1.3 13h1.3m1.3-32.5h1.3m-1.3 22.1h1.3m0-7.8h1.3m-1.3 3.9h1.3m0 18.2h1.3m1.3-9.1h1.3m-1.3 7.8h1.3m0-6.5h1.3m0-20.7h1.3m-1.3 19.4h1.3" stroke="#e567aa" stroke-width="1.3" shape-rendering="crispEdges"/>
<path d="M550.9 380h1.3m0-14.3h1.3m-1.3 26h1.3m0-22.1h1.3m-1.3 19.6h1.3m0-1.4h1.3m0-19.5h1.3m-1.3 20.9h1.3m0 2.5h1.3m1.3 6.5h1.3m3.9 10.4h1.3m0 0h1.3m1.3-6.4h1.3m-1.3 5.1h1.3m-1.3 0h1.3m-1.3 3.9h1.3m1.3-15.6h1.3m2.6-32.4h1.3m-1.3 15.5h1.3m0-7.8h1.3m-1.3 35.1h1.3m0-41.6h1.3m-1.3 11.8h1.3m0-20.9h1.3m-1.3 5.2h1.3m-1.3 3.9h1.3m-1.3 7.8h1.3m-1.3 7.8h1.3m-1.3 6.5h1.3m-1.3 18.2h1.3m0-33.8h1.3m-1.3 9.1h1.3m-1.3 3.9h1.3m-1.3 1.3h1.3m0-15.6h1.3m-1.3 6.6h1.3m-1.3 11.6h1.3m0-14.3h1.3m-1.3 1.3h1.3m0-16.9h1.3m0-2.6h1.3m-1.3 2.6h1.3m-1.3 3.9h1.3m0-2.6h1.3m-1.3 18.2h1.3m0-16.9h1.3m-1.3 15.7h1.3m-1.3 2.5h1.3m0 7.8h1.3m-1.3 16.9h1.3m0-28.6h1.3m-1.3 0h1.3m-1.3 9.1h1.3m-1.3 6.5h1.3m0-5.2h1.3m0-27.3h1.3m-1.3 2.6h1.3m0 9.1h1.3m-1.3 2.6h1.3m-1.3 18.2h1.3m0 14.3h1.3m0-36.4h1.3m-1.3 13h1.3m-1.3 23.4h1.3m0-44.2h1.3m-1.3 11.7h1.3m-1.3 7.8h1.3m-1.3 1.3h1.3m0-24.7h1.3m0 22.1h1.3m0-20.8h1.3m-1.3 1.3h1.3m-1.3 19.5h1.3m-1.3 10.5h1.3m1.3-2.7h1.3m0-27.3h1.3" stroke="#eb7eb3" stroke-width="1.3" shape-rendering="crispEdges"/>
<path d="M556.1 370.9h1.3m-1.3 7.8h1.3m0-23.4h1.3m0 19.5h1.3m1.3 5.2h1.3m0-11.7h1.3m-1.3 31.2h1.3m-1.3 1.3h1.3m1.3-16.9h1.3m0 23.4h1.3m-1.3 1.3h1.3m2.6-11.7h1.3m-1.3 6.5h1.3m1.3-6.5h1.3m0-41.6h1.3m0 13h1.3m-1.3 10.4h1.3m0-10.4h1.3m-1.3 40.3h1.3m1.3-50.7h1.3m-1.3 2.6h1.3m-1.3 9.1h1.3m0 15.6h1.3m-1.3 22.1h1.3m0 3.9h1.3m0-40.3h1.3m-1.3 40.3h1.3m0-49.4h1.3m0 2.6h1.3m1.3-6.5h1.3m0 31.3h1.3m-1.3 3.8h1.3m0-37.7h1.3m-1.3 6.5h1.3m-1.3 7.8h1.3m-1.3 13h1.3m0 3.9h1.3m0 0h1.3m0-20.8h1.3m-1.3 20.8h1.3m0-29.9h1.3m-1.3 3.9h1.3m-1.3 1.3h1.3m-1.3 7.8h1.3m-1.3 15.6h1.3m0-26h1.3m0 5.2h1.3m0-5.2h1.3m0-2.6h1.3m-1.3 31.2h1.3m0-5.2h1.3m0-2.6h1.3m-1.3 2.6h1.3m0-3.9h1.3m-1.3 6.5h1.3m0-5.2h1.3" stroke="#f194bc" stroke-width="1.3" shape-rendering="crispEdges"/>
<path d="M557.4 368.3h1.3m-1.3 22.1h1.3m0-22.1h1.3m1.3 10.4h1.3m-1.3 22.1h1.3m0 1.4h1.3m1.3-44.3h1.3m-1.3 16.9h1.3m-1.3 16.9h1.3m3.9 16.9h1.3m1.3-14.3h1.3m-1.3 3.9h1.3m-1.3 10.4h1.3m0-35.1h1.3m2.6 3.9h1.3m1.3 33.8h1.3m3.9-1.3h1.3m1.3 0h1.3m0-23.4h1.3m2.6-19.5h1.3m-1.3 10.4h1.3m-1.3 3.9h1.3m0-20.8h1.3m0 28.7h1.3m1.3-11.8h1.3m1.3-14.2h1.3m0-7.9h1.3m-1.3 19.5h1.3m0 0h1.3m1.3 1.4h1.3" stroke="#f7b3cb" stroke-width="1.3" shape-rendering="crispEdges"/>
<path d="M575.6 360.5h1.3m7.8 3.9h1.3m0 9.1h1.3m7.8-13h1.3m0 31.2h1.3" stroke="#f9c7d7" stroke-width="1.3" shape-rendering="crispEdges"/>
<path d="M554.8 400.8h1.3m3.9-7.8h1.3m0-5.2h1.3m1.3-6.5h1.3m-1.3 20.9h1.3m2.6-1.4h1.3m0 10.4h1.3m5.2-42.9h1.3m0 10.4h1.3m1.3 32.5h1.3m0-54.6h1.3m0 54.6h1.3m1.3-53.3h1.3m0 32.5h1.3m0-27.2h1.3m0-5.3h1.3m-1.3 1.3h1.3m-1.3 15.6h1.3m-1.3 29.9h1.3m1.3-42.9h1.3m0 29.9h1.3m0-32.5h1.3m3.9 22.1h1.3m1.3 3.9h1.3m2.6-11.7h1.3" stroke="#d14097" stroke-width="1.3" shape-rendering="crispEdges"/>
<path d="M557.4 391.7h1.3m5.2-2.5h1.3m0-13h1.3m1.3 18.1h1.3m2.6 16.9h1.3m1.3-3.9h1.3m-1.3 3.9h1.3m2.6-53.3h1.3m-1.3 50.7h1.3m-1.3 1.3h1.3m0-53.3h1.3m-1.3 29.9h1.3m0-24.7h1.3m-1.3 2.6h1.3m-1.3 46.8h1.3m0-5.2h1.3m0-45.5h1.3m1.3 15.7h1.3m-1.3 11.6h1.3m1.3 2.6h1.3m0-35.1h1.3m2.6 37.7h1.3m0-1.3h1.3m1.3-28.5h1.3m-1.3 6.4h1.3m0-3.9h1.3m0-2.5h1.3m-1.3 11.6h1.3m0-11.6h1.3m-1.3 28.5h1.3m0-33.8h1.3m-1.3 26h1.3" stroke="#df51a1" stroke-width="1.3" shape-rendering="crispEdges"/>
<path d="M553.5 385.2h1.3m14.3 7.8h1.3m0 11.7h1.3m0-2.5h1.3m7.8 3.8h1.3m0-50.7h1.3m19.5 35.1h1.3" stroke="#b41d83" stroke-width="1.3" shape-rendering="crispEdges"/>
<path d="M599 357.9h1.3" stroke="#fad1dd" stroke-width="1.3" shape-rendering="crispEdges"/>
<path d="M561.3 386.5h1.3m19.5-28.6h1.3m7.8 0h1.3m0 35.1h1.3m9.1-11.7h1.3" stroke="#f8bdd1" stroke-width="1.3" shape-rendering="crispEdges"/>
<path d="M567.8 406h1.3m5.2 5.2h1.3m6.5-6.5h1.3m15.6 0h1.3" stroke="#a4137e" stroke-width="1.3" shape-rendering="crispEdges"/>
<path d="M579.5 409.9h1.3" stroke="#930c7b" stroke-width="1.3" shape-rendering="crispEdges"/></g>
<rect x="549.6" y="353.4" width="59.8" height="59.2" fill="none" stroke="#444" stroke-width="1.1"/>
<text x="582.8" y="423.79999999999995" font-size="6.6" fill="#222" text-anchor="middle">E4</text>
<rect x="549.6" y="427.4" width="59.8" height="59.2" fill="#fff"/>
<polygon points="550.8,428.6 608.2,428.6 608.2,485.4 567.5,485.4 558.6,478.3 550.8,470.0" fill="#eaeaea"/>
<polygon points="552.6,428.6 561.6,428.6 561.0,435.1 553.2,435.1" fill="#fff"/>
<polygon points="571.7,429.2 574.1,429.2 575.3,452.3 579.5,460.0 577.1,461.1 572.3,455.2" fill="#f1f1f1"/>
<polygon points="574.7,429.2 597.4,429.2 598.6,446.3 575.3,447.5" fill="#f8d6e2"/>
<g filter="url(#mb)"><path d="M553.5 443.6h1.3m0-3.9h1.3m1.3 6.5h1.3m5.2-16.8h1.3m-1.3 14.2h1.3m2.6 32.6h1.3m3.9 5.2h1.3m0-45.6h1.3m-1.3 42.9h1.3m-1.3 1.3h1.3m2.6-29.8h1.3m-1.3 13h1.3m2.6-31.3h1.3m0 32.5h1.3m0 5.2h1.3m0-22h1.3m-1.3 22h1.3m0 13h1.3m2.6-41.6h1.3m0 19.6h1.3m1.3 13h1.3m0-37.8h1.3m2.6 46.8h1.3m3.9-11.7h1.3" stroke="#f8bdd1" stroke-width="1.3" shape-rendering="crispEdges"/>
<path d="M550.9 454h1.3m-1.3 3.9h1.3m2.6-10.3h1.3m1.3 0h1.3m2.6 22h1.3m0-36.4h1.3m2.6 7.8h1.3m0-9.1h1.3m-1.3 14.3h1.3m7.8 6.5h1.3m2.6 1.3h1.3m3.9 18.2h1.3m0 6.5h1.3m6.5-40.3h1.3m3.9-9h1.3m1.3 10.3h1.3m-1.3 20.9h1.3" stroke="#f9c7d7" stroke-width="1.3" shape-rendering="crispEdges"/>
<path d="M562.6 434.6h1.3m6.5 50.6h1.3m2.6-9h1.3m1.3-27.4h1.3m0-19.4h1.3m-1.3 2.5h1.3m0 52h1.3m15.6-24.7h1.3m7.8 17h1.3" stroke="#fad1dd" stroke-width="1.3" shape-rendering="crispEdges"/>
<path d="M552.2 437.2h1.3m7.8-2.6h1.3m6.5 0h1.3m0 45.4h1.3m3.9-40.3h1.3m1.3 5.2h1.3m1.3 9.1h1.3m-1.3 27.4h1.3m1.3-41.7h1.3m2.6 14.3h1.3m3.9 23.4h1.3m7.8-6.5h1.3m0 6.5h1.3" stroke="#f7b3cb" stroke-width="1.3" shape-rendering="crispEdges"/>
<path d="M567.8 485.2h1.3m3.9-5.2h1.3m-1.3 3.9h1.3m-1.3 0h1.3m-1.3 1.3h1.3m7.8-29.8h1.3m0 24.6h1.3m3.9-49.4h1.3m-1.3 10.4h1.3m0-2.6h1.3m1.3 7.8h1.3m0-10.4h1.3m0 24.8h1.3" stroke="#f6a9c5" stroke-width="1.3" shape-rendering="crispEdges"/>
<path d="M578.2 437.2h1.3m-1.3 1.2h1.3m-1.3 14.3h1.3m1.3 0h1.3m-1.3 2.7h1.3m0-11.8h1.3m-1.3 13h1.3m0 26h1.3m5.2-27.2h1.3m1.3-19.6h1.3" stroke="#d14097" stroke-width="1.3" shape-rendering="crispEdges"/>
<path d="M574.3 450.2h1.3m1.3-6.6h1.3m2.6-10.4h1.3m0 18.2h1.3m2.6 2.6h1.3m1.3-19.4h1.3m0 0h1.3m1.3 1.2h1.3m-1.3 2.6h1.3m0 13h1.3m1.3-10.4h1.3m-1.3 3.9h1.3" stroke="#df51a1" stroke-width="1.3" shape-rendering="crispEdges"/>
<path d="M578.2 443.6h1.3m1.3 39h1.3m0-37.7h1.3m1.3-1.3h1.3m0-7.8h1.3m1.3-2.6h1.3m6.5 7.8h1.3m-1.3 14.4h1.3m2.6-1.4h1.3m0 1.4h1.3" stroke="#eb7eb3" stroke-width="1.3" shape-rendering="crispEdges"/>
<path d="M578.2 433.2h1.3m1.3 9.2h1.3m1.3-2.7h1.3m0-5.1h1.3m2.6 0h1.3m1.3 20.8h1.3m0-24.8h1.3m1.3 15.6h1.3" stroke="#c32e8d" stroke-width="1.3" shape-rendering="crispEdges"/>
<path d="M576.9 451.4h1.3m1.3-11.7h1.3m1.3 15.7h1.3m0-1.4h1.3m0-2.6h1.3m5.2-1.2h1.3m2.6 5.2h1.3m0-11.8h1.3m3.9 7.8h1.3m0 5.2h1.3" stroke="#a4137e" stroke-width="1.3" shape-rendering="crispEdges"/>
<path d="M579.5 450.2h1.3m-1.3 3.8h1.3m0 1.4h1.3m0-20.8h1.3m-1.3 18.1h1.3m1.3-15.5h1.3m1.3 5.2h1.3m-1.3 13h1.3m2.6 0h1.3m0-26h1.3m1.3 23.3h1.3m1.3-18.1h1.3m3.9 16.8h1.3" stroke="#b41d83" stroke-width="1.3" shape-rendering="crispEdges"/>
<path d="M574.3 431.9h1.3m-1.3 2.7h1.3m0 50.6h1.3m2.6-52h1.3m1.3 5.2h1.3m0 46.8h1.3m2.6-48h1.3m0-4h1.3m-1.3 11.7h1.3m10.4 7.8h1.3" stroke="#f194bc" stroke-width="1.3" shape-rendering="crispEdges"/>
<path d="M580.8 452.7h1.3m5.2-22.1h1.3m11.7 26h1.3" stroke="#820578" stroke-width="1.3" shape-rendering="crispEdges"/>
<path d="M576.9 451.4h1.3m0-5.2h1.3m3.9-11.6h1.3m0 1.2h1.3m-1.3 10.4h1.3m1.3-3.8h1.3m0 2.5h1.3m0-14.3h1.3m0 0h1.3m1.3 10.4h1.3m1.3 13h1.3m1.3-1.3h1.3m3.9 3.9h1.3" stroke="#e567aa" stroke-width="1.3" shape-rendering="crispEdges"/>
<path d="M580.8 444.9h1.3m6.5 11.7h1.3m0-5.2h1.3m1.3 4h1.3m9.1-1.4h1.3" stroke="#930c7b" stroke-width="1.3" shape-rendering="crispEdges"/></g>
<rect x="549.6" y="427.4" width="59.8" height="59.2" fill="none" stroke="#444" stroke-width="1.1"/>
<text x="579.7" y="498.3" font-size="7" fill="#222" text-anchor="middle">denoised accessibility</text>
<rect x="563.1" y="501.5" width="32.5" height="6.6" fill="url(#gRdPu)"/>
<text x="564.7" y="516.2" font-size="7" fill="#222" text-anchor="middle">0</text>
<text x="592.5" y="516.2" font-size="7" fill="#222" text-anchor="middle">1</text>
<text x="651" y="202.4" font-size="11.2" font-weight="bold" fill="#111" text-anchor="middle">mm1632</text>
<text x="651" y="273.9" font-size="11.2" font-weight="bold" fill="#111" text-anchor="middle">mm1471</text>
<text x="651" y="351.5" font-size="11.2" font-weight="bold" fill="#111" text-anchor="middle">mm2145</text>
<text x="651" y="425.2" font-size="11.2" font-weight="bold" fill="#111" text-anchor="middle">mm627</text>
<defs><filter id="eb" x="-0.2" y="-0.2" width="1.4" height="1.4"><feGaussianBlur stdDeviation="1.1"/></filter><filter id="eb2" x="-0.2" y="-0.2" width="1.4" height="1.4"><feGaussianBlur stdDeviation="0.5"/></filter></defs>
<clipPath id="c1"><path d="M617.4,232.6 Q616.6,229.5 617.9,226.5 Q619.2,223.4 621.2,221.3 Q623.2,219.3 626.3,217.3 Q629.4,215.2 632.9,215.0 Q636.5,214.7 638.6,215.5 Q640.6,216.2 643.2,215.0 Q645.7,213.7 650.3,212.7 Q654.9,211.6 659.0,211.4 Q663.1,211.1 666.7,212.2 Q670.2,213.2 672.3,215.2 Q674.3,217.3 675.4,220.3 Q676.4,223.4 675.9,227.5 Q675.4,231.6 673.3,234.6 Q671.3,237.7 668.2,240.3 Q665.1,242.8 661.0,245.4 Q657.0,247.9 652.9,249.5 Q648.8,251.0 645.2,251.5 Q641.6,252.0 638.6,251.0 Q635.5,250.0 634.0,247.9 Q632.4,245.9 629.9,243.8 Q627.3,241.8 624.8,240.8 Q622.2,239.7 620.2,237.7 Q618.1,235.7 617.4,232.6 Z"/></clipPath>
<path d="M617.4,232.6 Q616.6,229.5 617.9,226.5 Q619.2,223.4 621.2,221.3 Q623.2,219.3 626.3,217.3 Q629.4,215.2 632.9,215.0 Q636.5,214.7 638.6,215.5 Q640.6,216.2 643.2,215.0 Q645.7,213.7 650.3,212.7 Q654.9,211.6 659.0,211.4 Q663.1,211.1 666.7,212.2 Q670.2,213.2 672.3,215.2 Q674.3,217.3 675.4,220.3 Q676.4,223.4 675.9,227.5 Q675.4,231.6 673.3,234.6 Q671.3,237.7 668.2,240.3 Q665.1,242.8 661.0,245.4 Q657.0,247.9 652.9,249.5 Q648.8,251.0 645.2,251.5 Q641.6,252.0 638.6,251.0 Q635.5,250.0 634.0,247.9 Q632.4,245.9 629.9,243.8 Q627.3,241.8 624.8,240.8 Q622.2,239.7 620.2,237.7 Q618.1,235.7 617.4,232.6 Z" fill="#d4d2d4"/>
<g clip-path="url(#c1)" filter="url(#eb)"><path d="M619.2,233.6 Q617.1,229.5 619.2,225.4 Q621.2,221.3 625.3,218.8 Q629.4,216.2 634.0,216.2 Q638.6,216.2 640.6,220.8 Q642.7,225.4 641.1,230.5 Q639.6,235.7 635.5,238.2 Q631.4,240.8 626.3,239.2 Q621.2,237.7 619.2,233.6 Z" fill="#bfcad2" opacity="0.95"/><path d="M623.8,226.5 Q624.3,223.4 628.3,221.9 Q632.4,220.3 635.0,222.9 Q637.5,225.4 636.0,229.5 Q634.5,233.6 630.9,234.1 Q627.3,234.6 625.3,232.1 Q623.2,229.5 623.8,226.5 Z" fill="#d6dadd" opacity="0.9"/><path d="M644.7,217.8 Q645.7,215.2 650.8,213.9 Q655.9,212.7 661.6,212.9 Q667.2,213.2 670.8,216.8 Q674.3,220.3 673.8,225.9 Q673.3,231.6 669.7,236.2 Q666.2,240.8 660.5,243.8 Q654.9,246.9 649.8,246.4 Q644.7,245.9 643.7,238.7 Q642.7,231.6 643.2,225.9 Q643.7,220.3 644.7,217.8 Z" fill="#bdbcc0" opacity="0.9"/><path d="M646.2,223.9 Q647.8,219.3 652.4,218.3 Q657.0,217.3 661.6,218.8 Q666.2,220.3 667.7,224.4 Q669.2,228.5 666.7,233.1 Q664.1,237.7 659.5,239.7 Q654.9,241.8 650.8,240.3 Q646.7,238.7 645.7,233.6 Q644.7,228.5 646.2,223.9 Z" fill="#e6e4e4" opacity="1"/><path d="M648.3,221.3 Q647.8,218.3 651.3,217.8 Q654.9,217.3 654.7,220.8 Q654.4,224.4 651.6,224.4 Q648.8,224.4 648.3,221.3 Z" fill="#ffffff" opacity="1"/><path d="M655.4,228.5 Q655.4,225.9 657.5,226.3 Q659.5,226.7 659.3,229.2 Q659.0,231.8 657.2,231.4 Q655.4,231.1 655.4,228.5 Z" fill="#8e6a5c" opacity="0.75"/><path d="M637.6,239.7 Q637.5,237.7 640.1,237.7 Q642.7,237.7 642.2,239.8 Q641.8,242.0 639.8,241.9 Q637.8,241.8 637.6,239.7 Z" fill="#8e6a5c" opacity="0.6"/><path d="M633.5,246.9 Q632.4,243.8 636.5,244.9 Q640.6,245.9 641.6,248.4 Q642.7,251.0 638.6,250.5 Q634.5,250.0 633.5,246.9 Z" fill="#a8b4bc" opacity="0.8"/></g>
<path d="M642.7,217.3 Q641.6,227.5 643.2,232.6 Q644.7,237.7 647.8,240.8 L650.8,243.8" fill="none" stroke="#a4a4aa" stroke-width="1.2" filter="url(#eb)" clip-path="url(#c1)"/>
<path d="M617.4,232.6 Q616.6,229.5 617.9,226.5 Q619.2,223.4 621.2,221.3 Q623.2,219.3 626.3,217.3 Q629.4,215.2 632.9,215.0 Q636.5,214.7 638.6,215.5 Q640.6,216.2 643.2,215.0 Q645.7,213.7 650.3,212.7 Q654.9,211.6 659.0,211.4 Q663.1,211.1 666.7,212.2 Q670.2,213.2 672.3,215.2 Q674.3,217.3 675.4,220.3 Q676.4,223.4 675.9,227.5 Q675.4,231.6 673.3,234.6 Q671.3,237.7 668.2,240.3 Q665.1,242.8 661.0,245.4 Q657.0,247.9 652.9,249.5 Q648.8,251.0 645.2,251.5 Q641.6,252.0 638.6,251.0 Q635.5,250.0 634.0,247.9 Q632.4,245.9 629.9,243.8 Q627.3,241.8 624.8,240.8 Q622.2,239.7 620.2,237.7 Q618.1,235.7 617.4,232.6 Z" fill="none" stroke="#2c84ad" stroke-width="1.4" filter="url(#eb2)"/>
<path d="M617.1,232.6 Q616.1,230.5 617.6,226.5 Q619.2,222.4 622.2,219.8 Q625.3,217.3 628.9,216.0 Q632.4,214.7 636.0,215.0 Q639.6,215.2 638.1,217.3 Q636.5,219.3 631.9,220.3 Q627.3,221.3 624.3,224.9 Q621.2,228.5 620.7,232.1 Q620.2,235.7 619.2,235.1 Q618.1,234.6 617.1,232.6 Z" fill="#2f86b0" filter="url(#eb)" clip-path="url(#c1)" opacity="0.8"/>
<clipPath id="c2"><path d="M618.6,307.1 Q618.1,304.6 619.2,301.5 Q620.2,298.4 622.7,295.9 Q625.3,293.3 628.9,291.5 Q632.4,289.8 637.0,289.5 Q641.6,289.2 643.7,287.7 Q645.7,286.2 649.3,284.4 Q652.9,282.6 657.0,282.3 Q661.0,282.1 664.6,283.6 Q668.2,285.2 670.8,288.2 Q673.3,291.3 674.1,295.9 Q674.8,300.5 674.1,305.6 Q673.3,310.7 670.8,314.8 Q668.2,318.9 664.1,321.9 Q660.0,325.0 655.4,326.5 Q650.8,328.1 646.2,327.6 Q641.6,327.0 638.6,325.0 Q635.5,323.0 632.4,320.9 Q629.4,318.9 626.3,316.8 Q623.2,314.8 621.2,312.2 Q619.2,309.7 618.6,307.1 Z"/></clipPath>
<path d="M618.6,307.1 Q618.1,304.6 619.2,301.5 Q620.2,298.4 622.7,295.9 Q625.3,293.3 628.9,291.5 Q632.4,289.8 637.0,289.5 Q641.6,289.2 643.7,287.7 Q645.7,286.2 649.3,284.4 Q652.9,282.6 657.0,282.3 Q661.0,282.1 664.6,283.6 Q668.2,285.2 670.8,288.2 Q673.3,291.3 674.1,295.9 Q674.8,300.5 674.1,305.6 Q673.3,310.7 670.8,314.8 Q668.2,318.9 664.1,321.9 Q660.0,325.0 655.4,326.5 Q650.8,328.1 646.2,327.6 Q641.6,327.0 638.6,325.0 Q635.5,323.0 632.4,320.9 Q629.4,318.9 626.3,316.8 Q623.2,314.8 621.2,312.2 Q619.2,309.7 618.6,307.1 Z" fill="#1f4e7c"/>
<g clip-path="url(#c2)" filter="url(#eb)"><path d="M640.1,292.8 Q642.7,289.2 647.8,287.7 Q652.9,286.2 658.0,286.7 Q663.1,287.2 666.2,291.3 Q669.2,295.4 669.2,301.5 Q669.2,307.6 666.2,312.2 Q663.1,316.8 658.0,318.9 Q652.9,320.9 647.8,319.9 Q642.7,318.9 640.6,313.8 Q638.6,308.7 638.1,302.5 Q637.5,296.4 640.1,292.8 Z" fill="#a9b2bd" opacity="1"/><path d="M646.7,295.9 Q645.7,291.3 650.3,290.3 Q654.9,289.2 658.0,291.3 Q661.0,293.3 660.5,297.4 Q660.0,301.5 656.5,302.5 Q652.9,303.5 650.3,302.0 Q647.8,300.5 646.7,295.9 Z" fill="#c9ccd2" opacity="1"/><path d="M629.9,293.3 Q630.4,290.3 635.5,290.3 Q640.6,290.3 641.6,294.3 Q642.7,298.4 640.6,301.5 Q638.6,304.6 635.5,303.5 Q632.4,302.5 630.9,299.5 Q629.4,296.4 629.9,293.3 Z" fill="#5f8fb5" opacity="0.9"/><path d="M621.2,303.5 Q621.2,298.4 624.8,296.4 Q628.3,294.3 630.4,298.9 Q632.4,303.5 629.9,307.1 Q627.3,310.7 624.3,309.7 Q621.2,308.7 621.2,303.5 Z" fill="#14375e" opacity="1"/><path d="M630.9,319.9 Q629.4,316.8 632.4,315.8 Q635.5,314.8 637.0,317.9 Q638.6,320.9 635.5,321.9 Q632.4,323.0 630.9,319.9 Z" fill="#3a8ad0" opacity="0.9"/><path d="M648.3,295.4 Q648.8,292.3 650.8,292.8 Q652.9,293.3 652.4,296.4 Q651.9,299.5 650.8,301.0 Q649.8,302.5 648.8,300.5 Q647.8,298.4 648.3,295.4 Z" fill="#f4f4f6" opacity="1"/></g>
<path d="M618.6,307.1 Q618.1,304.6 619.2,301.5 Q620.2,298.4 622.7,295.9 Q625.3,293.3 628.9,291.5 Q632.4,289.8 637.0,289.5 Q641.6,289.2 643.7,287.7 Q645.7,286.2 649.3,284.4 Q652.9,282.6 657.0,282.3 Q661.0,282.1 664.6,283.6 Q668.2,285.2 670.8,288.2 Q673.3,291.3 674.1,295.9 Q674.8,300.5 674.1,305.6 Q673.3,310.7 670.8,314.8 Q668.2,318.9 664.1,321.9 Q660.0,325.0 655.4,326.5 Q650.8,328.1 646.2,327.6 Q641.6,327.0 638.6,325.0 Q635.5,323.0 632.4,320.9 Q629.4,318.9 626.3,316.8 Q623.2,314.8 621.2,312.2 Q619.2,309.7 618.6,307.1 Z" fill="none" stroke="#16385f" stroke-width="2.6" filter="url(#eb2)"/>
<clipPath id="c3"><path d="M620.4,386.1 Q618.6,382.6 619.9,379.0 Q621.2,375.4 624.3,372.9 Q627.3,370.3 631.4,368.5 Q635.5,366.7 639.1,367.0 Q642.7,367.2 644.7,366.2 Q646.7,365.2 650.8,363.4 Q654.9,361.6 659.0,361.4 Q663.1,361.1 666.7,362.6 Q670.2,364.2 672.3,367.8 Q674.3,371.3 674.8,376.4 Q675.4,381.5 673.8,386.1 Q672.3,390.7 669.2,394.3 Q666.2,397.9 661.6,399.9 Q657.0,402.0 651.9,402.5 Q646.7,403.0 642.7,402.0 Q638.6,401.0 635.5,398.9 Q632.4,396.9 629.9,395.3 Q627.3,393.8 624.8,391.8 Q622.2,389.7 620.4,386.1 Z"/></clipPath>
<path d="M620.4,386.1 Q618.6,382.6 619.9,379.0 Q621.2,375.4 624.3,372.9 Q627.3,370.3 631.4,368.5 Q635.5,366.7 639.1,367.0 Q642.7,367.2 644.7,366.2 Q646.7,365.2 650.8,363.4 Q654.9,361.6 659.0,361.4 Q663.1,361.1 666.7,362.6 Q670.2,364.2 672.3,367.8 Q674.3,371.3 674.8,376.4 Q675.4,381.5 673.8,386.1 Q672.3,390.7 669.2,394.3 Q666.2,397.9 661.6,399.9 Q657.0,402.0 651.9,402.5 Q646.7,403.0 642.7,402.0 Q638.6,401.0 635.5,398.9 Q632.4,396.9 629.9,395.3 Q627.3,393.8 624.8,391.8 Q622.2,389.7 620.4,386.1 Z" fill="#e2e8ee"/>
<g clip-path="url(#c3)" filter="url(#eb)"><path d="M620.7,384.1 Q620.2,379.5 623.8,375.4 Q627.3,371.3 634.0,369.8 Q640.6,368.3 643.7,372.3 Q646.7,376.4 644.7,383.1 Q642.7,389.7 636.5,391.8 Q630.4,393.8 625.8,391.3 Q621.2,388.7 620.7,384.1 Z" fill="#d8dde6" opacity="1"/><path d="M648.8,378.5 Q648.8,367.2 654.9,365.7 Q661.0,364.2 665.1,366.7 Q669.2,369.3 670.2,375.4 Q671.3,381.5 668.2,387.7 Q665.1,393.8 660.0,395.9 Q654.9,397.9 651.9,393.8 Q648.8,389.7 648.8,378.5 Z" fill="#eef0ee" opacity="1"/><path d="M650.3,373.4 Q649.8,370.3 652.4,370.3 Q654.9,370.3 654.4,373.4 Q653.9,376.4 652.4,376.4 Q650.8,376.4 650.3,373.4 Z" fill="#a9aeb4" opacity="0.8"/><path d="M650.3,385.6 Q649.8,381.5 652.4,381.5 Q654.9,381.5 654.7,385.1 Q654.4,388.7 652.6,389.2 Q650.8,389.7 650.3,385.6 Z" fill="#5fa8c8" opacity="0.9"/></g>
<path d="M655.9,363.7 Q667.2,367.2 669.7,373.4 Q672.3,379.5 669.7,387.2 Q667.2,394.8 661.0,397.9 Q654.9,401.0 650.3,400.5 L645.7,399.9" fill="none" stroke="#a6cce0" stroke-width="0.6" filter="url(#eb2)" clip-path="url(#c3)"/>
<path d="M620.4,386.1 Q618.6,382.6 619.9,379.0 Q621.2,375.4 624.3,372.9 Q627.3,370.3 631.4,368.5 Q635.5,366.7 639.1,367.0 Q642.7,367.2 644.7,366.2 Q646.7,365.2 650.8,363.4 Q654.9,361.6 659.0,361.4 Q663.1,361.1 666.7,362.6 Q670.2,364.2 672.3,367.8 Q674.3,371.3 674.8,376.4 Q675.4,381.5 673.8,386.1 Q672.3,390.7 669.2,394.3 Q666.2,397.9 661.6,399.9 Q657.0,402.0 651.9,402.5 Q646.7,403.0 642.7,402.0 Q638.6,401.0 635.5,398.9 Q632.4,396.9 629.9,395.3 Q627.3,393.8 624.8,391.8 Q622.2,389.7 620.4,386.1 Z" fill="none" stroke="#d4dde6" stroke-width="1"/>
<clipPath id="c4"><path d="M621.2,465.8 Q620.2,462.7 621.2,459.1 Q622.2,455.5 624.8,452.5 Q627.3,449.4 630.9,447.4 Q634.5,445.3 638.1,445.3 Q641.6,445.3 643.2,443.3 Q644.7,441.2 647.8,438.7 Q650.8,436.1 654.4,435.1 Q658.0,434.1 662.1,435.1 Q666.2,436.1 669.2,439.2 Q672.3,442.3 673.8,446.9 Q675.4,451.5 674.8,457.1 Q674.3,462.7 671.8,466.8 Q669.2,470.9 665.1,473.9 Q661.0,477.0 656.5,478.5 Q651.9,480.1 647.3,480.1 Q642.7,480.1 638.6,478.5 Q634.5,477.0 630.9,475.0 Q627.3,472.9 624.8,470.9 Q622.2,468.8 621.2,465.8 Z"/></clipPath>
<path d="M621.2,465.8 Q620.2,462.7 621.2,459.1 Q622.2,455.5 624.8,452.5 Q627.3,449.4 630.9,447.4 Q634.5,445.3 638.1,445.3 Q641.6,445.3 643.2,443.3 Q644.7,441.2 647.8,438.7 Q650.8,436.1 654.4,435.1 Q658.0,434.1 662.1,435.1 Q666.2,436.1 669.2,439.2 Q672.3,442.3 673.8,446.9 Q675.4,451.5 674.8,457.1 Q674.3,462.7 671.8,466.8 Q669.2,470.9 665.1,473.9 Q661.0,477.0 656.5,478.5 Q651.9,480.1 647.3,480.1 Q642.7,480.1 638.6,478.5 Q634.5,477.0 630.9,475.0 Q627.3,472.9 624.8,470.9 Q622.2,468.8 621.2,465.8 Z" fill="#a89d8a"/>
<g clip-path="url(#c4)" filter="url(#eb)"><path d="M622.2,465.3 Q621.2,460.7 624.3,455.5 Q627.3,450.4 632.9,448.9 Q638.6,447.4 642.1,452.0 Q645.7,456.6 644.2,463.7 Q642.7,470.9 637.5,472.9 Q632.4,475.0 627.8,472.4 Q623.2,469.9 622.2,465.3 Z" fill="#c2b7a6" opacity="1"/><path d="M631.9,472.9 Q631.4,469.9 635.0,469.9 Q638.6,469.9 639.1,472.9 Q639.6,476.0 636.0,476.0 Q632.4,476.0 631.9,472.9 Z" fill="#e8e2d8" opacity="0.9"/><path d="M648.8,446.3 Q648.8,440.2 653.4,438.7 Q658.0,437.2 662.6,439.2 Q667.2,441.2 669.2,446.9 Q671.3,452.5 669.2,458.6 Q667.2,464.7 662.6,467.8 Q658.0,470.9 654.4,467.3 Q650.8,463.7 649.8,458.1 Q648.8,452.5 648.8,446.3 Z" fill="#9e937f" opacity="0.8"/><path d="M649.8,450.9 Q649.8,449.4 651.9,449.4 Q653.9,449.4 653.4,451.5 Q652.9,453.5 651.3,453.0 Q649.8,452.5 649.8,450.9 Z" fill="#f2efe8" opacity="0.9"/></g>
<circle cx="652.4" cy="447.4" r="1.7" fill="#3c7280" filter="url(#eb2)"/><circle cx="659" cy="456" r="2.1" fill="#2f6a78" filter="url(#eb2)"/>
<path d="M621.2,465.8 Q620.2,462.7 621.2,459.1 Q622.2,455.5 624.8,452.5 Q627.3,449.4 630.9,447.4 Q634.5,445.3 638.1,445.3 Q641.6,445.3 643.2,443.3 Q644.7,441.2 647.8,438.7 Q650.8,436.1 654.4,435.1 Q658.0,434.1 662.1,435.1 Q666.2,436.1 669.2,439.2 Q672.3,442.3 673.8,446.9 Q675.4,451.5 674.8,457.1 Q674.3,462.7 671.8,466.8 Q669.2,470.9 665.1,473.9 Q661.0,477.0 656.5,478.5 Q651.9,480.1 647.3,480.1 Q642.7,480.1 638.6,478.5 Q634.5,477.0 630.9,475.0 Q627.3,472.9 624.8,470.9 Q622.2,468.8 621.2,465.8 Z" fill="none" stroke="#a39882" stroke-width="0.6"/>
<text x="12.3" y="564.5" font-size="14" font-weight="bold" fill="#231f20">g</text>
<text x="31.3" y="608.8" font-size="9.2" font-weight="bold" fill="#222">Gene expression</text>
<circle cx="62.4" cy="661.5" r="39.4" fill="#f4d12a"/><path d="M62.4,661.5 L62.40,622.10 A39.4,39.4 0 0 1 98.05,644.72 Z" fill="#2e3192"/>
<text x="74" y="640.8" font-size="6.4" fill="#fff" text-anchor="middle">1545</text>
<text x="74" y="649.1" font-size="6.4" fill="#fff" text-anchor="middle">(18%)</text>
<text x="53.3" y="681" font-size="6.4" fill="#fff" text-anchor="middle">7039</text>
<text x="53.3" y="689.3" font-size="6.4" fill="#fff" text-anchor="middle">(82%)</text>
<rect x="106.8" y="629.3" width="7.5" height="7.8" fill="#f0c83a"/>
<rect x="106.8" y="639" width="7.5" height="8" fill="#2e3192"/>
<text x="116.5" y="636.3" font-size="7.75" fill="#222">Multiple domains</text>
<text x="116.5" y="645.4" font-size="7.75" fill="#222">Single domain</text>
<text x="25.5" y="725.5" font-size="9.2" font-weight="bold" fill="#222">Enhancer regulation</text>
<circle cx="68.2" cy="782.2" r="41.2" fill="#c03a2b"/><path d="M68.2,782.2 L68.20,741.00 A41.2,41.2 0 1 1 38.52,810.78 Z" fill="#1a6db4"/>
<text x="50.8" y="771.9" font-size="6.4" fill="#fff" text-anchor="middle">3094</text>
<text x="50.8" y="780.5" font-size="6.4" fill="#fff" text-anchor="middle">(37.4%)</text>
<text x="82.7" y="788.5" font-size="6.4" fill="#fff" text-anchor="middle">5168</text>
<text x="82.7" y="796.9" font-size="6.4" fill="#fff" text-anchor="middle">(62.8%)</text>
<rect x="106.8" y="743.5" width="6.9" height="6.7" fill="#c03a2b"/>
<rect x="106.8" y="751.6" width="6.9" height="7.2" fill="#1a6db4"/>
<text x="116.5" y="748.5" font-size="7.75" fill="#222">Divergent regulation</text>
<text x="116.5" y="757.1" font-size="7.75" fill="#222">Coherent regulation</text>
<text x="163.5" y="564.5" font-size="14" font-weight="bold" fill="#231f20">h</text>
<text x="270.2" y="579" font-size="9.25" font-weight="bold" fill="#222" text-anchor="middle">Spatial patterns of enhancers</text>
<text x="272.6" y="590.2" font-size="9.25" font-weight="bold" fill="#222" text-anchor="middle">regulate K1 genes</text>
<path d="M212 594.5h17m-17 7h17m-17 19h17m-17 6h17m-17 12h17m-17 8h17m-17 83h17m16-108h16m-16 49h16m-16 38h16m0 34h17m0-96h16m-16 57h16m-16 17h16" stroke="#f0c783" stroke-width="1" shape-rendering="crispEdges"/>
<path d="M212 597.5h17m-17 1h17m-17 2h17m-17 6h17m-17 1h17m-17 11h17m-17 3h17m-17 24h17m0-51h16m-16 20h16m-16 20h16m0-40h16m-16 7h16m-16 65h16m-16 10h16m-16 8h16m-16 3h16m0 39h17" stroke="#f3b967" stroke-width="1" shape-rendering="crispEdges"/>
<path d="M212 679.5h17m-17 4h17m-17 14h17m-17 13h17m-17 11h17m-17 1h17m-17 12h17m-17 7h17m-17 2h17m-17 11h17m-17 12h17m-17 7h17m-17 6h17m-17 1h17m0-118h16m-16 108h16m-16 3h16m-16 1h16m-16 1h16m-16 5h16m0-162h16m-16 4h16m-16 8h16m-16 4h16m-16 73h16m-16 6h16m-16 6h16m-16 16h16m-16 10h16m-16 3h16m-16 5h16m-16 5h16m0-164h17m-17 7h17m-17 11h17m-17 1h17m-17 4h17m-17 7h17m-17 6h17m-17 11h17m-17 13h17m-17 1h17m-17 2h17m-17 5h17m-17 6h17m-17 8h17m-17 1h17m-17 5h17m-17 1h17m-17 2h17m-17 9h17m-17 36h17m-17 7h17m-17 2h17m-17 8h17m-17 3h17m-17 23h17m-17 1h17m-17 1h17m-17 2h17m-17 1h17m0-182h16m-16 1h16m-16 11h16m-16 8h16m-16 3h16m-16 2h16m-16 16h16m-16 12h16m-16 3h16m-16 38h16m-16 10h16m-16 2h16m-16 9h16m-16 3h16m-16 2h16m-16 3h16m-16 4h16m-16 18h16m-16 8h16m-16 2h16m-16 2h16m-16 21h16m-16 2h16m0-170h17m-17 2h17m-17 17h17m-17 104h17m-17 50h17m0-48h16" stroke="#b3d1d7" stroke-width="1" shape-rendering="crispEdges"/>
<path d="M212 684.5h17m-17 2h17m-17 25h17m-17 6h17m-17 47h17m-17 5h17m-17 8h17m16-163h16m-16 38h16m-16 45h16m-16 19h16m-16 9h16m-16 15h16m-16 4h16m-16 7h16m-16 9h16m0-161h17m-17 49h17m-17 31h17m-17 31h17m-17 17h17m0-133h16m-16 20h16m-16 55h16m-16 16h16m0-86h17m-17 4h17m-17 9h17m-17 4h17m-17 5h17m-17 13h17m-17 27h17m-17 1h17m-17 27h17m-17 1h17m-17 6h17m-17 10h17m-17 21h17m-17 1h17m-17 5h17m-17 6h17m-17 9h17m-17 1h17m-17 8h17m-17 10h17m0-146h16m-16 12h16m-16 3h16m-16 14h16m-16 2h16m-16 4h16m-16 5h16m-16 3h16m-16 2h16m-16 7h16m-16 28h16m-16 38h16m-16 22h16m-16 9h16" stroke="#79c0f0" stroke-width="1" shape-rendering="crispEdges"/>
<path d="M212 772.5h17m65-178h17m-17 20h17m-17 54h17m-17 11h17m-17 7h17m-17 1h17m-17 20h17m-17 33h17m-17 5h17m-17 15h17m0-164h16m-16 9h16m-16 6h16m-16 3h16m-16 15h16m-16 2h16m-16 1h16m-16 25h16m-16 5h16m-16 7h16m-16 11h16m-16 31h16m-16 3h16m-16 8h16m-16 13h16m-16 19h16m-16 15h16m-16 3h16m-16 2h16" stroke="#399eef" stroke-width="1" shape-rendering="crispEdges"/>
<path d="M245 653.5h16m33-40h17m-17 25h17m-17 20h17m-17 12h17m-17 13h17m-17 2h17m-17 13h17m-17 11h17m-17 2h17m-17 5h17m-17 7h17m-17 13h17m-17 2h17m-17 3h17m-17 11h17m-17 12h17m0-170h16m-16 6h16m-16 20h16m-16 7h16m-16 21h16m-16 7h16m-16 21h16m-16 8h16m-16 1h16m-16 4h16m-16 9h16m-16 6h16m-16 16h16m-16 1h16m-16 7h16m-16 2h16m-16 14h16m-16 2h16m-16 1h16m-16 4h16m-16 1h16m-16 3h16m-16 5h16m-16 6h16m-16 2h16m-16 8h16" stroke="#41a4f0" stroke-width="1" shape-rendering="crispEdges"/>
<path d="M212 595.5h17m-17 20h17m-17 19h17m-17 72h17m0-109h16m-16 53h16m-16 1h16m-16 5h16m-16 2h16m-16 1h16m-16 5h16m0-58h16m-16 49h16m0-5h17m-17 16h17m-17 23h17m-17 11h17m-17 3h17m-17 3h17m0-108h16m-16 4h16m-16 10h16m-16 48h16m-16 47h16m-16 8h16m0-92h17" stroke="#ead29f" stroke-width="1" shape-rendering="crispEdges"/>
<path d="M212 605.5h17m-17 7h17m-17 1h17m-17 14h17m-17 2h17m-17 1h17m-17 1h17m-17 4h17m-17 5h17m0-45h16m-16 4h16m0-4h16m-16 8h16m-16 64h16m-16 8h16m-16 5h16" stroke="#f3ae5b" stroke-width="1" shape-rendering="crispEdges"/>
<path d="M212 666.5h17m-17 11h17m-17 3h17m-17 8h17m-17 10h17m-17 6h17m-17 1h17m-17 32h17m-17 2h17m-17 3h17m-17 3h17m-17 2h17m-17 2h17m-17 4h17m-17 3h17m-17 5h17m-17 17h17m0-132h16m-16 119h16m-16 1h16m-16 3h16m-16 2h16m-16 7h16m0-168h16m-16 5h16m-16 1h16m-16 4h16m-16 7h16m-16 8h16m-16 3h16m-16 16h16m-16 6h16m-16 2h16m-16 1h16m-16 38h16m-16 4h16m-16 17h16m-16 9h16m-16 1h16m-16 15h16m-16 5h16m-16 9h16m0-166h17m-17 21h17m-17 3h17m-17 3h17m-17 5h17m-17 2h17m-17 2h17m-17 4h17m-17 1h17m-17 3h17m-17 1h17m-17 20h17m-17 3h17m-17 18h17m-17 9h17m-17 15h17m-17 6h17m-17 1h17m-17 9h17m-17 10h17m-17 2h17m-17 3h17m-17 5h17m-17 4h17m-17 3h17m-17 4h17m-17 4h17m-17 5h17m0-166h16m-16 5h16m-16 6h16m-16 4h16m-16 3h16m-16 5h16m-16 2h16m-16 2h16m-16 1h16m-16 3h16m-16 2h16m-16 2h16m-16 9h16m-16 17h16m-16 7h16m-16 10h16m-16 2h16m-16 1h16m-16 3h16m-16 2h16m-16 3h16m-16 5h16m-16 5h16m-16 5h16m-16 5h16m-16 6h16m-16 8h16m-16 18h16m-16 7h16m-16 1h16m-16 1h16m-16 15h16m-16 1h16m-16 8h16m-16 4h16m0-171h17m-17 18h17m-17 17h17m-17 95h17" stroke="#c1d4ce" stroke-width="1" shape-rendering="crispEdges"/>
<path d="M212 727.5h17m-17 47h17m16-125h16m-16 44h16m-16 5h16m-16 20h16m-16 18h16m-16 2h16m-16 12h16m-16 4h16m-16 1h16m0-159h17m-17 1h17m-17 3h17m-17 7h17m-17 68h17m-17 11h17m-17 6h17m-17 10h17m-17 18h17m0-76h16m-16 34h16m-16 2h16m0-85h17m-17 44h17m-17 9h17m-17 4h17m-17 14h17m-17 11h17m-17 1h17m-17 2h17m-17 12h17m-17 5h17m-17 3h17m-17 2h17m-17 3h17m-17 7h17m-17 3h17m-17 6h17m-17 9h17m-17 14h17m-17 6h17m-17 5h17m-17 1h17m-17 3h17m-17 10h17m-17 5h17m-17 3h17m-17 1h17m-17 2h17m0-176h16m-16 6h16m-16 13h16m-16 30h16m-16 15h16m-16 15h16m-16 5h16m-16 20h16m-16 15h16m-16 6h16m-16 14h16m-16 6h16m-16 29h16" stroke="#6bb9f0" stroke-width="1" shape-rendering="crispEdges"/>
<path d="M212 667.5h17m16 57h16m-16 2h16m-16 1h16m0-32h17m-17 48h17m16-138h17m-17 2h17m-17 25h17m-17 17h17m-17 10h17m-17 14h17m-17 1h17m-17 14h17m-17 31h17m-17 6h17m-17 33h17m-17 10h17m-17 5h17m-17 2h17m0-180h16m-16 7h16m-16 1h16m-16 3h16m-16 1h16m-16 5h16m-16 4h16m-16 8h16m-16 1h16m-16 1h16m-16 12h16m-16 3h16m-16 10h16m-16 3h16m-16 5h16m-16 8h16m-16 3h16m-16 11h16m-16 6h16m-16 5h16m-16 1h16m-16 9h16m-16 4h16m-16 4h16m-16 7h16m-16 1h16m-16 8h16m-16 7h16m-16 12h16m-16 8h16m-16 11h16m-16 1h16m-16 2h16m-16 6h16m-16 4h16" stroke="#4fabf0" stroke-width="1" shape-rendering="crispEdges"/>
<path d="M212 596.5h17m-17 7h17m-17 25h17m-17 16h17m-17 100h17m0-144h16m0 4h16m-16 3h16m-16 78h16" stroke="#f3c274" stroke-width="1" shape-rendering="crispEdges"/>
<path d="M212 610.5h17m-17 14h17m-17 9h17m-17 79h17m0-116h16m-16 9h16m-16 3h16m-16 7h16m0-19h16m-16 72h16m-16 18h16m-16 2h16" stroke="#f2a44f" stroke-width="1" shape-rendering="crispEdges"/>
<path d="M294 596.5h17m-17 58h17m-17 27h17m-17 3h17m-17 51h17m0-138h16m-16 2h16m-16 2h16m-16 38h16m-16 58h16m-16 3h16m-16 3h16m-16 10h16m-16 2h16m-16 4h16m-16 5h16m-16 16h16m-16 17h16m-16 1h16m-16 1h16m-16 12h16" stroke="#389aec" stroke-width="1" shape-rendering="crispEdges"/>
<path d="M212 608.5h17m-17 8h17m-17 3h17m-17 4h17m-17 13h17m0-38h16m-16 18h16m-16 2h16m-16 15h16m-16 19h16m-16 27h16m-16 16h16m0-98h16m-16 1h16m-16 2h16m-16 5h16m-16 3h16m-16 37h16m-16 24h16m-16 9h16m-16 12h16" stroke="#f19a42" stroke-width="1" shape-rendering="crispEdges"/>
<path d="M212 614.5h17m-17 55h17m-17 6h17m-17 6h17m-17 9h17m-17 3h17m-17 1h17m-17 1h17m-17 4h17m-17 16h17m-17 5h17m-17 37h17m-17 11h17m0-113h16m-16 5h16m-16 119h16m0-168h16m-16 6h16m-16 2h16m-16 9h16m-16 4h16m-16 8h16m-16 1h16m-16 10h16m-16 5h16m-16 1h16m-16 1h16m-16 6h16m-16 32h16m-16 3h16m-16 11h16m-16 1h16m-16 1h16m-16 2h16m-16 9h16m-16 5h16m-16 1h16m-16 4h16m-16 26h16m0-154h17m-17 3h17m-17 7h17m-17 6h17m-17 4h17m-17 1h17m-17 25h17m-17 16h17m-17 6h17m-17 24h17m-17 25h17m-17 1h17m-17 21h17m-17 5h17m-17 9h17m-17 13h17m-17 1h17m-17 7h17m0-154h16m-16 7h16m-16 13h16m-16 3h16m-16 9h16m-16 7h16m-16 3h16m-16 5h16m-16 5h16m-16 6h16m-16 39h16m-16 6h16m-16 2h16m-16 8h16m-16 17h16m-16 2h16m-16 14h16m-16 4h16m0-178h17m-17 4h17m-17 9h17m-17 20h17m-17 5h17m-17 1h17m-17 14h17m-17 1h17m-17 5h17m-17 20h17m-17 6h17m-17 12h17m-17 5h17m-17 11h17m-17 4h17m-17 4h17m-17 28h17m-17 1h17m-17 23h17m0-54h16" stroke="#a4cfe1" stroke-width="1" shape-rendering="crispEdges"/>
<path d="M212 670.5h17m-17 3h17m-17 12h17m-17 50h17m-17 5h17m-17 8h17m-17 4h17m-17 6h17m-17 7h17m-17 6h17m-17 5h17m0-131h16m-16 127h16m0-146h16m-16 13h16m-16 53h16m-16 3h16m-16 11h16m-16 9h16m-16 5h16m-16 17h16m-16 9h16m0-148h17m-17 5h17m-17 41h17m-17 2h17m-17 24h17m-17 10h17m-17 4h17m-17 3h17m-17 20h17m-17 2h17m-17 5h17m-17 3h17m-17 18h17m-17 19h17m-17 6h17m-17 7h17m-17 13h17m0-146h16m-16 6h16m-16 30h16m-16 16h16m-16 1h16m-16 40h16m-16 31h16m-16 19h16m0-179h17m-17 2h17m-17 4h17m-17 11h17m-17 4h17m-17 3h17m-17 4h17m-17 3h17m-17 2h17m-17 2h17m-17 38h17m-17 24h17m-17 13h17m-17 9h17m-17 5h17m-17 2h17m-17 2h17m-17 5h17m-17 6h17m-17 5h17m-17 23h17m-17 7h17m-17 4h17m0-161h16m-16 31h16m-16 66h16m-16 30h16m-16 14h16" stroke="#87c7f0" stroke-width="1" shape-rendering="crispEdges"/>
<path d="M294 667.5h17m0-69h16m-16 77h16m-16 7h16m-16 8h16m-16 17h16m-16 2h16m-16 29h16m-16 37h16" stroke="#3592e7" stroke-width="1" shape-rendering="crispEdges"/>
<path d="M212 599.5h17m-17 38h17m-17 13h17m-17 2h17m0-48h16m-16 2h16m-16 6h16m-16 7h16m-16 3h16m-16 5h16m-16 1h16m-16 10h16m-16 30h16m-16 2h16m-16 2h16m-16 6h16m-16 4h16m-16 1h16m-16 3h16m-16 4h16m-16 30h16m-16 20h16m-16 1h16m-16 17h16m0-76h16m-16 1h16m-16 6h16m-16 80h16m-16 2h16m-16 5h16" stroke="#ea762d" stroke-width="1" shape-rendering="crispEdges"/>
<path d="M212 617.5h17m-17 38h17m-17 4h17m0-56h16m-16 20h16m-16 1h16m-16 6h16m-16 2h16m-16 42h16m-16 6h16m-16 5h16m-16 36h16m-16 6h16m-16 25h16m0-153h16m-16 3h16m-16 71h16m-16 4h16m-16 4h16m-16 94h16" stroke="#f08f36" stroke-width="1" shape-rendering="crispEdges"/>
<path d="M212 604.5h17m-17 28h17m-17 64h17m-17 5h17m-17 29h17m-17 21h17m0-94h16m-16 111h16m0-26h16m0-140h17m-17 47h17m-17 47h17m-17 19h17m-17 19h17m-17 4h17m-17 28h17m0-167h16m-16 6h16m-16 19h16m-16 27h16m-16 4h16m-16 3h16m-16 24h16m-16 23h16m-16 3h16m-16 4h16m-16 17h16m-16 3h16m-16 7h16m-16 3h16m-16 5h16m-16 3h16m-16 6h16m-16 9h16" stroke="#e7d7ae" stroke-width="1" shape-rendering="crispEdges"/>
<path d="M212 648.5h17m0-47h16m-16 9h16m-16 3h16m-16 23h16m-16 3h16m-16 1h16m-16 26h16m-16 1h16m-16 9h16m-16 16h16m-16 6h16m-16 24h16m-16 3h16m-16 1h16m-16 6h16m-16 1h16m-16 12h16m0 19h16m-16 2h16m-16 8h16" stroke="#e6682a" stroke-width="1" shape-rendering="crispEdges"/>
<path d="M212 641.5h17m-17 37h17m-17 25h17m-17 16h17m-17 9h17m-17 4h17m-17 23h17m-17 4h17m0-111h16m-16 6h16m-16 7h16m-16 2h16m-16 114h16m0-148h16m-16 4h16m-16 3h16m-16 103h16m-16 4h16m0-139h17m-17 6h17m-17 13h17m-17 5h17m-17 24h17m-17 7h17m-17 2h17m-17 8h17m-17 3h17m-17 21h17m-17 36h17m-17 22h17m-17 4h17m-17 2h17m-17 2h17m-17 6h17m-17 3h17m0-167h16m-16 16h16m-16 14h16m-16 2h16m-16 2h16m-16 1h16m-16 5h16m-16 9h16m-16 4h16m-16 8h16m-16 6h16m-16 3h16m-16 22h16m-16 4h16m-16 9h16m-16 3h16m-16 16h16m-16 6h16m-16 6h16m-16 22h16m-16 7h16m-16 2h16m-16 12h16m0-77h17" stroke="#dfd9ba" stroke-width="1" shape-rendering="crispEdges"/>
<path d="M212 602.5h17m-17 52h17m0-52h16m-16 5h16m-16 4h16m-16 6h16m-16 3h16m-16 1h16m-16 5h16m-16 3h16m-16 2h16m-16 10h16m-16 61h16m-16 7h16m-16 45h16m0-110h16m-16 30h16m-16 5h16m-16 93h16m-16 8h16" stroke="#ee832f" stroke-width="1" shape-rendering="crispEdges"/>
<path d="M212 668.5h17m-17 4h17m-17 10h17m-17 5h17m-17 13h17m-17 2h17m-17 7h17m-17 4h17m-17 3h17m-17 8h17m-17 1h17m-17 8h17m-17 5h17m-17 12h17m-17 17h17m-17 3h17m-17 5h17m16-163h16m-16 11h16m-16 14h16m-16 22h16m-16 41h16m-16 2h16m-16 1h16m-16 6h16m-16 21h16m-16 11h16m-16 8h16m-16 8h16m0-146h17m-17 3h17m-17 19h17m-17 5h17m-17 61h17m-17 20h17m-17 6h17m-17 3h17m-17 18h17m-17 18h17m0-161h16m-16 1h16m-16 3h16m-16 31h16m-16 15h16m-16 39h16m-16 32h16m-16 28h16m-16 12h16m-16 14h16m-16 1h16m0-168h17m-17 13h17m-17 3h17m-17 13h17m-17 1h17m-17 3h17m-17 1h17m-17 10h17m-17 2h17m-17 3h17m-17 3h17m-17 12h17m-17 18h17m-17 8h17m-17 12h17m-17 7h17m-17 23h17m-17 8h17m-17 2h17m-17 1h17m-17 12h17m0-149h16m-16 57h16m-16 62h16m-16 1h16" stroke="#95cceb" stroke-width="1" shape-rendering="crispEdges"/>
<path d="M212 671.5h17m-17 3h17m-17 2h17m-17 13h17m-17 3h17m-17 22h17m-17 4h17m-17 5h17m-17 3h17m-17 5h17m-17 5h17m-17 10h17m-17 14h17m0-116h16m-16 5h16m-16 4h16m-16 111h16m-16 3h16m-16 9h16m0-152h16m-16 7h16m-16 17h16m-16 2h16m-16 11h16m-16 43h16m-16 17h16m-16 13h16m0-128h17m-17 12h17m-17 16h17m-17 11h17m-17 8h17m-17 3h17m-17 2h17m-17 6h17m-17 7h17m-17 3h17m-17 4h17m-17 10h17m-17 10h17m-17 3h17m-17 3h17m-17 4h17m-17 8h17m-17 16h17m-17 21h17m-17 17h17m-17 6h17m0-165h16m-16 4h16m-16 12h16m-16 2h16m-16 32h16m-16 5h16m-16 8h16m-16 24h16m-16 3h16m-16 12h16m-16 8h16m-16 5h16m-16 9h16m-16 5h16m-16 6h16m-16 2h16m-16 6h16m-16 13h16m-16 3h16m-16 2h16m0-154h17m-17 116h17m0-89h16" stroke="#d0d6c4" stroke-width="1" shape-rendering="crispEdges"/>
<path d="M245 613.5h16m-16 81h16m-16 23h16m0-97h17m-17 12h17m-17 92h17m-17 16h17m0-45h16m-16 22h16m0-100h17m-17 11h17m-17 18h17m-17 18h17m-17 5h17m-17 3h17m-17 32h17m-17 57h17m-17 10h17m0-163h16m-16 10h16m-16 4h16m-16 6h16m-16 7h16m-16 2h16m-16 3h16m-16 4h16m-16 19h16m-16 15h16m-16 1h16m-16 15h16m-16 2h16m-16 3h16m-16 6h16m-16 20h16m-16 7h16m-16 2h16m-16 7h16m-16 39h16" stroke="#5db2f0" stroke-width="1" shape-rendering="crispEdges"/>
<path d="M212 611.5h17m-17 11h17m-17 3h17m-17 14h17m-17 68h17m-17 1h17m16-83h16m-16 131h16m0-119h17m-17 76h17m-17 5h17m-17 51h17m0-110h16m-16 29h16m-16 8h16m-16 37h16m-16 1h16" stroke="#edcc91" stroke-width="1" shape-rendering="crispEdges"/>
<path d="M311 613.5h16" stroke="#348ee5" stroke-width="1" shape-rendering="crispEdges"/>
<path d="M311 619.5h16m-16 39h16" stroke="#328ae2" stroke-width="1" shape-rendering="crispEdges"/>
<path d="M229 625.5h16m-16 10h16m-16 2h16m-16 86h16m-16 1h16m-16 6h16m-16 5h16m-16 1h16m-16 2h16m-16 17h16m0-84h16m-16 96h16" stroke="#df4d26" stroke-width="1" shape-rendering="crispEdges"/>
<path d="M294 653.5h17m0-23h16m-16 4h16m-16 15h16m-16 11h16m-16 12h16m-16 5h16m-16 9h16m-16 9h16m-16 32h16m-16 21h16m-16 2h16m-16 29h16" stroke="#3796ea" stroke-width="1" shape-rendering="crispEdges"/>
<path d="M212 649.5h17m-17 2h17m-17 6h17m-17 3h17m0 24h16m-16 4h16m-16 1h16m-16 4h16m-16 4h16m-16 42h16m-16 7h16m-16 1h16m-16 2h16m-16 1h16m-16 1h16m-16 8h16m-16 1h16m0-114h16m-16 131h16m-16 1h16m-16 1h16" stroke="#da4224" stroke-width="1" shape-rendering="crispEdges"/>
<path d="M212 653.5h17m-17 5h17m-17 3h17m-17 3h17m0 5h16m-16 4h16m-16 4h16m-16 4h16m-16 6h16m-16 18h16m-16 7h16m-16 5h16m-16 2h16m0-47h16m-16 93h16" stroke="#e35b28" stroke-width="1" shape-rendering="crispEdges"/>
<path d="M212 656.5h17m-17 6h17m-17 1h17m0 8h16m-16 4h16m-16 19h16m-16 9h16m-16 31h16m-16 3h16m-16 6h16m-16 10h16m0 15h16m-16 5h16" stroke="#d03522" stroke-width="1" shape-rendering="crispEdges"/>
<path d="M311 671.5h16" stroke="#3186e0" stroke-width="1" shape-rendering="crispEdges"/>
<path d="M229 696.5h16m-16 3h16m-16 7h16m-16 2h16m-16 5h16m-16 18h16m-16 13h16m-16 12h16m0 14h16" stroke="#c62720" stroke-width="1" shape-rendering="crispEdges"/>
<path d="M229 700.5h16m-16 1h16m-16 3h16m-16 3h16m-16 4h16m-16 3h16m-16 1h16m-16 1h16m-16 2h16m-16 24h16m-16 15h16m-16 4h16" stroke="#d63b23" stroke-width="1" shape-rendering="crispEdges"/>
<path d="M229 710.5h16m-16 18h16m-16 1h16m-16 19h16" stroke="#cc2e21" stroke-width="1" shape-rendering="crispEdges"/>
<rect x="212.3" y="608.8" width="114.6" height="1.4" fill="#8a8f98"/>
<rect x="212.3" y="642.3" width="114.6" height="1.4" fill="#8a8f98"/>
<rect x="212.3" y="647.1" width="114.6" height="1.4" fill="#8a8f98"/>
<rect x="212.3" y="664.6" width="114.6" height="1.4" fill="#8a8f98"/>
<rect x="212.3" y="690.9" width="114.6" height="1.4" fill="#8a8f98"/>
<rect x="212.3" y="762.2" width="114.6" height="1.4" fill="#8a8f98"/>
<rect x="212.3" y="593.5" width="114.6" height="187.4" fill="none" stroke="#8a8f98" stroke-width="0.5"/>
<text x="210.6" y="602.5" font-size="7.2" font-weight="bold" fill="#222" text-anchor="end">M1</text>
<text x="210.6" y="628.9" font-size="7.2" font-weight="bold" fill="#222" text-anchor="end">M2</text>
<text x="210.6" y="648.0" font-size="7.2" font-weight="bold" fill="#222" text-anchor="end">M3</text>
<text x="210.6" y="660.7" font-size="7.2" font-weight="bold" fill="#222" text-anchor="end">M4</text>
<text x="210.6" y="682.6" font-size="7.2" font-weight="bold" fill="#222" text-anchor="end">M5</text>
<text x="210.6" y="721.1" font-size="7.2" font-weight="bold" fill="#222" text-anchor="end">M6</text>
<text x="210.6" y="776.9" font-size="7.2" font-weight="bold" fill="#222" text-anchor="end">M7</text>
<text transform="translate(224.2,784.2) rotate(-90)" font-size="10" fill="#222" text-anchor="end">D0</text>
<text transform="translate(240.6,784.2) rotate(-90)" font-size="10" fill="#222" text-anchor="end">D1</text>
<text transform="translate(256.9,784.2) rotate(-90)" font-size="10" fill="#222" text-anchor="end">D2</text>
<text transform="translate(273.3,784.2) rotate(-90)" font-size="10" fill="#222" text-anchor="end">D5</text>
<text transform="translate(289.7,784.2) rotate(-90)" font-size="10" fill="#222" text-anchor="end">D6</text>
<text transform="translate(306.0,784.2) rotate(-90)" font-size="10" fill="#222" text-anchor="end">D3</text>
<text transform="translate(322.4,784.2) rotate(-90)" font-size="10" fill="#222" text-anchor="end">D4</text>
<text x="279.7" y="807.5" font-size="7" fill="#222" text-anchor="middle">Enhancer spatial specificity</text>
<rect x="255.3" y="810.4" width="33.7" height="6.2" fill="url(#gRd)"/>
<text x="255.7" y="822" font-size="6.4" fill="#222" text-anchor="middle">−3</text>
<text x="271.5" y="822" font-size="6.4" fill="#222" text-anchor="middle">0</text>
<text x="287.4" y="822" font-size="6.4" fill="#222" text-anchor="middle">3</text>
<text x="354" y="564.5" font-size="14" font-weight="bold" fill="#231f20">i</text>
<rect x="389.2" y="584.6" width="59.5" height="59.5" fill="#fff"/>
<polygon points="390.4,585.8 416.0,585.8 417.2,611.4 407.1,617.3 390.4,619.1" fill="#fbe9ef"/>
<polygon points="390.4,621.5 401.1,620.3 416.0,626.2 430.8,633.4 447.5,641.1 447.5,643.5 421.9,643.5 410.0,635.8 398.1,629.8 390.4,628.6" fill="#f8dde7"/>
<g filter="url(#mb)"><path d="M390.5 615.2h1.3m0-10.4h1.3m2.6 19.4h1.3m-1.3 2.6h1.3m1.3-28.6h1.3m-1.3 23.4h1.3m-1.3 1.4h1.3m0-30h1.3m3.9 40.4h1.3m0-5.2h1.3m0 1.2h1.3m-1.3 0h1.3m0-16.8h1.3m0 20.8h1.3m0-2.6h1.3m0-1.4h1.3m0-33.8h1.3m-1.3 35.2h1.3m0-36.4h1.3m-1.3 41.6h1.3m1.3-6.6h1.3m-1.3 5.2h1.3m-1.3 4h1.3m1.3-4h1.3m0-1.2h1.3m3.9 1.2h1.3m0 4h1.3m0-4h1.3m-1.3 5.2h1.3m0-5.2h1.3m-1.3 7.8h1.3m1.3 0h1.3m0-3.8h1.3m1.3 3.8h1.3" stroke="#df51a1" stroke-width="1.3" shape-rendering="crispEdges"/>
<path d="M391.8 602.2h1.3m-1.3 20.8h1.3m2.6-7.8h1.3m0 10.4h1.3m3.9 0h1.3m1.3-17h1.3m0 5.2h1.3m0-7.8h1.3m-1.3 24.8h1.3m0-20.8h1.3m2.6-14.4h1.3m-1.3 32.6h1.3m-1.3 3.8h1.3m-1.3 1.4h1.3m1.3 1.2h1.3m-1.3 1.4h1.3m0-1.4h1.3m0-2.6h1.3m1.3 6.6h1.3m-1.3 1.2h1.3m2.6 1.4h1.3m0-5.2h1.3m-1.3 1.2h1.3m0 2.6h1.3m0 2.6h1.3m0-5.2h1.3m0-2.6h1.3m-1.3 7.8h1.3m0-5.2h1.3m0 2.6h1.3m-1.3 2.6h1.3m0-6.4h1.3m-1.3 2.6h1.3m-1.3 3.8h1.3m1.3-3.8h1.3m-1.3 2.6h1.3m-1.3 1.2h1.3m5.2 0h1.3" stroke="#c32e8d" stroke-width="1.3" shape-rendering="crispEdges"/>
<path d="M394.4 602.2h1.3m0-1.4h1.3m2.6-3.8h1.3m-1.3 29.8h1.3m1.3-32.4h1.3m0 9h1.3m-1.3 1.4h1.3m0-6.6h1.3m2.6 5.2h1.3m-1.3 4h1.3m0 18.2h1.3m0-39h1.3m-1.3 22h1.3m0-15.6h1.3m6.5 44.2h1.3m-1.3 2.6h1.3m2.6-3.8h1.3m3.9 3.8h1.3m2.6-3.8h1.3m0 5.2h1.3m-1.3 0h1.3m1.3-2.6h1.3m1.3 2.6h1.3" stroke="#f6a9c5" stroke-width="1.3" shape-rendering="crispEdges"/>
<path d="M393.1 607.4h1.3m-1.3 1.2h1.3m3.9 7.8h1.3m0-24.6h1.3m-1.3 39h1.3m0-30h1.3m-1.3 17h1.3m3.9-18.2h1.3m-1.3 29.8h1.3m0 0h1.3m2.6-22h1.3m9.1 35h1.3m0-10.4h1.3m-1.3 9.2h1.3m6.5-2.6h1.3" stroke="#f9c7d7" stroke-width="1.3" shape-rendering="crispEdges"/>
<path d="M390.5 593h1.3m-1.3 30h1.3m2.6-10.4h1.3m0-7.8h1.3m-1.3 22h1.3m1.3-28.6h1.3m-1.3 1.4h1.3m-1.3 28.6h1.3m1.3-18.2h1.3m2.6-9.2h1.3m0-11.6h1.3m-1.3 7.8h1.3m0 35h1.3m-1.3 1.4h1.3m0-41.6h1.3m-1.3 35h1.3m0 5.2h1.3m0-37.6h1.3m0-2.6h1.3m-1.3 3.8h1.3m-1.3 5.2h1.3m0-5.2h1.3m0-1.2h1.3m-1.3 39h1.3m-1.3 2.6h1.3m0-4h1.3m0 7.8h1.3m3.9 2.6h1.3m0-3.8h1.3m-1.3 1.2h1.3m-1.3 1.4h1.3m3.9-7.8h1.3m-1.3 0h1.3m2.6 1.2h1.3m5.2 4h1.3m2.6 3.8h1.3m0 0h1.3" stroke="#eb7eb3" stroke-width="1.3" shape-rendering="crispEdges"/>
<path d="M390.5 615.2h1.3m0-1.4h1.3m2.6-22h1.3m-1.3 16.8h1.3m-1.3 20.8h1.3m2.6-11.6h1.3m-1.3 10.4h1.3m0-18.2h1.3m0 15.6h1.3m0-26h1.3m1.3 6.4h1.3m-1.3 18.2h1.3m0 5.2h1.3m1.3 0h1.3m-1.3 1.4h1.3m0-5.2h1.3m-1.3 9h1.3m0-5.2h1.3m2.6-1.2h1.3m-1.3 5.2h1.3m0 1.2h1.3m0-2.6h1.3m1.3 6.6h1.3m0-7.8h1.3m0 9h1.3m6.5-1.2h1.3m2.6 2.6h1.3m1.3 1.2h1.3m3.9 0h1.3m1.3-1.2h1.3" stroke="#e567aa" stroke-width="1.3" shape-rendering="crispEdges"/>
<path d="M390.5 590.4h1.3m1.3 18.2h1.3m0-16.8h1.3m-1.3 29.8h1.3m3.9-29.8h1.3m2.6 36.4h1.3m6.5 5.2h1.3" stroke="#fad1dd" stroke-width="1.3" shape-rendering="crispEdges"/>
<path d="M390.5 613.8h1.3m1.3 1.4h1.3m-1.3 1.2h1.3m7.8 13h1.3m0 0h1.3m0-19.4h1.3m0 0h1.3m0-18.2h1.3m-1.3 39h1.3m0 1.2h1.3m2.6-28.6h1.3m0 23.4h1.3m1.3 13h1.3m0-6.4h1.3m-1.3 1.2h1.3m10.4 5.2h1.3m1.3-1.2h1.3m-1.3 1.2h1.3m2.6-1.2h1.3m-1.3 1.2h1.3m0-1.2h1.3" stroke="#f8bdd1" stroke-width="1.3" shape-rendering="crispEdges"/>
<path d="M390.5 626.8h1.3m0-13h1.3m0-26h1.3m1.3 14.4h1.3m0-7.8h1.3m3.9 27.2h1.3m-1.3 7.8h1.3m0-40.2h1.3m-1.3 1.2h1.3m0 24.8h1.3m0 2.6h1.3m0 14.2h1.3m2.6-20.8h1.3m0-15.6h1.3m0 13h1.3m2.6 22.2h1.3m-1.3 10.4h1.3m7.8 0h1.3m2.6 0h1.3m-1.3 0h1.3m-1.3 1.2h1.3m6.5 0h1.3" stroke="#f7b3cb" stroke-width="1.3" shape-rendering="crispEdges"/>
<path d="M390.5 625.6h1.3m1.3-2.6h1.3m1.3 6.4h1.3m0-14.2h1.3m2.6-20.8h1.3m2.6 16.8h1.3m3.9-1.2h1.3m-1.3 15.6h1.3m-1.3 5.2h1.3m2.6-36.4h1.3m-1.3 40.2h1.3m-1.3 1.4h1.3m1.3-4h1.3m-1.3 0h1.3m-1.3 1.4h1.3m-1.3 5.2h1.3m1.3-7.8h1.3m-1.3 10.4h1.3m1.3-1.4h1.3m-1.3 1.4h1.3m0-2.6h1.3m-1.3 3.8h1.3m-1.3 0h1.3m0-7.8h1.3m-1.3 1.4h1.3m-1.3 3.8h1.3m1.3-7.8h1.3m-1.3 9.2h1.3m0-4h1.3m2.6 0h1.3m0 2.6h1.3m1.3-2.6h1.3m-1.3 4h1.3m0-2.6h1.3m0 3.8h1.3m-1.3 0h1.3m6.5-1.2h1.3" stroke="#d14097" stroke-width="1.3" shape-rendering="crispEdges"/>
<path d="M393.1 626.8h1.3m0 0h1.3m0-10.4h1.3m0-29.8h1.3m-1.3 27.2h1.3m-1.3 14.4h1.3m2.6-6.6h1.3m-1.3 9.2h1.3m0-4h1.3m0 4h1.3m0-2.6h1.3m0 2.6h1.3m0-43h1.3m-1.3 7.8h1.3m0 30h1.3m-1.3 6.4h1.3m0-33.8h1.3m0-9h1.3m-1.3 19.4h1.3m-1.3 5.2h1.3m1.3 15.6h1.3m0 1.4h1.3m1.3 3.8h1.3m3.9-2.6h1.3m1.3 0h1.3m-1.3 6.6h1.3m2.6 0h1.3m1.3 3.8h1.3m10.4-1.2h1.3" stroke="#f194bc" stroke-width="1.3" shape-rendering="crispEdges"/>
<path d="M398.3 626.8h1.3m15.6-15.6h1.3m2.6 23.4h1.3m-1.3 1.4h1.3m0-2.6h1.3m2.6 9h1.3m0-5.2h1.3m0-2.6h1.3m-1.3 4h1.3m0 3.8h1.3m1.3 0h1.3m0-1.2h1.3m-1.3 1.2h1.3m1.3 0h1.3m2.6-3.8h1.3m-1.3 3.8h1.3m1.3-2.6h1.3m-1.3 1.4h1.3m0-1.4h1.3" stroke="#a4137e" stroke-width="1.3" shape-rendering="crispEdges"/>
<path d="M391.8 623h1.3m2.6 6.4h1.3m16.9 4h1.3m1.3-4h1.3m0 1.4h1.3m-1.3 5.2h1.3m-1.3 0h1.3m0 0h1.3m-1.3 0h1.3m3.9 5.2h1.3m0-2.6h1.3m0 1.2h1.3m1.3 1.4h1.3m2.6-1.4h1.3m0 2.6h1.3m0-1.2h1.3m1.3-1.4h1.3m-1.3 1.4h1.3m0-1.4h1.3m-1.3 1.4h1.3m1.3 0h1.3" stroke="#b41d83" stroke-width="1.3" shape-rendering="crispEdges"/>
<path d="M390.5 625.6h1.3m-1.3 0h1.3m6.5 5.2h1.3m22.1 3.8h1.3m-1.3 0h1.3m-1.3 6.6h1.3m0-5.2h1.3m1.3 0h1.3m1.3 0h1.3m-1.3 1.2h1.3m0 1.4h1.3m0-2.6h1.3m3.9 2.6h1.3m3.9 2.6h1.3m1.3 0h1.3" stroke="#820578" stroke-width="1.3" shape-rendering="crispEdges"/>
<path d="M411.3 625.6h1.3m0 5.2h1.3m3.9 3.8h1.3m0 0h1.3m2.6 2.6h1.3m-1.3 4h1.3m0-6.6h1.3m2.6 1.4h1.3m1.3-1.4h1.3m3.9 6.6h1.3m2.6 0h1.3m1.3-1.4h1.3" stroke="#930c7b" stroke-width="1.3" shape-rendering="crispEdges"/></g>
<rect x="389.2" y="584.6" width="59.5" height="59.5" fill="none" stroke="#444" stroke-width="1.0"/>
<text x="412.5" y="580.1" font-size="6.8" fill="#222" text-anchor="middle">M2</text>
<rect x="472.1" y="583.4" width="59.5" height="59.3" fill="#fff"/>
<polygon points="473.3,584.6 498.9,584.6 500.1,610.1 490.0,616.0 473.3,617.8" fill="#f3f0f1"/>
<polygon points="473.3,620.2 484.0,619.0 498.9,624.9 513.8,632.0 530.4,639.7 530.4,642.1 504.8,642.1 492.9,634.4 481.0,628.5 473.3,627.3" fill="#f5cfdd"/>
<g filter="url(#mb)"><path d="M473.4 590.6h1.3m-1.3 18.2h1.3m0-22.2h1.3m2.6-1.3h1.3m0 7.9h1.3m1.3 10.4h1.3m-1.3 18.2h1.3m3.9-7.9h1.3m1.3-28.6h1.3m-1.3 11.7h1.3m3.9-2.6h1.3m-1.3 15.6h1.3m0-22.1h1.3m-1.3 11.7h1.3" stroke="#fad1dd" stroke-width="1.3" shape-rendering="crispEdges"/>
<path d="M474.7 594.4h1.3m0 10.4h1.3m1.3-10.4h1.3m-1.3 6.5h1.3m-1.3 14.3h1.3m0 0h1.3m9.1-10.4h1.3m1.3 2.6h1.3m0-22.1h1.3m-1.3 19.5h1.3m0 0h1.3m0 27.4h1.3m0-36.4h1.3m6.5 35h1.3m18.2 7.8h1.3" stroke="#f9c7d7" stroke-width="1.3" shape-rendering="crispEdges"/>
<path d="M474.7 597h1.3m2.6 6.6h1.3m0 2.6h1.3m10.4-19.6h1.3" stroke="#fbdbe3" stroke-width="1.3" shape-rendering="crispEdges"/>
<path d="M477.3 597h1.3m0 27.3h1.3m3.9-32.5h1.3m10.4 37.8h1.3m-1.3 3.8h1.3m5.2-3.8h1.3m7.8 11.6h1.3m1.3 0h1.3m0-7.8h1.3m2.6 5.2h1.3" stroke="#f8bdd1" stroke-width="1.3" shape-rendering="crispEdges"/>
<path d="M476 623h1.3m1.3-3.8h1.3m-1.3 0h1.3m-1.3 5.1h1.3m2.6 3.9h1.3m0-3.9h1.3m0-2.5h1.3m-1.3 2.5h1.3m0 3.9h1.3m0-1.3h1.3m0-5.1h1.3m3.9 10.4h1.3m0-6.6h1.3m-1.3 6.6h1.3m0-6.6h1.3m-1.3 9.2h1.3m0-6.6h1.3m-1.3 6.6h1.3m0 2.5h1.3m0-9.1h1.3m-1.3 7.8h1.3m3.9-2.6h1.3m0 3.9h1.3m0 2.6h1.3m10.4-3.9h1.3m1.3 2.6h1.3m1.3 0h1.3m0 2.6h1.3" stroke="#e567aa" stroke-width="1.3" shape-rendering="crispEdges"/>
<path d="M472.1 626.9h1.3m7.8-1.3h1.3m-1.3 1.3h1.3m1.3-1.3h1.3m1.3 4h1.3m2.6-1.4h1.3m3.9 2.6h1.3m-1.3 1.4h1.3m1.3-6.6h1.3m2.6 13h1.3m0-2.6h1.3m0-2.6h1.3m0 3.9h1.3m5.2-3.9h1.3m-1.3 2.6h1.3m10.4 2.6h1.3" stroke="#930c7b" stroke-width="1.3" shape-rendering="crispEdges"/>
<path d="M473.4 623h1.3m3.9 2.6h1.3m2.6-5.2h1.3m1.3 9.2h1.3m0-6.6h1.3m-1.3 3.9h1.3m0-3.9h1.3m-1.3 9.2h1.3m0-10.4h1.3m2.6 5.1h1.3m-1.3 7.9h1.3m0-2.6h1.3m0 0h1.3m-1.3 1.2h1.3m0-3.8h1.3m0 1.2h1.3m0-2.6h1.3m-1.3 4h1.3m1.3-1.4h1.3m-1.3 6.5h1.3m-1.3 0h1.3m0-9.1h1.3m-1.3 0h1.3m-1.3 1.4h1.3m-1.3 6.4h1.3m-1.3 1.3h1.3m1.3-6.5h1.3m-1.3 7.8h1.3m0 2.6h1.3m0-2.6h1.3m0-2.6h1.3m0 5.2h1.3m2.6-6.4h1.3m-1.3 3.8h1.3m0-2.6h1.3m1.3 0h1.3m1.3 1.3h1.3m0 1.3h1.3m1.3 2.6h1.3" stroke="#df51a1" stroke-width="1.3" shape-rendering="crispEdges"/>
<path d="M473.4 625.6h1.3m9.1-6.4h1.3m-1.3 5.1h1.3m-1.3 2.6h1.3m0 0h1.3m0-5.1h1.3m2.6 6.4h1.3m1.3 0h1.3m0 2.6h1.3m1.3 2.6h1.3m1.3-3.8h1.3m0 10.3h1.3m1.3-2.6h1.3m0 2.6h1.3m1.3-5.1h1.3m3.9 5.1h1.3m1.3-5.1h1.3m-1.3 6.4h1.3m3.9-3.9h1.3m1.3 1.3h1.3m-1.3 1.3h1.3m-1.3 1.3h1.3m1.3-2.6h1.3" stroke="#d14097" stroke-width="1.3" shape-rendering="crispEdges"/>
<path d="M474.7 623h1.3m0-1.2h1.3m0 1.2h1.3m-1.3 2.6h1.3m2.6-5.2h1.3m7.8 9.2h1.3m-1.3 1.2h1.3m2.6-1.2h1.3m2.6-1.4h1.3m-1.3 6.6h1.3m0-9.2h1.3m0 11.7h1.3m1.3-1.3h1.3m2.6-5.2h1.3m5.2 4h1.3m-1.3 6.4h1.3m2.6-2.6h1.3m10.4 1.3h1.3" stroke="#820578" stroke-width="1.3" shape-rendering="crispEdges"/>
<path d="M474.7 620.4h1.3m0 5.2h1.3m2.6-1.3h1.3m0-2.5h1.3m-1.3 0h1.3m-1.3 1.2h1.3m1.3 5.2h1.3m-1.3 1.4h1.3m1.3-7.8h1.3m2.6 9h1.3m0-1.2h1.3m0 2.6h1.3m2.6-5.3h1.3m0-1.3h1.3m-1.3 6.6h1.3m0 1.2h1.3m0 0h1.3m1.3 6.5h1.3m-1.3 1.3h1.3m0-9h1.3m-1.3 3.8h1.3m0-6.4h1.3m1.3 3.8h1.3m1.3 5.2h1.3m9.1 0h1.3m3.9 2.6h1.3" stroke="#eb7eb3" stroke-width="1.3" shape-rendering="crispEdges"/>
<path d="M479.9 621.8h1.3m-1.3 1.2h1.3m1.3 1.3h1.3m0-3.9h1.3m0 1.4h1.3m0 2.5h1.3m0 0h1.3m5.2 3.9h1.3m1.3 5.2h1.3m0-7.8h1.3m1.3 10.4h1.3m1.3-5.2h1.3m-1.3 9.1h1.3m0-11.7h1.3m-1.3 9.1h1.3m0-2.5h1.3m3.9-2.6h1.3m-1.3 3.8h1.3m-1.3 1.3h1.3m6.5 3.9h1.3" stroke="#a4137e" stroke-width="1.3" shape-rendering="crispEdges"/>
<path d="M476 621.8h1.3m0 3.8h1.3m2.6-2.6h1.3m7.8 2.6h1.3m-1.3 7.8h1.3m0-9.1h1.3m-1.3 5.3h1.3m2.6-2.7h1.3m0 5.3h1.3m-1.3 1.2h1.3m-1.3 2.6h1.3m1.3-10.4h1.3m-1.3 9.2h1.3m0 2.5h1.3m1.3-7.7h1.3m0 3.8h1.3m-1.3 6.5h1.3m3.9-1.3h1.3m-1.3 1.3h1.3m10.4 1.3h1.3" stroke="#f6a9c5" stroke-width="1.3" shape-rendering="crispEdges"/>
<path d="M477.3 624.3h1.3m1.3 2.6h1.3m3.9-2.6h1.3m0-2.5h1.3m0 5.1h1.3m2.6 6.5h1.3m1.3-1.2h1.3m2.6-1.4h1.3m0 2.6h1.3m0 6.5h1.3m0-10.3h1.3m2.6 2.6h1.3m0 1.2h1.3m0 5.2h1.3m0-2.6h1.3m-1.3 1.3h1.3m-1.3 0h1.3m0-3.9h1.3m1.3 2.6h1.3m0 2.6h1.3m2.6-2.6h1.3m0 3.9h1.3m6.5-1.3h1.3m-1.3 1.3h1.3m0 1.3h1.3" stroke="#c32e8d" stroke-width="1.3" shape-rendering="crispEdges"/>
<path d="M477.3 620.4h1.3m2.6 6.5h1.3m0-6.5h1.3m-1.3 0h1.3m5.2 7.8h1.3m-1.3 0h1.3m0 4h1.3m3.9-6.6h1.3m0 0h1.3m0 11.7h1.3m2.6-7.7h1.3m1.3 7.7h1.3m0-5.1h1.3m-1.3 9h1.3m1.3-7.8h1.3m1.3 7.8h1.3m0-3.9h1.3m0 0h1.3m0 0h1.3m3.9 2.6h1.3m0 1.3h1.3m5.2 0h1.3" stroke="#b41d83" stroke-width="1.3" shape-rendering="crispEdges"/>
<path d="M472.1 625.6h1.3m0-2.6h1.3m2.6-2.6h1.3m0 5.2h1.3m7.8-1.3h1.3m2.6 7.9h1.3m0-5.3h1.3m1.3 6.5h1.3m0-6.5h1.3m0 7.9h1.3m3.9-5.2h1.3m0 3.8h1.3m3.9-1.2h1.3m-1.3 6.4h1.3m1.3 0h1.3m-1.3 1.3h1.3m1.3 1.3h1.3m0-5.2h1.3m0 2.6h1.3m1.3-1.3h1.3m3.9 1.3h1.3" stroke="#f194bc" stroke-width="1.3" shape-rendering="crispEdges"/>
<path d="M482.5 625.6h1.3m0-3.8h1.3m22.1 16.8h1.3" stroke="#f7b3cb" stroke-width="1.3" shape-rendering="crispEdges"/></g>
<rect x="472.1" y="583.4" width="59.5" height="59.3" fill="none" stroke="#444" stroke-width="1.0"/>
<text x="494.5" y="578.9" font-size="6.8" fill="#222" text-anchor="middle">M6</text>
<rect x="542.7" y="583.5" width="59.7" height="58.9" fill="#fff"/>
<polygon points="543.9,584.7 569.6,584.7 570.8,610.0 560.6,615.9 543.9,617.7" fill="#f6c9dc"/>
<polygon points="543.9,620.0 554.6,618.8 569.6,624.7 584.5,631.8 601.2,639.5 601.2,641.8 575.5,641.8 563.6,634.2 551.7,628.3 543.9,627.1" fill="#f8edf0"/>
<g filter="url(#mb)"><path d="M542.7 614h1.3m0-6.4h1.3m0 6.4h1.3m1.3-23.4h1.3m-1.3 14.3h1.3m0-19.5h1.3m-1.3 14.4h1.3m1.3 1.2h1.3m-1.3 2.6h1.3m1.3-7.8h1.3m-1.3 4h1.3m-1.3 5.1h1.3m-1.3 6.5h1.3m0-26h1.3m-1.3 4h1.3m0-2.6h1.3m-1.3 16.8h1.3m0 4h1.3m1.3-15.7h1.3m0-6.5h1.3m-1.3 2.6h1.3m-1.3 11.8h1.3m0-14.4h1.3m1.3 22.2h1.3m7.8 33.8h1.3m2.6-9.2h1.3m11.7 4h1.3" stroke="#b41d83" stroke-width="1.3" shape-rendering="crispEdges"/>
<path d="M547.9 611.4h1.3m6.5-10.4h1.3m-1.3 10.4h1.3m1.3-1.2h1.3m0 0h1.3m0-6.6h1.3m-1.3 7.8h1.3m2.6-19.5h1.3m0 2.7h1.3m1.3 7.8h1.3m1.3 28.5h1.3m3.9 3.9h1.3m11.7 1.4h1.3" stroke="#a4137e" stroke-width="1.3" shape-rendering="crispEdges"/>
<path d="M545.3 595.8h1.3m-1.3 2.6h1.3m1.3-5.2h1.3m-1.3 20.8h1.3m0-14.2h1.3m1.3 9h1.3m0-13h1.3m-1.3 2.6h1.3m-1.3 13h1.3m-1.3 1.4h1.3m1.3-4h1.3m1.3-20.8h1.3m3.9 2.6h1.3m-1.3 14.3h1.3m0 6.5h1.3m0 0h1.3m1.3-15.6h1.3m3.9 41.6h1.3m2.6-2.6h1.3m0-1.2h1.3m0 5.2h1.3" stroke="#d14097" stroke-width="1.3" shape-rendering="crispEdges"/>
<path d="M544 603.6h1.3m2.6-7.8h1.3m-1.3 9.1h1.3m1.3-10.3h1.3m-1.3 10.3h1.3m0-15.5h1.3m-1.3 6.4h1.3m-1.3 9.1h1.3m0-9.1h1.3m-1.3 6.6h1.3m-1.3 13h1.3m0-30h1.3m0 14.4h1.3m0 1.2h1.3m-1.3 14.4h1.3m0-5.2h1.3m0-1.4h1.3m1.3-19.4h1.3m-1.3 10.4h1.3m0-6.6h1.3m0 4h1.3m0 2.6h1.3m0 2.6h1.3m2.6 29.8h1.3m-1.3 0h1.3m2.6 6.6h1.3m7.8-2.6h1.3m3.9 1.2h1.3m1.3 2.6h1.3m-1.3 1.4h1.3" stroke="#e567aa" stroke-width="1.3" shape-rendering="crispEdges"/>
<path d="M544 590.6h1.3m0-5.2h1.3m-1.3 19.5h1.3m-1.3 1.3h1.3m-1.3 1.4h1.3m-1.3 7.8h1.3m0-14.4h1.3m0-15.6h1.3m0 13h1.3m0-9h1.3m-1.3 16.8h1.3m0-20.8h1.3m-1.3 14.4h1.3m-1.3 9h1.3m1.3-14.2h1.3m1.3-5.2h1.3m3.9 20.8h1.3m2.6-18.3h1.3m-1.3 19.5h1.3m1.3-19.5h1.3m-1.3 13h1.3m6.5 35.1h1.3m0-1.2h1.3m0-4h1.3m-1.3 1.4h1.3m-1.3 2.6h1.3m0-6.6h1.3m-1.3 6.6h1.3m6.5-1.4h1.3m7.8 1.4h1.3" stroke="#c32e8d" stroke-width="1.3" shape-rendering="crispEdges"/>
<path d="M542.7 603.6h1.3m1.3-18.2h1.3m3.9 5.2h1.3m0 5.2h1.3m-1.3 31.2h1.3m0-39h1.3m-1.3 1.4h1.3m2.6 2.5h1.3m0 28.7h1.3m6.5-14.4h1.3m6.5 30h1.3m3.9 1.2h1.3m0-3.8h1.3m3.9 1.2h1.3m-1.3 2.6h1.3m2.6 0h1.3" stroke="#f194bc" stroke-width="1.3" shape-rendering="crispEdges"/>
<path d="M544 620.6h1.3m0-26h1.3m-1.3 13h1.3m-1.3 5.2h1.3m0-18.2h1.3m0 6.4h1.3m-1.3 11.8h1.3m0-27.4h1.3m-1.3 1.4h1.3m-1.3 16.8h1.3m2.6-1.2h1.3m1.3 2.5h1.3m-1.3 11.7h1.3m0-13h1.3m-1.3 11.8h1.3m0 0h1.3m0-22.2h1.3m-1.3 17h1.3m0-15.6h1.3m-1.3 16.8h1.3m1.3-26h1.3m-1.3 17h1.3m2.6 1.2h1.3m13 35.2h1.3m0-1.4h1.3" stroke="#df51a1" stroke-width="1.3" shape-rendering="crispEdges"/>
<path d="M545.3 599.8h1.3m0 13h1.3m0-5.2h1.3m0-9.2h1.3m0 2.6h1.3m1.3 9.2h1.3m0-19.6h1.3m-1.3 11.8h1.3m-1.3 1.2h1.3m0 6.6h1.3m7.8-23.4h1.3m-1.3 18.1h1.3m1.3-9.1h1.3m-1.3 11.8h1.3m0-18.2h1.3m3.9 46.8h1.3m3.9-1.4h1.3m3.9 1.4h1.3m5.2 0h1.3m0 2.6h1.3" stroke="#eb7eb3" stroke-width="1.3" shape-rendering="crispEdges"/>
<path d="M545.3 623.2h1.3m1.3-1.4h1.3m-1.3 1.4h1.3m1.3-35.2h1.3m-1.3 16.9h1.3m2.6 23.5h1.3m1.3-6.6h1.3m1.3-28.6h1.3m-1.3 37.7h1.3m1.3-5.1h1.3m0-24.8h1.3m-1.3 23.4h1.3m0 10.4h1.3m1.3-39h1.3m0 10.4h1.3m1.3 22.2h1.3m-1.3 2.5h1.3m1.3 1.3h1.3m2.6 2.6h1.3m0 0h1.3m3.9 1.4h1.3m-1.3 0h1.3m13 5.2h1.3m0-2.6h1.3" stroke="#f6a9c5" stroke-width="1.3" shape-rendering="crispEdges"/>
<path d="M545.3 625.8h1.3m1.3-5.2h1.3m-1.3 0h1.3m2.6 5.2h1.3m0 0h1.3m3.9-40.4h1.3m-1.3 7.8h1.3m1.3 28.6h1.3m1.3 9.1h1.3m0-18.1h1.3m0-15.6h1.3m0 11.6h1.3m0 22.1h1.3m1.3 7.9h1.3m2.6-9.2h1.3m0 9.2h1.3m0 2.6h1.3m2.6-6.6h1.3m0 0h1.3m1.3 1.4h1.3m2.6 5.2h1.3" stroke="#f7b3cb" stroke-width="1.3" shape-rendering="crispEdges"/>
<path d="M544 611.4h1.3m3.9-11.6h1.3m-1.3 14.2h1.3m0-15.6h1.3m-1.3 7.8h1.3m0-10.4h1.3m-1.3 1.4h1.3m1.3-10.4h1.3m-1.3 18.1h1.3m-1.3 2.7h1.3m0-10.4h1.3m2.6-11.8h1.3m-1.3 15.6h1.3m-1.3 7.8h1.3m0-20.8h1.3m-1.3 14.4h1.3m-1.3 1.2h1.3m-1.3 7.8h1.3m0-26h1.3m0 19.5h1.3m1.3-3.9h1.3m-1.3 6.6h1.3m0-7.8h1.3m11.7 32.4h1.3m6.5 2.6h1.3" stroke="#820578" stroke-width="1.3" shape-rendering="crispEdges"/>
<path d="M547.9 585.4h1.3m6.5 20.8h1.3m-1.3 1.4h1.3m1.3-14.4h1.3m-1.3 1.4h1.3m1.3 5.2h1.3m0 14.2h1.3m3.9-22.1h1.3m11.7 48.1h1.3m3.9 1.4h1.3m0-7.8h1.3" stroke="#930c7b" stroke-width="1.3" shape-rendering="crispEdges"/>
<path d="M549.2 625.8h1.3m7.8 1.2h1.3m7.8-33.8h1.3m3.9 39h1.3m2.6 5.2h1.3m5.2-1.2h1.3m15.6 3.8h1.3" stroke="#f8bdd1" stroke-width="1.3" shape-rendering="crispEdges"/>
<path d="M547.9 624.4h1.3m2.6 2.6h1.3m3.9 2.6h1.3m6.5 4h1.3m5.2 2.6h1.3m0-6.6h1.3m3.9 5.2h1.3m-1.3 1.4h1.3m3.9 0h1.3m-1.3 3.8h1.3m9.1-2.6h1.3" stroke="#f9c7d7" stroke-width="1.3" shape-rendering="crispEdges"/>
<path d="M544 625.8h1.3m1.3-4h1.3m7.8-2.6h1.3m14.3 17h1.3m2.6 1.2h1.3m0-6.5h1.3m7.8 5.3h1.3m-1.3 1.2h1.3m3.9 1.4h1.3m6.5 1.2h1.3" stroke="#fad1dd" stroke-width="1.3" shape-rendering="crispEdges"/></g>
<rect x="542.7" y="583.5" width="59.7" height="58.9" fill="none" stroke="#444" stroke-width="1.0"/>
<text x="567.5" y="579.0" font-size="6.8" fill="#222" text-anchor="middle">M4</text>
<rect x="620.2" y="583.5" width="59.1" height="58.9" fill="#fff"/>
<polygon points="621.4,584.7 646.8,584.7 648.0,610.0 637.9,615.9 621.4,617.7" fill="#eaf4ec"/>
<polygon points="621.4,620.0 632.0,618.8 646.8,624.7 661.6,631.8 678.1,639.5 678.1,641.8 652.7,641.8 640.9,634.2 629.1,628.3 621.4,627.1" fill="#d6ebea"/>
<g filter="url(#mb)"><path d="M621.5 625.8h1.3m0-31.2h1.3m-1.3 27.2h1.3m-1.3 0h1.3m0-36.4h1.3m0 35.2h1.3m2.6-35.2h1.3m-1.3 22.2h1.3m-1.3 11.6h1.3m-1.3 7.8h1.3m0-11.6h1.3m0-13h1.3m0 19.4h1.3m-1.3 0h1.3m0-15.6h1.3m-1.3 14.4h1.3m-1.3 7.8h1.3m1.3-40.4h1.3m-1.3 1.4h1.3m-1.3 16.8h1.3m-1.3 15.6h1.3m1.3-36.4h1.3m0 49.4h1.3m0-46.8h1.3m0 36.4h1.3m1.3 4h1.3m-1.3 1.2h1.3m0 2.6h1.3m-1.3 4h1.3m0-4h1.3m1.3-1.3h1.3m0 5.3h1.3m-1.3 3.8h1.3m0 0h1.3m0-3.8h1.3m0 3.8h1.3m1.3-7.8h1.3m1.3 9.2h1.3m0-5.2h1.3m2.6-1.4h1.3m3.9 5.2h1.3" stroke="#50aac1" stroke-width="1.3" shape-rendering="crispEdges"/>
<path d="M621.5 608.8h1.3m0-9h1.3m-1.3 22h1.3m1.3-36.4h1.3m-1.3 0h1.3m-1.3 6.5h1.3m0-6.5h1.3m1.3 17h1.3m-1.3 10.4h1.3m-1.3 10.4h1.3m0-24.8h1.3m1.3-3.8h1.3m-1.3 33.8h1.3m0-31.2h1.3m1.3 5.2h1.3m0-11.8h1.3m0-5.2h1.3m-1.3 23.4h1.3m0 15.6h1.3m-1.3 9.2h1.3m0-23.4h1.3m-1.3 15.6h1.3m-1.3 1.2h1.3m1.3 5.2h1.3m0-24.6h1.3m-1.3 1.2h1.3m5.2 30h1.3m-1.3 2.6h1.3m5.2-1.4h1.3m3.9-5.2h1.3m2.6 2.6h1.3m1.3 4h1.3m1.3 0h1.3" stroke="#93d5c3" stroke-width="1.3" shape-rendering="crispEdges"/>
<path d="M621.5 625.8h1.3m0-1.4h1.3m0-1.2h1.3m0 1.2h1.3m0-35h1.3m-1.3 3.8h1.3m0 32.6h1.3m-1.3 1.2h1.3m0-37.6h1.3m0-4h1.3m0 24.8h1.3m3.9-19.6h1.3m-1.3 39h1.3m0-39h1.3m-1.3 35.2h1.3m-1.3 5.1h1.3m-1.3 0h1.3m0-1.3h1.3m-1.3 1.3h1.3m0-37.7h1.3m0 9.2h1.3m-1.3 5.2h1.3m0-6.6h1.3m-1.3 3.9h1.3m-1.3 20.9h1.3m-1.3 0h1.3m-1.3 3.8h1.3m0 4h1.3m1.3-26h1.3m0 22h1.3m-1.3 1.3h1.3m-1.3 6.5h1.3m1.3-5.2h1.3m1.3 0h1.3m-1.3 1.4h1.3m-1.3 2.6h1.3m-1.3 0h1.3m-1.3 2.6h1.3m0 1.2h1.3m0-3.8h1.3m0-2.6h1.3m0-1.4h1.3m-1.3 4h1.3m-1.3 2.6h1.3m0 0h1.3m0-4h1.3m1.3-1.2h1.3m-1.3 6.4h1.3m-1.3 1.4h1.3m2.6 0h1.3m-1.3 0h1.3m0 0h1.3m1.3-2.6h1.3m0 1.2h1.3m2.6-1.2h1.3" stroke="#2782b6" stroke-width="1.3" shape-rendering="crispEdges"/>
<path d="M621.5 585.4h1.3m-1.3 24.8h1.3m0 2.6h1.3m0 1.2h1.3m-1.3 10.4h1.3m1.3-37.6h1.3m0 37.6h1.3m0-20.8h1.3m-1.3 24.8h1.3m2.6-36.5h1.3m0-6.5h1.3m-1.3 30h1.3m2.6-7.8h1.3m1.3 15.6h1.3m-1.3 10.4h1.3m0-36.4h1.3m-1.3 7.7h1.3m-1.3 2.7h1.3m0-6.6h1.3m-1.3 6.6h1.3m0 27.2h1.3m10.4 1.4h1.3m-1.3 1.2h1.3m2.6 2.6h1.3m1.3-2.6h1.3m1.3 0h1.3m-1.3 0h1.3m0 4h1.3m7.8 0h1.3" stroke="#a6dcc2" stroke-width="1.3" shape-rendering="crispEdges"/>
<path d="M622.8 625.8h1.3m-1.3 0h1.3m0 0h1.3m-1.3 1.2h1.3m0-41.6h1.3m-1.3 7.8h1.3m-1.3 30h1.3m-1.3 2.6h1.3m1.3-18.2h1.3m-1.3 18.2h1.3m0-14.4h1.3m-1.3 15.6h1.3m-1.3 0h1.3m0-6.4h1.3m0-10.4h1.3m0 11.6h1.3m0-10.4h1.3m-1.3 4h1.3m-1.3 14.2h1.3m0-27.2h1.3m0 26h1.3m7.8-40.4h1.3m-1.3 2.6h1.3m-1.3 7.8h1.3m-1.3 5.2h1.3m0 27.3h1.3m-1.3 1.3h1.3m-1.3 5.2h1.3m0 1.4h1.3m-1.3 0h1.3m0-7.9h1.3m0 2.7h1.3m0-4h1.3m-1.3 11.8h1.3m1.3-6.6h1.3m-1.3 4h1.3m2.6-6.6h1.3m-1.3 9.2h1.3m1.3-1.4h1.3m0 1.4h1.3m0-2.6h1.3m1.3 2.6h1.3m-1.3 0h1.3m0-4h1.3m0 2.6h1.3" stroke="#6abec3" stroke-width="1.3" shape-rendering="crispEdges"/>
<path d="M621.5 597.2h1.3m6.5 11.6h1.3m14.3-19.4h1.3" stroke="#ddf1d6" stroke-width="1.3" shape-rendering="crispEdges"/>
<path d="M621.5 610.2h1.3m5.2 6.4h1.3m1.3 0h1.3m-1.3 13h1.3m0-44.2h1.3m23.4 49.4h1.3" stroke="#cfecc9" stroke-width="1.3" shape-rendering="crispEdges"/>
<path d="M621.5 593.2h1.3m2.6-5.2h1.3m-1.3 10.4h1.3m-1.3 5.2h1.3m-1.3 22.2h1.3m0-18.2h1.3m1.3 7.8h1.3m3.9 15.5h1.3m0-46.7h1.3m0 10.4h1.3m-1.3 28.6h1.3m0 7.7h1.3m2.6-45.5h1.3m0 9.2h1.3m1.3-7.8h1.3m9.1 49.4h1.3" stroke="#b9e3c1" stroke-width="1.3" shape-rendering="crispEdges"/>
<path d="M620.2 624.4h1.3m0-13h1.3m5.2-5.2h1.3m-1.3 17h1.3m0-37.8h1.3m-1.3 33.8h1.3m-1.3 0h1.3m0-28.6h1.3m-1.3 35.2h1.3m0-39h1.3m-1.3 35h1.3m-1.3 6.6h1.3m1.3-4h1.3m0-11.6h1.3m0-10.4h1.3m1.3 31.2h1.3m2.6-2.7h1.3m-1.3 2.7h1.3m0-7.8h1.3m2.6 13h1.3m1.3-9.2h1.3m-1.3 6.6h1.3m0 1.2h1.3m-1.3 2.6h1.3m0-10.4h1.3m0 4h1.3m1.3 3.8h1.3m2.6-1.2h1.3m-1.3 5.2h1.3m0-6.6h1.3m2.6 1.4h1.3m6.5 5.2h1.3" stroke="#81cec4" stroke-width="1.3" shape-rendering="crispEdges"/>
<path d="M628 586.8h1.3m37.7 52h1.3" stroke="#d6eecf" stroke-width="1.3" shape-rendering="crispEdges"/>
<path d="M621.5 588h1.3m0 36.4h1.3m0-1.2h1.3m0-37.8h1.3m-1.3 14.4h1.3m-1.3 23.4h1.3m-1.3 0h1.3m0-24.8h1.3m0-7.8h1.3m-1.3 1.3h1.3m-1.3 13h1.3m-1.3 15.7h1.3m-1.3 1.2h1.3m0-29.9h1.3m0 18.3h1.3m0 16.8h1.3m1.3-13h1.3m-1.3 9.2h1.3m-1.3 1.2h1.3m0-32.5h1.3m-1.3 23.5h1.3m1.3 11.6h1.3m-1.3 0h1.3m-1.3 1.4h1.3m2.6-35.2h1.3m0 39h1.3m0-3.8h1.3m-1.3 0h1.3m1.3 0h1.3m1.3 5.2h1.3m-1.3 2.6h1.3m0 0h1.3m-1.3 2.6h1.3m0-5.2h1.3m0-1.4h1.3m-1.3 1.4h1.3m-1.3 3.8h1.3m1.3-5.2h1.3m0 4h1.3m1.3 0h1.3m0-1.4h1.3m-1.3 0h1.3m0 1.4h1.3m-1.3 0h1.3m-1.3 2.6h1.3m0 0h1.3m-1.3 0h1.3m5.2 2.6h1.3m2.6-2.6h1.3m-1.3 2.6h1.3" stroke="#3896bf" stroke-width="1.3" shape-rendering="crispEdges"/>
<path d="M622.8 593.2h1.3m-1.3 22.2h1.3m0 10.4h1.3m0 1.2h1.3m1.3-28.6h1.3m0 26h1.3m0 1.4h1.3m0-4h1.3m-1.3 7.8h1.3m2.6-42.8h1.3m0 35h1.3m2.6 1.4h1.3m-1.3 5.2h1.3m0-43h1.3m0 40.4h1.3m-1.3 7.8h1.3m0-1.4h1.3m2.6-1.3h1.3m-1.3 1.3h1.3m-1.3 1.4h1.3m-1.3 0h1.3m0-2.7h1.3m-1.3 1.3h1.3m-1.3 0h1.3m-1.3 4h1.3m0-5.3h1.3m0 3.9h1.3m-1.3 6.6h1.3m0-2.6h1.3m0-1.4h1.3m0-3.8h1.3m-1.3 6.4h1.3m-1.3 1.4h1.3m0-9.2h1.3m-1.3 2.6h1.3m-1.3 2.6h1.3m-1.3 2.6h1.3m0-3.8h1.3m-1.3 0h1.3m-1.3 3.8h1.3m-1.3 0h1.3m0-6.4h1.3m-1.3 2.6h1.3m0 0h1.3m-1.3 1.2h1.3m-1.3 4h1.3m0-7.8h1.3m-1.3 5.2h1.3m-1.3 1.2h1.3m0-2.6h1.3m-1.3 4h1.3m0-5.2h1.3m-1.3 1.2h1.3m-1.3 2.6h1.3m0-1.2h1.3m0 0h1.3m0 2.6h1.3m2.6-2.6h1.3" stroke="#1e70a7" stroke-width="1.3" shape-rendering="crispEdges"/>
<path d="M622.8 586.8h1.3m-1.3 39h1.3m1.3-2.6h1.3m-1.3 2.6h1.3m1.3-33.9h1.3m0 29.9h1.3m0 7.8h1.3m0-2.6h1.3m1.3-1.2h1.3m0-1.4h1.3m1.3-9h1.3m0 18.2h1.3m1.3-1.4h1.3m0-2.6h1.3m0-1.2h1.3m-1.3 5.2h1.3m1.3 5.2h1.3m0-7.9h1.3m-1.3 0h1.3m0 0h1.3m-1.3 3.9h1.3m0-6.4h1.3m-1.3 6.4h1.3m0-6.4h1.3m-1.3 5.2h1.3m-1.3 0h1.3m-1.3 0h1.3m-1.3 2.6h1.3m-1.3 1.2h1.3m0 0h1.3m0 0h1.3m-1.3 0h1.3m0-2.6h1.3m-1.3 1.4h1.3m-1.3 1.2h1.3m-1.3 2.6h1.3m0-7.8h1.3m1.3 1.4h1.3m-1.3 1.2h1.3m-1.3 1.4h1.3m1.3-1.4h1.3m-1.3 2.6h1.3m-1.3 2.6h1.3m-1.3 0h1.3m-1.3 1.4h1.3m0-6.6h1.3m0 1.4h1.3m1.3 1.2h1.3m-1.3 0h1.3m0 2.6h1.3m0-2.6h1.3" stroke="#155c98" stroke-width="1.3" shape-rendering="crispEdges"/>
<path d="M621.5 589.4h1.3m1.3 3.8h1.3m0 19.6h1.3m2.6-7.9h1.3m-1.3 1.3h1.3m1.3 0h1.3m1.3-18.2h1.3m1.3 15.6h1.3m2.6 5.2h1.3m6.5 22.1h1.3m2.6 1.3h1.3m3.9 2.6h1.3m9.1 6.6h1.3" stroke="#c8e9c2" stroke-width="1.3" shape-rendering="crispEdges"/>
<path d="M626.7 627h1.3m0-7.8h1.3m-1.3 2.6h1.3m1.3 2.6h1.3m1.3-2.6h1.3m-1.3 2.6h1.3m0-28.6h1.3m-1.3 33.8h1.3m0-23.4h1.3m0 20.8h1.3m-1.3 0h1.3m0-27.2h1.3m-1.3 23.4h1.3m0 9h1.3m1.3-2.6h1.3m-1.3 5.2h1.3m-1.3 0h1.3m0-9h1.3m-1.3 5.1h1.3m0-3.9h1.3m0 2.6h1.3m-1.3 6.6h1.3m0-6.6h1.3m-1.3 1.3h1.3m0 0h1.3m-1.3 0h1.3m-1.3 7.9h1.3m-1.3 1.2h1.3m0-9.1h1.3m-1.3 1.3h1.3m-1.3 2.6h1.3m0-3.9h1.3m-1.3 2.7h1.3m-1.3 3.8h1.3m-1.3 2.6h1.3m-1.3 1.4h1.3m0-13h1.3m-1.3 6.4h1.3m-1.3 2.6h1.3m-1.3 2.6h1.3m-1.3 0h1.3m0-5.2h1.3m-1.3 1.4h1.3m-1.3 3.8h1.3m0-7.8h1.3m-1.3 1.4h1.3m0 0h1.3m-1.3 2.6h1.3m-1.3 2.6h1.3m0-6.6h1.3m-1.3 2.6h1.3m-1.3 1.4h1.3m-1.3 5.2h1.3m0-1.4h1.3m0-3.8h1.3m-1.3 3.8h1.3m-1.3 1.4h1.3m-1.3 0h1.3m0-6.6h1.3m-1.3 2.6h1.3m0-3.8h1.3m-1.3 5.2h1.3m0-5.2h1.3m0 2.6h1.3m-1.3 1.2h1.3m-1.3 0h1.3m0 0h1.3m-1.3 1.4h1.3m-1.3 1.2h1.3m-1.3 1.4h1.3m1.3-1.4h1.3m-1.3 1.4h1.3m0-1.4h1.3m-1.3 0h1.3m0-1.2h1.3m-1.3 2.6h1.3m0 0h1.3m-1.3 0h1.3" stroke="#0c4a89" stroke-width="1.3" shape-rendering="crispEdges"/></g>
<rect x="620.2" y="583.5" width="59.1" height="58.9" fill="none" stroke="#444" stroke-width="1.0"/>
<text x="643.9" y="579.0" font-size="6.8" font-style="italic" fill="#222" text-anchor="middle">Cmtm8</text>
<line x1="389.2" y1="644.1" x2="453.6" y2="670.3" stroke="#c94f80" stroke-width="0.8"/>
<line x1="448.7" y1="644.1" x2="474.4" y2="670.3" stroke="#c94f80" stroke-width="0.8"/>
<line x1="472.3" y1="643" x2="505.3" y2="669.6" stroke="#c94f80" stroke-width="0.8"/>
<line x1="531.6" y1="643" x2="515.6" y2="669.6" stroke="#c94f80" stroke-width="0.8"/>
<line x1="542.9" y1="642.6" x2="525.3" y2="669.6" stroke="#c94f80" stroke-width="0.8"/>
<line x1="602.4" y1="642.6" x2="531.7" y2="669.6" stroke="#c94f80" stroke-width="0.8"/>
<polygon points="399.3,709.8 400.4,702.1 402.8,698.1 405.3,699.4 409.3,698.1 411.7,704.5 413.3,707.3 416.5,705.3 418.9,709 422.9,707.4 426.1,709.3 433.4,705 439,705 441.4,700.5 443.5,690.9 446.2,703.7 451.8,706.1 454.2,706.9 457.4,678 460.2,699.7 463.9,695.7 467.1,702.1 470.3,700.5 473.5,704.5 477.5,700.5 481.5,704.5 484.7,700.5 488.8,702.9 491.2,706.9 494.4,700.5 497.4,702.1 499.8,706.9 501.4,709.3 504.6,707.7 507.8,709 511.9,705 515.9,707.3 518.8,709.3 521.5,707.7 525.5,706.9 528.7,693.3 530.7,702.1 533.5,706.1 538,709 542.4,702.9 545.6,707.7 548.8,707.7 552.8,702.9 556,704.5 559.2,700.5 562.4,709.3 566.5,707.7 568.9,709.3 572.9,700.2 579.3,700.2 583.3,704.5 587.3,702.9 590.6,702.9 597,707.7 597,710.1" fill="#c9232c"/>
<polygon points="399.6,748.2 400,739.2 402,740.8 406.1,738.9 410.1,748.2 415.7,738.9 419.7,736 422.9,744.5 426.1,744.5 429.3,747.7 432.6,742.1 436.6,739.2 440.6,744.5 443,744.5 446.2,736 450.2,733.8 452.6,734.9 456.6,728 460.7,734.1 464.7,740.2 467.1,741.3 469.8,736.5 473.2,742.9 476.7,736.5 479.9,741.3 483.1,738.9 487.2,742.1 490.4,747.7 494.4,738.9 496.6,730.9 498.2,735.7 500.6,744.5 503.8,744.5 510.3,736 513.5,741.3 516.7,739.2 519.9,739.2 524.7,742.1 527.9,742.9 530.3,746.1 532.7,736 536.8,741.8 543.2,741.8 546.7,738.9 550.4,744.5 556.8,744.5 560,733.8 563.7,740.5 570.5,730.9 574.5,746.1 576.9,747.7 580.1,742.1 583.3,747.7 587.3,747.3 591.4,744.5 593.8,744.5 593.8,748.2" fill="#1f2a66"/>
<line x1="395.8" y1="710.3" x2="602" y2="710.3" stroke="#333" stroke-width="0.9"/>
<line x1="395.8" y1="748.5" x2="602" y2="748.5" stroke="#333" stroke-width="0.9"/>
<line x1="440.5" y1="748.5" x2="440.5" y2="750.3" stroke="#555" stroke-width="0.5"/>
<line x1="486" y1="748.5" x2="486" y2="750.3" stroke="#555" stroke-width="0.5"/>
<line x1="530.5" y1="748.5" x2="530.5" y2="750.3" stroke="#555" stroke-width="0.5"/>
<text x="394.5" y="688" font-size="13" fill="#111">D0</text>
<text x="394.5" y="732.8" font-size="13" fill="#111">D1</text>
<rect x="453.6" y="669.8" width="20.9" height="78.4" fill="none" stroke="#c94f80" stroke-width="0.8"/>
<rect x="505.4" y="669.8" width="10.2" height="78.4" fill="none" stroke="#c94f80" stroke-width="0.8"/>
<rect x="525.4" y="669.8" width="6.3" height="78.4" fill="none" stroke="#c94f80" stroke-width="0.8"/>
<rect x="453.6" y="748.2" width="21" height="1.6" fill="#e09ab4"/>
<rect x="505.4" y="748.2" width="10.2" height="1.2" fill="#c0406a"/>
<text x="393.3" y="770.4" font-size="6.7" fill="#222" text-anchor="end">Open region</text>
<text x="393.3" y="780.9" font-size="6.7" fill="#222" text-anchor="end">Enhancer cluster</text>
<text x="393.3" y="790.9" font-size="6.7" fill="#222" text-anchor="end">Enhancer unit</text>
<text x="393.3" y="800.6999999999999" font-size="6.7" fill="#222" text-anchor="end">Gene</text>
<rect x="450.2" y="764" width="0.6" height="4.2" fill="#777"/>
<rect x="453" y="764" width="10.0" height="4.2" fill="#777"/>
<rect x="465.3" y="764" width="2.7" height="4.2" fill="#777"/>
<rect x="505.5" y="764" width="6.6" height="4.2" fill="#777"/>
<rect x="526.8" y="764" width="1.8" height="4.2" fill="#777"/>
<rect x="532" y="764" width="2.2" height="4.2" fill="#777"/>
<rect x="546.2" y="764" width="1.4" height="4.2" fill="#777"/>
<rect x="576.7" y="764" width="4.5" height="4.2" fill="#777"/>
<rect x="453" y="774.3" width="10.0" height="4.4" fill="#ea7a2b"/>
<rect x="465.3" y="774.3" width="2.5" height="4.4" fill="#ea7a2b"/>
<rect x="505.5" y="774.3" width="6.6" height="4.4" fill="#ea7a2b"/>
<rect x="527" y="774.3" width="1.6" height="4.4" fill="#ea7a2b"/>
<rect x="453" y="785.2" width="10.0" height="4.8" fill="#1f2a66"/>
<rect x="465.3" y="785.2" width="2.7" height="4.8" fill="#1f2a66"/>
<rect x="505.5" y="785.2" width="6.6" height="4.8" fill="#f2d52a"/>
<rect x="527" y="785.2" width="1.9" height="4.8" fill="#7b2a90"/>
<rect x="407.8" y="800.4" width="192.3" height="4.8" fill="#777"/>
<rect x="407.3" y="798.3" width="1.6" height="9" fill="#777"/>
<line x1="415.7" y1="798.8" x2="415.7" y2="806.8" stroke="#777" stroke-width="0.6"/>
<line x1="452.5" y1="798.8" x2="452.5" y2="806.8" stroke="#777" stroke-width="0.6"/>
<text x="600.1" y="797.2" font-size="6.8" font-style="italic" fill="#999" text-anchor="end">Cmtm8</text>
<text x="641.2" y="667.6" font-size="6.8" font-style="italic" fill="#222" text-anchor="middle">Cmtm8</text>
<line x1="612.1" y1="672.2" x2="665.6" y2="672.2" stroke="#555" stroke-width="0.6"/>
<polygon points="619.0,681.8 619.5,682.3 620.0,683.6 620.5,685.0 621.0,685.5 621.5,685.8 622.0,686.5 622.5,687.3 623.0,687.9 623.5,687.9 624.0,687.2 624.5,685.9 625.0,684.5 625.5,683.4 626.0,683.0 626.5,682.8 627.0,682.4 627.5,681.8 628.0,681.1 628.5,680.7 629.0,680.5 629.5,680.5 630.0,680.4 630.5,680.2 631.0,680.0 631.5,679.9 632.0,679.9 632.5,680.0 633.0,680.1 633.5,680.4 634.0,680.7 634.5,681.0 635.0,681.3 635.5,681.4 636.0,681.5 636.5,681.6 637.0,682.0 637.5,682.6 638.0,683.2 638.5,683.9 639.0,684.5 639.5,684.9 640.0,685.0 640.5,685.1 641.0,685.4 641.5,685.8 642.0,686.4 642.5,687.0 643.0,687.7 643.5,688.3 644.0,688.7 644.5,689.0 645.0,689.1 645.5,689.2 646.0,689.4 646.5,689.7 647.0,690.1 647.5,690.5 648.0,690.9 648.5,691.3 649.0,691.6 649.5,691.8 650.0,691.9 650.5,691.9 651.0,692.0 651.5,692.1 652.0,692.2 652.5,692.3 653.0,692.5 653.5,692.7 654.0,692.8 654.5,693.0 655.0,693.1 655.5,693.1 656.0,693.2 656.0,693.8 655.5,693.9 655.0,693.9 654.5,694.0 654.0,694.2 653.5,694.3 653.0,694.5 652.5,694.7 652.0,694.8 651.5,694.9 651.0,695.0 650.5,695.1 650.0,695.1 649.5,695.2 649.0,695.4 648.5,695.7 648.0,696.1 647.5,696.5 647.0,696.9 646.5,697.3 646.0,697.6 645.5,697.8 645.0,697.9 644.5,698.0 644.0,698.3 643.5,698.7 643.0,699.3 642.5,700.0 642.0,700.6 641.5,701.2 641.0,701.6 640.5,701.9 640.0,702.0 639.5,702.1 639.0,702.5 638.5,703.1 638.0,703.8 637.5,704.4 637.0,705.0 636.5,705.4 636.0,705.5 635.5,705.6 635.0,705.7 634.5,706.0 634.0,706.3 633.5,706.6 633.0,706.9 632.5,707.0 632.0,707.1 631.5,707.1 631.0,707.0 630.5,706.8 630.0,706.6 629.5,706.5 629.0,706.5 628.5,706.3 628.0,705.9 627.5,705.2 627.0,704.6 626.5,704.2 626.0,704.0 625.5,703.6 625.0,702.5 624.5,701.1 624.0,699.8 623.5,699.1 623.0,699.1 622.5,699.7 622.0,700.5 621.5,701.2 621.0,701.5 620.5,702.0 620.0,703.4 619.5,704.7 619.0,705.2" fill="#d0262b" stroke="#333" stroke-width="0.5" stroke-linejoin="round"/>
<polygon points="619.0,723.0 619.5,723.6 620.0,724.7 620.5,725.3 621.0,725.8 621.5,726.6 622.0,727.1 622.5,726.5 623.0,724.9 623.5,723.4 624.0,722.8 624.5,722.6 625.0,721.9 625.5,721.0 626.0,720.2 626.5,719.5 627.0,719.3 627.5,719.2 628.0,719.0 628.5,718.6 629.0,718.3 629.5,718.1 630.0,718.0 630.5,718.0 631.0,717.9 631.5,717.8 632.0,717.7 632.5,717.6 633.0,717.5 633.5,717.4 634.0,717.4 634.5,717.5 635.0,717.7 635.5,718.0 636.0,718.3 636.5,718.7 637.0,719.0 637.5,719.2 638.0,719.3 638.5,719.4 639.0,719.8 639.5,720.4 640.0,721.0 640.5,721.7 641.0,722.3 641.5,722.7 642.0,722.8 642.5,722.9 643.0,723.3 643.5,723.9 644.0,724.5 644.5,725.2 645.0,725.8 645.5,726.2 646.0,726.3 646.5,726.4 647.0,726.7 647.5,727.2 648.0,727.8 648.5,728.3 649.0,728.8 649.5,729.1 650.0,729.2 650.5,729.3 651.0,729.4 651.5,729.7 652.0,730.0 652.5,730.2 653.0,730.4 653.5,730.5 653.5,731.1 653.0,731.2 652.5,731.4 652.0,731.6 651.5,731.9 651.0,732.2 650.5,732.3 650.0,732.4 649.5,732.5 649.0,732.8 648.5,733.3 648.0,733.8 647.5,734.4 647.0,734.9 646.5,735.2 646.0,735.3 645.5,735.4 645.0,735.8 644.5,736.4 644.0,737.0 643.5,737.7 643.0,738.3 642.5,738.7 642.0,738.8 641.5,738.9 641.0,739.3 640.5,739.9 640.0,740.5 639.5,741.2 639.0,741.8 638.5,742.2 638.0,742.3 637.5,742.4 637.0,742.6 636.5,742.9 636.0,743.2 635.5,743.6 635.0,743.9 634.5,744.1 634.0,744.2 633.5,744.2 633.0,744.1 632.5,744.0 632.0,743.9 631.5,743.8 631.0,743.7 630.5,743.6 630.0,743.6 629.5,743.5 629.0,743.3 628.5,742.9 628.0,742.6 627.5,742.4 627.0,742.3 626.5,742.1 626.0,741.4 625.5,740.5 625.0,739.7 624.5,739.0 624.0,738.8 623.5,738.2 623.0,736.6 622.5,735.1 622.0,734.5 621.5,734.9 621.0,735.8 620.5,736.3 620.0,736.9 619.5,738.0 619.0,738.6" fill="#1f2c6c" stroke="#333" stroke-width="0.5" stroke-linejoin="round"/>
<line x1="613.7" y1="749.5" x2="667" y2="749.5" stroke="#444" stroke-width="0.6"/>
<line x1="617.2" y1="749.5" x2="617.2" y2="751" stroke="#444" stroke-width="0.5"/>
<text x="617.2" y="758.7" font-size="6.6" fill="#444" text-anchor="middle">0</text>
<line x1="640.5" y1="749.5" x2="640.5" y2="751" stroke="#444" stroke-width="0.5"/>
<text x="640.5" y="758.7" font-size="6.6" fill="#444" text-anchor="middle">1</text>
<line x1="663.4" y1="749.5" x2="663.4" y2="751" stroke="#444" stroke-width="0.5"/>
<text x="663.4" y="758.7" font-size="6.6" fill="#444" text-anchor="middle">2</text>
<text x="452.5" y="820.3" font-size="6.9" fill="#222" text-anchor="middle">denoised accessibility</text>
<rect x="435.9" y="823.8" width="32.8" height="6.6" fill="url(#gRdPu)"/>
<text x="437.7" y="837.6" font-size="7" fill="#222" text-anchor="middle">0</text>
<text x="466.6" y="837.6" font-size="7" fill="#222" text-anchor="middle">1</text>
<text x="615.1" y="817" font-size="6.9" fill="#222" text-anchor="middle">denoised gene scores</text>
<rect x="583.8" y="822.8" width="34.2" height="6.3" fill="url(#gGnBu)"/>
<text x="585.9" y="836.4" font-size="7" fill="#222" text-anchor="middle">0</text>
<text x="614.8" y="836.4" font-size="7" fill="#222" text-anchor="middle">1</text>
</svg>
</body></html>
